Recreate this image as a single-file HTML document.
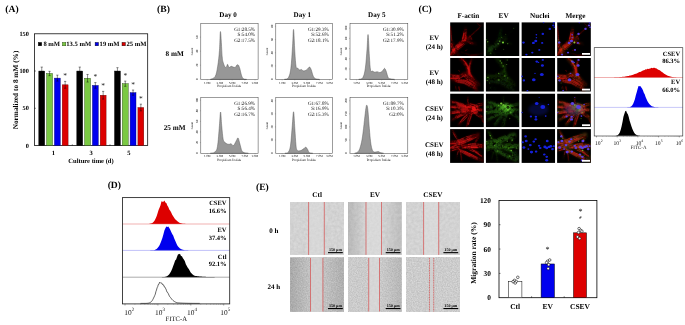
<!DOCTYPE html>
<html><head><meta charset="utf-8"><title>Figure</title>
<style>
html,body{margin:0;padding:0;background:#fff;}
svg{display:block;font-family:"Liberation Serif", serif;text-rendering:geometricPrecision;}
</style></head><body>
<svg width="685" height="325" viewBox="0 0 685 325">
<rect x="0" y="0" width="685" height="325" fill="#fff"/>
<text x="5.30" y="11.70" font-size="9.6" font-weight="bold" text-anchor="start" fill="#000" >(A)</text>
<text x="157.10" y="11.70" font-size="9.6" font-weight="bold" text-anchor="start" fill="#000" >(B)</text>
<text x="418.50" y="11.70" font-size="9.6" font-weight="bold" text-anchor="start" fill="#000" >(C)</text>
<text x="107.65" y="187.50" font-size="9.6" font-weight="bold" text-anchor="start" fill="#000" >(D)</text>
<text x="256.00" y="190.10" font-size="9.6" font-weight="bold" text-anchor="start" fill="#000" >(E)</text>
<rect x="34.50" y="33.80" width="113.20" height="111.70" fill="none" stroke="#000" stroke-width="0.75" />
<text x="28.90" y="147.60" font-size="6.3" font-weight="bold" text-anchor="end" fill="#000" >0</text>
<text x="28.90" y="110.37" font-size="6.3" font-weight="bold" text-anchor="end" fill="#000" >50</text>
<text x="28.90" y="73.13" font-size="6.3" font-weight="bold" text-anchor="end" fill="#000" >100</text>
<text x="28.90" y="35.90" font-size="6.3" font-weight="bold" text-anchor="end" fill="#000" >150</text>
<line x1="34.50" y1="108.27" x2="35.90" y2="108.27" stroke="#000" stroke-width="0.5" />
<line x1="34.50" y1="71.03" x2="35.90" y2="71.03" stroke="#000" stroke-width="0.5" />
<rect x="38.80" y="71.03" width="5.90" height="74.47" fill="#000000" stroke="#000" stroke-width="0.4" />
<line x1="41.75" y1="67.09" x2="41.75" y2="74.98" stroke="#000" stroke-width="0.45" />
<line x1="40.65" y1="67.09" x2="42.85" y2="67.09" stroke="#000" stroke-width="0.45" />
<line x1="40.65" y1="74.98" x2="42.85" y2="74.98" stroke="#000" stroke-width="0.45" />
<rect x="46.60" y="73.49" width="5.90" height="72.01" fill="#7ac943" stroke="#1f3d0c" stroke-width="0.4" />
<line x1="49.55" y1="71.33" x2="49.55" y2="75.65" stroke="#000" stroke-width="0.45" />
<line x1="48.45" y1="71.33" x2="50.65" y2="71.33" stroke="#000" stroke-width="0.45" />
<line x1="48.45" y1="75.65" x2="50.65" y2="75.65" stroke="#000" stroke-width="0.45" />
<rect x="54.40" y="78.11" width="5.90" height="67.39" fill="#0000ee" stroke="#000066" stroke-width="0.4" />
<line x1="57.35" y1="75.13" x2="57.35" y2="81.09" stroke="#000" stroke-width="0.45" />
<line x1="56.25" y1="75.13" x2="58.45" y2="75.13" stroke="#000" stroke-width="0.45" />
<line x1="56.25" y1="81.09" x2="58.45" y2="81.09" stroke="#000" stroke-width="0.45" />
<rect x="62.20" y="84.81" width="5.90" height="60.69" fill="#dd0000" stroke="#660000" stroke-width="0.4" />
<line x1="65.15" y1="81.38" x2="65.15" y2="88.24" stroke="#000" stroke-width="0.45" />
<line x1="64.05" y1="81.38" x2="66.25" y2="81.38" stroke="#000" stroke-width="0.45" />
<line x1="64.05" y1="88.24" x2="66.25" y2="88.24" stroke="#000" stroke-width="0.45" />
<text x="65.15" y="77.88" font-size="7.5" font-weight="normal" text-anchor="middle" fill="#222" >*</text>
<rect x="76.80" y="71.03" width="5.90" height="74.47" fill="#000000" stroke="#000" stroke-width="0.4" />
<line x1="79.75" y1="67.09" x2="79.75" y2="74.98" stroke="#000" stroke-width="0.45" />
<line x1="78.65" y1="67.09" x2="80.85" y2="67.09" stroke="#000" stroke-width="0.45" />
<line x1="78.65" y1="74.98" x2="80.85" y2="74.98" stroke="#000" stroke-width="0.45" />
<rect x="84.60" y="78.26" width="5.90" height="67.24" fill="#7ac943" stroke="#1f3d0c" stroke-width="0.4" />
<line x1="87.55" y1="74.46" x2="87.55" y2="82.05" stroke="#000" stroke-width="0.45" />
<line x1="86.45" y1="74.46" x2="88.65" y2="74.46" stroke="#000" stroke-width="0.45" />
<line x1="86.45" y1="82.05" x2="88.65" y2="82.05" stroke="#000" stroke-width="0.45" />
<rect x="92.40" y="85.41" width="5.90" height="60.09" fill="#0000ee" stroke="#000066" stroke-width="0.4" />
<line x1="95.35" y1="82.58" x2="95.35" y2="88.24" stroke="#000" stroke-width="0.45" />
<line x1="94.25" y1="82.58" x2="96.45" y2="82.58" stroke="#000" stroke-width="0.45" />
<line x1="94.25" y1="88.24" x2="96.45" y2="88.24" stroke="#000" stroke-width="0.45" />
<text x="95.35" y="79.08" font-size="7.5" font-weight="normal" text-anchor="middle" fill="#222" >*</text>
<rect x="100.20" y="95.23" width="5.90" height="50.27" fill="#dd0000" stroke="#660000" stroke-width="0.4" />
<line x1="103.15" y1="91.36" x2="103.15" y2="99.11" stroke="#000" stroke-width="0.45" />
<line x1="102.05" y1="91.36" x2="104.25" y2="91.36" stroke="#000" stroke-width="0.45" />
<line x1="102.05" y1="99.11" x2="104.25" y2="99.11" stroke="#000" stroke-width="0.45" />
<text x="103.15" y="87.86" font-size="7.5" font-weight="normal" text-anchor="middle" fill="#222" >*</text>
<rect x="114.50" y="71.03" width="5.90" height="74.47" fill="#000000" stroke="#000" stroke-width="0.4" />
<line x1="117.45" y1="67.68" x2="117.45" y2="74.38" stroke="#000" stroke-width="0.45" />
<line x1="116.35" y1="67.68" x2="118.55" y2="67.68" stroke="#000" stroke-width="0.45" />
<line x1="116.35" y1="74.38" x2="118.55" y2="74.38" stroke="#000" stroke-width="0.45" />
<rect x="122.30" y="83.69" width="5.90" height="61.81" fill="#7ac943" stroke="#1f3d0c" stroke-width="0.4" />
<line x1="125.25" y1="81.09" x2="125.25" y2="86.30" stroke="#000" stroke-width="0.45" />
<line x1="124.15" y1="81.09" x2="126.35" y2="81.09" stroke="#000" stroke-width="0.45" />
<line x1="124.15" y1="86.30" x2="126.35" y2="86.30" stroke="#000" stroke-width="0.45" />
<text x="125.25" y="77.59" font-size="7.5" font-weight="normal" text-anchor="middle" fill="#222" >*</text>
<rect x="130.10" y="92.63" width="5.90" height="52.87" fill="#0000ee" stroke="#000066" stroke-width="0.4" />
<line x1="133.05" y1="90.02" x2="133.05" y2="95.23" stroke="#000" stroke-width="0.45" />
<line x1="131.95" y1="90.02" x2="134.15" y2="90.02" stroke="#000" stroke-width="0.45" />
<line x1="131.95" y1="95.23" x2="134.15" y2="95.23" stroke="#000" stroke-width="0.45" />
<text x="133.05" y="86.52" font-size="7.5" font-weight="normal" text-anchor="middle" fill="#222" >*</text>
<rect x="137.90" y="107.52" width="5.90" height="37.98" fill="#dd0000" stroke="#660000" stroke-width="0.4" />
<line x1="140.85" y1="104.17" x2="140.85" y2="110.87" stroke="#000" stroke-width="0.45" />
<line x1="139.75" y1="104.17" x2="141.95" y2="104.17" stroke="#000" stroke-width="0.45" />
<line x1="139.75" y1="110.87" x2="141.95" y2="110.87" stroke="#000" stroke-width="0.45" />
<text x="140.85" y="100.67" font-size="7.5" font-weight="normal" text-anchor="middle" fill="#222" >*</text>
<line x1="72.30" y1="145.50" x2="72.30" y2="144.30" stroke="#000" stroke-width="0.5" />
<line x1="110.00" y1="145.50" x2="110.00" y2="144.30" stroke="#000" stroke-width="0.5" />
<text x="53.40" y="155.30" font-size="6.5" font-weight="bold" text-anchor="middle" fill="#000" >1</text>
<text x="91.20" y="155.30" font-size="6.5" font-weight="bold" text-anchor="middle" fill="#000" >3</text>
<text x="128.90" y="155.30" font-size="6.5" font-weight="bold" text-anchor="middle" fill="#000" >5</text>
<text x="91.00" y="162.90" font-size="6.55" font-weight="bold" text-anchor="middle" fill="#000" >Culture time (d)</text>
<text transform="translate(17.8,90) rotate(-90)" font-size="7.3" font-weight="bold" text-anchor="middle">Normalized to 8 mM (%)</text>
<rect x="38.30" y="42.40" width="3.40" height="3.40" fill="#000" stroke="#000" stroke-width="0.4" />
<text x="43.40" y="46.40" font-size="6.6" font-weight="bold" text-anchor="start" fill="#000" >8 mM</text>
<rect x="62.40" y="42.40" width="3.40" height="3.40" fill="#7ac943" stroke="#1f3d0c" stroke-width="0.4" />
<text x="66.30" y="46.40" font-size="6.6" font-weight="bold" text-anchor="start" fill="#000" >13.5 mM</text>
<rect x="95.10" y="42.40" width="3.40" height="3.40" fill="#0000ee" stroke="#000" stroke-width="0.4" />
<text x="99.60" y="46.40" font-size="6.6" font-weight="bold" text-anchor="start" fill="#000" >19 mM</text>
<rect x="122.00" y="42.40" width="3.40" height="3.40" fill="#dd0000" stroke="#000" stroke-width="0.4" />
<text x="126.50" y="46.40" font-size="6.6" font-weight="bold" text-anchor="start" fill="#000" >25 mM</text>
<text x="228.10" y="17.30" font-size="7.1" font-weight="bold" text-anchor="middle" fill="#000" >Day 0</text>
<text x="302.30" y="17.30" font-size="7.1" font-weight="bold" text-anchor="middle" fill="#000" >Day 1</text>
<text x="376.80" y="17.30" font-size="7.1" font-weight="bold" text-anchor="middle" fill="#000" >Day 5</text>
<text x="174.60" y="56.30" font-size="7.2" font-weight="bold" text-anchor="middle" fill="#000" >8 mM</text>
<text x="174.60" y="129.70" font-size="7.2" font-weight="bold" text-anchor="middle" fill="#000" >25 mM</text>
<path d="M210.31,79.40 C211.19,78.87 213.85,78.86 215.18,76.47 C216.51,74.08 216.93,70.84 217.70,66.14 C218.48,61.43 218.97,56.55 219.48,50.33 C219.99,44.12 220.03,30.50 220.51,31.60 C221.00,32.71 221.69,50.92 222.17,56.47 C222.66,62.02 222.68,60.53 223.20,62.44 C223.73,64.35 224.49,66.31 225.10,67.08 C225.70,67.84 226.15,67.19 226.59,66.69 C227.02,66.19 227.05,64.21 227.50,64.31 C227.96,64.42 228.44,66.94 229.11,67.30 C229.78,67.66 230.50,66.34 231.23,66.30 C231.95,66.26 232.38,66.90 233.12,67.08 C233.85,67.26 234.63,67.65 235.29,67.30 C235.95,66.95 236.23,65.53 236.78,65.14 C237.34,64.76 237.84,64.53 238.39,65.14 C238.94,65.76 239.27,66.77 239.82,68.57 C240.37,70.37 240.77,73.30 241.43,75.15 C242.09,76.99 242.55,78.03 243.49,78.79 C244.43,79.56 246.07,79.29 246.64,79.40 Z" fill="#979797" stroke="#505050" stroke-width="0.45" stroke-linejoin="round"/>
<rect x="200.80" y="23.40" width="57.30" height="56.10" fill="none" stroke="#3a3a3a" stroke-width="0.5" />
<text x="255.00" y="30.50" font-size="5.1" font-weight="normal" text-anchor="end" fill="#111" >G1:28.5%</text>
<text x="255.00" y="36.10" font-size="5.1" font-weight="normal" text-anchor="end" fill="#111" >S:54.0%</text>
<text x="255.00" y="41.70" font-size="5.1" font-weight="normal" text-anchor="end" fill="#111" >G2:17.5%</text>
<line x1="207.22" y1="79.50" x2="207.22" y2="80.40" stroke="#555" stroke-width="0.3" />
<text x="207.22" y="83.50" font-size="3.1" font-weight="normal" text-anchor="middle" fill="#000" >1.0M</text>
<line x1="219.88" y1="79.50" x2="219.88" y2="80.40" stroke="#555" stroke-width="0.3" />
<text x="219.88" y="83.50" font-size="3.1" font-weight="normal" text-anchor="middle" fill="#000" >3.0M</text>
<line x1="232.20" y1="79.50" x2="232.20" y2="80.40" stroke="#555" stroke-width="0.3" />
<text x="232.20" y="83.50" font-size="3.1" font-weight="normal" text-anchor="middle" fill="#000" >5.0M</text>
<line x1="244.81" y1="79.50" x2="244.81" y2="80.40" stroke="#555" stroke-width="0.3" />
<text x="244.81" y="83.50" font-size="3.1" font-weight="normal" text-anchor="middle" fill="#000" >7.0M</text>
<line x1="255.01" y1="79.50" x2="255.01" y2="80.40" stroke="#555" stroke-width="0.3" />
<text x="255.01" y="83.50" font-size="3.1" font-weight="normal" text-anchor="middle" fill="#000" >9.0M</text>
<text x="229.11" y="87.10" font-size="3.4" font-weight="normal" text-anchor="middle" fill="#000" >Propidium Iodide</text>
<line x1="199.90" y1="79.20" x2="200.80" y2="79.20" stroke="#555" stroke-width="0.3" />
<text transform="translate(198.20,79.20) rotate(-90)" font-size="3.1" text-anchor="middle" fill="#000">0</text>
<line x1="199.90" y1="65.17" x2="200.80" y2="65.17" stroke="#555" stroke-width="0.3" />
<text transform="translate(198.20,65.17) rotate(-90)" font-size="3.1" text-anchor="middle" fill="#000">20</text>
<line x1="199.90" y1="51.15" x2="200.80" y2="51.15" stroke="#555" stroke-width="0.3" />
<text transform="translate(198.20,51.15) rotate(-90)" font-size="3.1" text-anchor="middle" fill="#000">40</text>
<line x1="199.90" y1="37.12" x2="200.80" y2="37.12" stroke="#555" stroke-width="0.3" />
<text transform="translate(198.20,37.12) rotate(-90)" font-size="3.1" text-anchor="middle" fill="#000">60</text>
<text transform="translate(193.00,51.45) rotate(-90)" font-size="3.1" text-anchor="middle" fill="#000">Count</text>
<path d="M284.32,79.40 C285.04,79.10 287.12,79.73 288.30,77.74 C289.47,75.75 290.09,74.02 290.85,68.35 C291.62,62.68 292.07,53.25 292.56,46.24 C293.05,39.24 293.17,28.45 293.58,29.45 C293.99,30.44 294.38,45.09 294.83,51.77 C295.28,58.45 295.52,63.60 296.08,66.58 C296.64,69.56 297.31,67.73 297.95,68.35 C298.60,68.96 299.04,69.81 299.66,70.01 C300.27,70.20 300.75,69.30 301.36,69.45 C301.97,69.60 302.35,70.64 303.06,70.83 C303.78,71.03 304.52,70.91 305.34,70.56 C306.15,70.21 306.84,69.53 307.61,68.90 C308.37,68.27 308.93,66.88 309.60,67.08 C310.26,67.28 310.64,68.35 311.30,70.01 C311.96,71.66 312.52,74.68 313.29,76.25 C314.05,77.82 314.44,78.17 315.56,78.74 C316.68,79.30 318.82,79.28 319.54,79.40 Z" fill="#979797" stroke="#505050" stroke-width="0.45" stroke-linejoin="round"/>
<rect x="275.80" y="23.40" width="56.80" height="56.10" fill="none" stroke="#3a3a3a" stroke-width="0.5" />
<text x="328.70" y="30.50" font-size="5.1" font-weight="normal" text-anchor="end" fill="#111" >G1:29.3%</text>
<text x="328.70" y="36.10" font-size="5.1" font-weight="normal" text-anchor="end" fill="#111" >S:52.6%</text>
<text x="328.70" y="41.70" font-size="5.1" font-weight="normal" text-anchor="end" fill="#111" >G2:18.1%</text>
<line x1="282.16" y1="79.50" x2="282.16" y2="80.40" stroke="#555" stroke-width="0.3" />
<text x="282.16" y="83.50" font-size="3.1" font-weight="normal" text-anchor="middle" fill="#000" >1.0M</text>
<line x1="294.71" y1="79.50" x2="294.71" y2="80.40" stroke="#555" stroke-width="0.3" />
<text x="294.71" y="83.50" font-size="3.1" font-weight="normal" text-anchor="middle" fill="#000" >3.0M</text>
<line x1="306.93" y1="79.50" x2="306.93" y2="80.40" stroke="#555" stroke-width="0.3" />
<text x="306.93" y="83.50" font-size="3.1" font-weight="normal" text-anchor="middle" fill="#000" >5.0M</text>
<line x1="319.42" y1="79.50" x2="319.42" y2="80.40" stroke="#555" stroke-width="0.3" />
<text x="319.42" y="83.50" font-size="3.1" font-weight="normal" text-anchor="middle" fill="#000" >7.0M</text>
<line x1="329.53" y1="79.50" x2="329.53" y2="80.40" stroke="#555" stroke-width="0.3" />
<text x="329.53" y="83.50" font-size="3.1" font-weight="normal" text-anchor="middle" fill="#000" >9.0M</text>
<text x="303.86" y="87.10" font-size="3.4" font-weight="normal" text-anchor="middle" fill="#000" >Propidium Iodide</text>
<line x1="274.90" y1="79.20" x2="275.80" y2="79.20" stroke="#555" stroke-width="0.3" />
<text transform="translate(273.20,79.20) rotate(-90)" font-size="3.1" text-anchor="middle" fill="#000">0</text>
<line x1="274.90" y1="65.96" x2="275.80" y2="65.96" stroke="#555" stroke-width="0.3" />
<text transform="translate(273.20,65.96) rotate(-90)" font-size="3.1" text-anchor="middle" fill="#000">20</text>
<line x1="274.90" y1="52.72" x2="275.80" y2="52.72" stroke="#555" stroke-width="0.3" />
<text transform="translate(273.20,52.72) rotate(-90)" font-size="3.1" text-anchor="middle" fill="#000">40</text>
<line x1="274.90" y1="39.48" x2="275.80" y2="39.48" stroke="#555" stroke-width="0.3" />
<text transform="translate(273.20,39.48) rotate(-90)" font-size="3.1" text-anchor="middle" fill="#000">60</text>
<line x1="274.90" y1="26.24" x2="275.80" y2="26.24" stroke="#555" stroke-width="0.3" />
<text transform="translate(273.20,26.24) rotate(-90)" font-size="3.1" text-anchor="middle" fill="#000">80</text>
<text transform="translate(268.00,51.45) rotate(-90)" font-size="3.1" text-anchor="middle" fill="#000">Count</text>
<path d="M358.67,79.40 C359.40,79.10 361.52,79.73 362.72,77.74 C363.91,75.75 364.54,73.52 365.32,68.35 C366.10,63.18 366.55,55.08 367.05,49.01 C367.55,42.94 367.68,33.35 368.09,34.64 C368.51,35.93 368.92,49.79 369.36,56.19 C369.81,62.60 370.00,67.54 370.58,70.23 C371.15,72.91 371.77,70.75 372.54,71.11 C373.31,71.47 374.02,72.12 374.85,72.22 C375.69,72.32 376.33,71.61 377.17,71.66 C378.00,71.71 378.65,72.49 379.48,72.49 C380.31,72.49 381.06,72.21 381.79,71.66 C382.52,71.12 383.00,70.03 383.52,69.45 C384.04,68.88 384.21,68.16 384.68,68.46 C385.15,68.76 385.50,69.49 386.12,71.11 C386.75,72.73 387.37,76.07 388.15,77.47 C388.93,78.86 389.32,78.50 390.46,78.85 C391.60,79.20 393.78,79.30 394.51,79.40 Z" fill="#979797" stroke="#505050" stroke-width="0.45" stroke-linejoin="round"/>
<rect x="350.00" y="23.40" width="57.80" height="56.10" fill="none" stroke="#3a3a3a" stroke-width="0.5" />
<text x="403.70" y="30.50" font-size="5.1" font-weight="normal" text-anchor="end" fill="#111" >G1:30.9%</text>
<text x="403.70" y="36.10" font-size="5.1" font-weight="normal" text-anchor="end" fill="#111" >S:51.2%</text>
<text x="403.70" y="41.70" font-size="5.1" font-weight="normal" text-anchor="end" fill="#111" >G2:17.9%</text>
<line x1="356.47" y1="79.50" x2="356.47" y2="80.40" stroke="#555" stroke-width="0.3" />
<text x="356.47" y="83.50" font-size="3.1" font-weight="normal" text-anchor="middle" fill="#000" >1.0M</text>
<line x1="369.25" y1="79.50" x2="369.25" y2="80.40" stroke="#555" stroke-width="0.3" />
<text x="369.25" y="83.50" font-size="3.1" font-weight="normal" text-anchor="middle" fill="#000" >3.0M</text>
<line x1="381.67" y1="79.50" x2="381.67" y2="80.40" stroke="#555" stroke-width="0.3" />
<text x="381.67" y="83.50" font-size="3.1" font-weight="normal" text-anchor="middle" fill="#000" >5.0M</text>
<line x1="394.39" y1="79.50" x2="394.39" y2="80.40" stroke="#555" stroke-width="0.3" />
<text x="394.39" y="83.50" font-size="3.1" font-weight="normal" text-anchor="middle" fill="#000" >7.0M</text>
<line x1="404.68" y1="79.50" x2="404.68" y2="80.40" stroke="#555" stroke-width="0.3" />
<text x="404.68" y="83.50" font-size="3.1" font-weight="normal" text-anchor="middle" fill="#000" >9.0M</text>
<text x="378.55" y="87.10" font-size="3.4" font-weight="normal" text-anchor="middle" fill="#000" >Propidium Iodide</text>
<line x1="349.10" y1="79.20" x2="350.00" y2="79.20" stroke="#555" stroke-width="0.3" />
<text transform="translate(347.40,79.20) rotate(-90)" font-size="3.1" text-anchor="middle" fill="#000">0</text>
<line x1="349.10" y1="68.99" x2="350.00" y2="68.99" stroke="#555" stroke-width="0.3" />
<text transform="translate(347.40,68.99) rotate(-90)" font-size="3.1" text-anchor="middle" fill="#000">20</text>
<line x1="349.10" y1="58.78" x2="350.00" y2="58.78" stroke="#555" stroke-width="0.3" />
<text transform="translate(347.40,58.78) rotate(-90)" font-size="3.1" text-anchor="middle" fill="#000">40</text>
<line x1="349.10" y1="48.57" x2="350.00" y2="48.57" stroke="#555" stroke-width="0.3" />
<text transform="translate(347.40,48.57) rotate(-90)" font-size="3.1" text-anchor="middle" fill="#000">60</text>
<line x1="349.10" y1="38.36" x2="350.00" y2="38.36" stroke="#555" stroke-width="0.3" />
<text transform="translate(347.40,38.36) rotate(-90)" font-size="3.1" text-anchor="middle" fill="#000">80</text>
<line x1="349.10" y1="28.15" x2="350.00" y2="28.15" stroke="#555" stroke-width="0.3" />
<text transform="translate(347.40,28.15) rotate(-90)" font-size="3.1" text-anchor="middle" fill="#000">100</text>
<text transform="translate(342.20,51.45) rotate(-90)" font-size="3.1" text-anchor="middle" fill="#000">Count</text>
<path d="M210.31,153.30 C211.08,153.10 213.27,153.39 214.55,152.20 C215.83,151.02 216.54,151.46 217.42,146.72 C218.29,141.98 218.86,132.11 219.42,125.87 C219.99,119.63 220.16,112.04 220.57,112.04 C220.98,112.04 221.25,120.98 221.71,125.87 C222.18,130.76 222.58,136.24 223.15,139.20 C223.71,142.16 224.14,141.47 224.87,142.33 C225.59,143.19 226.33,143.63 227.16,143.97 C227.98,144.32 228.73,144.30 229.45,144.25 C230.17,144.20 230.55,143.45 231.17,143.70 C231.79,143.95 232.32,145.47 232.89,145.62 C233.46,145.77 233.70,145.41 234.32,144.52 C234.94,143.63 235.66,141.87 236.33,140.68 C237.00,139.50 237.48,137.64 238.05,137.94 C238.61,138.23 238.96,140.55 239.48,142.33 C239.99,144.10 240.45,146.19 240.91,147.81 C241.37,149.43 241.44,150.46 242.06,151.32 C242.67,152.19 243.21,152.29 244.35,152.64 C245.48,153.00 247.64,153.18 248.36,153.30 Z" fill="#979797" stroke="#505050" stroke-width="0.45" stroke-linejoin="round"/>
<rect x="200.80" y="97.70" width="57.30" height="55.70" fill="none" stroke="#3a3a3a" stroke-width="0.5" />
<text x="255.00" y="104.80" font-size="5.1" font-weight="normal" text-anchor="end" fill="#111" >G1:26.9%</text>
<text x="255.00" y="110.40" font-size="5.1" font-weight="normal" text-anchor="end" fill="#111" >S:56.4%</text>
<text x="255.00" y="116.00" font-size="5.1" font-weight="normal" text-anchor="end" fill="#111" >G2:16.7%</text>
<line x1="207.22" y1="153.40" x2="207.22" y2="154.30" stroke="#555" stroke-width="0.3" />
<text x="207.22" y="157.40" font-size="3.1" font-weight="normal" text-anchor="middle" fill="#000" >1.0M</text>
<line x1="219.88" y1="153.40" x2="219.88" y2="154.30" stroke="#555" stroke-width="0.3" />
<text x="219.88" y="157.40" font-size="3.1" font-weight="normal" text-anchor="middle" fill="#000" >3.0M</text>
<line x1="232.20" y1="153.40" x2="232.20" y2="154.30" stroke="#555" stroke-width="0.3" />
<text x="232.20" y="157.40" font-size="3.1" font-weight="normal" text-anchor="middle" fill="#000" >5.0M</text>
<line x1="244.81" y1="153.40" x2="244.81" y2="154.30" stroke="#555" stroke-width="0.3" />
<text x="244.81" y="157.40" font-size="3.1" font-weight="normal" text-anchor="middle" fill="#000" >7.0M</text>
<line x1="255.01" y1="153.40" x2="255.01" y2="154.30" stroke="#555" stroke-width="0.3" />
<text x="255.01" y="157.40" font-size="3.1" font-weight="normal" text-anchor="middle" fill="#000" >9.0M</text>
<text x="229.11" y="161.00" font-size="3.4" font-weight="normal" text-anchor="middle" fill="#000" >Propidium Iodide</text>
<line x1="199.90" y1="153.10" x2="200.80" y2="153.10" stroke="#555" stroke-width="0.3" />
<text transform="translate(198.20,153.10) rotate(-90)" font-size="3.1" text-anchor="middle" fill="#000">0</text>
<line x1="199.90" y1="142.52" x2="200.80" y2="142.52" stroke="#555" stroke-width="0.3" />
<text transform="translate(198.20,142.52) rotate(-90)" font-size="3.1" text-anchor="middle" fill="#000">20</text>
<line x1="199.90" y1="131.93" x2="200.80" y2="131.93" stroke="#555" stroke-width="0.3" />
<text transform="translate(198.20,131.93) rotate(-90)" font-size="3.1" text-anchor="middle" fill="#000">40</text>
<line x1="199.90" y1="121.35" x2="200.80" y2="121.35" stroke="#555" stroke-width="0.3" />
<text transform="translate(198.20,121.35) rotate(-90)" font-size="3.1" text-anchor="middle" fill="#000">60</text>
<line x1="199.90" y1="110.77" x2="200.80" y2="110.77" stroke="#555" stroke-width="0.3" />
<text transform="translate(198.20,110.77) rotate(-90)" font-size="3.1" text-anchor="middle" fill="#000">80</text>
<line x1="199.90" y1="100.19" x2="200.80" y2="100.19" stroke="#555" stroke-width="0.3" />
<text transform="translate(198.20,100.19) rotate(-90)" font-size="3.1" text-anchor="middle" fill="#000">100</text>
<text transform="translate(193.00,125.55) rotate(-90)" font-size="3.1" text-anchor="middle" fill="#000">Count</text>
<path d="M284.89,153.30 C285.50,153.10 287.27,153.68 288.30,152.20 C289.32,150.72 289.85,149.81 290.57,145.07 C291.28,140.33 291.73,131.85 292.27,125.87 C292.81,119.88 293.12,111.33 293.58,111.82 C294.04,112.32 294.40,122.63 294.83,128.61 C295.26,134.60 295.56,141.19 295.96,145.07 C296.37,148.95 296.44,149.14 297.10,150.17 C297.76,151.21 298.79,150.86 299.66,150.83 C300.53,150.80 301.11,150.45 301.93,150.01 C302.75,149.56 303.48,148.86 304.20,148.36 C304.92,147.87 305.29,147.07 305.90,147.26 C306.52,147.46 306.99,148.49 307.61,149.46 C308.22,150.43 308.39,151.95 309.31,152.64 C310.23,153.33 312.11,153.18 312.72,153.30 Z" fill="#979797" stroke="#505050" stroke-width="0.45" stroke-linejoin="round"/>
<rect x="275.80" y="97.70" width="56.80" height="55.70" fill="none" stroke="#3a3a3a" stroke-width="0.5" />
<text x="328.70" y="104.80" font-size="5.1" font-weight="normal" text-anchor="end" fill="#111" >G1:67.8%</text>
<text x="328.70" y="110.40" font-size="5.1" font-weight="normal" text-anchor="end" fill="#111" >S:16.9%</text>
<text x="328.70" y="116.00" font-size="5.1" font-weight="normal" text-anchor="end" fill="#111" >G2:15.3%</text>
<line x1="282.16" y1="153.40" x2="282.16" y2="154.30" stroke="#555" stroke-width="0.3" />
<text x="282.16" y="157.40" font-size="3.1" font-weight="normal" text-anchor="middle" fill="#000" >1.0M</text>
<line x1="294.71" y1="153.40" x2="294.71" y2="154.30" stroke="#555" stroke-width="0.3" />
<text x="294.71" y="157.40" font-size="3.1" font-weight="normal" text-anchor="middle" fill="#000" >3.0M</text>
<line x1="306.93" y1="153.40" x2="306.93" y2="154.30" stroke="#555" stroke-width="0.3" />
<text x="306.93" y="157.40" font-size="3.1" font-weight="normal" text-anchor="middle" fill="#000" >5.0M</text>
<line x1="319.42" y1="153.40" x2="319.42" y2="154.30" stroke="#555" stroke-width="0.3" />
<text x="319.42" y="157.40" font-size="3.1" font-weight="normal" text-anchor="middle" fill="#000" >7.0M</text>
<line x1="329.53" y1="153.40" x2="329.53" y2="154.30" stroke="#555" stroke-width="0.3" />
<text x="329.53" y="157.40" font-size="3.1" font-weight="normal" text-anchor="middle" fill="#000" >9.0M</text>
<text x="303.86" y="161.00" font-size="3.4" font-weight="normal" text-anchor="middle" fill="#000" >Propidium Iodide</text>
<line x1="274.90" y1="153.10" x2="275.80" y2="153.10" stroke="#555" stroke-width="0.3" />
<text transform="translate(273.20,153.10) rotate(-90)" font-size="3.1" text-anchor="middle" fill="#000">0</text>
<line x1="274.90" y1="140.01" x2="275.80" y2="140.01" stroke="#555" stroke-width="0.3" />
<text transform="translate(273.20,140.01) rotate(-90)" font-size="3.1" text-anchor="middle" fill="#000">10</text>
<line x1="274.90" y1="126.92" x2="275.80" y2="126.92" stroke="#555" stroke-width="0.3" />
<text transform="translate(273.20,126.92) rotate(-90)" font-size="3.1" text-anchor="middle" fill="#000">20</text>
<line x1="274.90" y1="113.83" x2="275.80" y2="113.83" stroke="#555" stroke-width="0.3" />
<text transform="translate(273.20,113.83) rotate(-90)" font-size="3.1" text-anchor="middle" fill="#000">30</text>
<line x1="274.90" y1="100.74" x2="275.80" y2="100.74" stroke="#555" stroke-width="0.3" />
<text transform="translate(273.20,100.74) rotate(-90)" font-size="3.1" text-anchor="middle" fill="#000">40</text>
<text transform="translate(268.00,125.55) rotate(-90)" font-size="3.1" text-anchor="middle" fill="#000">Count</text>
<path d="M354.62,153.30 C355.25,153.00 357.05,152.84 358.09,151.65 C359.13,150.47 359.61,149.38 360.40,146.72 C361.19,144.05 361.76,141.58 362.48,136.84 C363.21,132.10 363.84,125.52 364.45,120.38 C365.06,115.25 365.46,111.04 365.89,108.31 C366.33,105.59 366.51,104.84 366.88,105.24 C367.24,105.63 367.47,106.30 367.92,110.51 C368.37,114.71 368.88,123.01 369.36,128.61 C369.84,134.21 370.11,137.96 370.58,141.61 C371.04,145.27 371.40,147.07 371.96,148.91 C372.53,150.75 372.97,151.28 373.70,151.82 C374.43,152.36 375.18,151.98 376.01,151.93 C376.84,151.88 377.59,151.45 378.32,151.54 C379.05,151.64 379.12,152.16 380.06,152.48 C380.99,152.79 382.90,153.15 383.52,153.30 Z" fill="#979797" stroke="#505050" stroke-width="0.45" stroke-linejoin="round"/>
<rect x="350.00" y="97.70" width="57.80" height="55.70" fill="none" stroke="#3a3a3a" stroke-width="0.5" />
<text x="403.70" y="104.80" font-size="5.1" font-weight="normal" text-anchor="end" fill="#111" >G1:89.7%</text>
<text x="403.70" y="110.40" font-size="5.1" font-weight="normal" text-anchor="end" fill="#111" >S:10.3%</text>
<text x="403.70" y="116.00" font-size="5.1" font-weight="normal" text-anchor="end" fill="#111" >G2:0%</text>
<line x1="356.47" y1="153.40" x2="356.47" y2="154.30" stroke="#555" stroke-width="0.3" />
<text x="356.47" y="157.40" font-size="3.1" font-weight="normal" text-anchor="middle" fill="#000" >1.0M</text>
<line x1="369.25" y1="153.40" x2="369.25" y2="154.30" stroke="#555" stroke-width="0.3" />
<text x="369.25" y="157.40" font-size="3.1" font-weight="normal" text-anchor="middle" fill="#000" >3.0M</text>
<line x1="381.67" y1="153.40" x2="381.67" y2="154.30" stroke="#555" stroke-width="0.3" />
<text x="381.67" y="157.40" font-size="3.1" font-weight="normal" text-anchor="middle" fill="#000" >5.0M</text>
<line x1="394.39" y1="153.40" x2="394.39" y2="154.30" stroke="#555" stroke-width="0.3" />
<text x="394.39" y="157.40" font-size="3.1" font-weight="normal" text-anchor="middle" fill="#000" >7.0M</text>
<line x1="404.68" y1="153.40" x2="404.68" y2="154.30" stroke="#555" stroke-width="0.3" />
<text x="404.68" y="157.40" font-size="3.1" font-weight="normal" text-anchor="middle" fill="#000" >9.0M</text>
<text x="378.55" y="161.00" font-size="3.4" font-weight="normal" text-anchor="middle" fill="#000" >Propidium Iodide</text>
<line x1="349.10" y1="153.10" x2="350.00" y2="153.10" stroke="#555" stroke-width="0.3" />
<text transform="translate(347.40,153.10) rotate(-90)" font-size="3.1" text-anchor="middle" fill="#000">0</text>
<line x1="349.10" y1="140.01" x2="350.00" y2="140.01" stroke="#555" stroke-width="0.3" />
<text transform="translate(347.40,140.01) rotate(-90)" font-size="3.1" text-anchor="middle" fill="#000">50</text>
<line x1="349.10" y1="126.92" x2="350.00" y2="126.92" stroke="#555" stroke-width="0.3" />
<text transform="translate(347.40,126.92) rotate(-90)" font-size="3.1" text-anchor="middle" fill="#000">100</text>
<line x1="349.10" y1="113.83" x2="350.00" y2="113.83" stroke="#555" stroke-width="0.3" />
<text transform="translate(347.40,113.83) rotate(-90)" font-size="3.1" text-anchor="middle" fill="#000">150</text>
<line x1="349.10" y1="100.74" x2="350.00" y2="100.74" stroke="#555" stroke-width="0.3" />
<text transform="translate(347.40,100.74) rotate(-90)" font-size="3.1" text-anchor="middle" fill="#000">200</text>
<text transform="translate(342.20,125.55) rotate(-90)" font-size="3.1" text-anchor="middle" fill="#000">Count</text>
<path d="M122.50,224.00 L123.47,224.00 L124.45,224.00 L125.42,224.00 L126.40,224.00 L127.37,224.00 L128.35,224.00 L129.32,224.00 L130.30,224.00 L131.27,224.00 L132.25,224.00 L133.22,224.00 L134.19,224.00 L135.17,224.00 L136.14,224.00 L137.12,224.00 L138.09,224.00 L139.07,224.00 L140.04,224.00 L141.02,224.00 L141.99,224.00 L142.97,224.00 L143.94,224.00 L144.91,224.00 L145.89,223.99 L146.86,223.98 L147.84,223.96 L148.81,223.91 L149.79,223.81 L150.76,223.62 L151.74,223.28 L152.71,222.72 L153.69,221.82 L154.66,220.58 L155.63,218.61 L156.61,216.34 L157.58,213.25 L158.56,210.02 L159.53,207.74 L160.51,205.15 L161.48,201.37 L162.46,201.63 L163.43,201.70 L164.41,200.49 L165.38,202.57 L166.35,203.10 L167.33,205.39 L168.30,206.88 L169.28,209.54 L170.25,210.77 L171.23,212.45 L172.20,214.65 L173.18,216.15 L174.15,217.72 L175.13,219.33 L176.10,220.12 L177.07,221.12 L178.05,221.86 L179.02,222.43 L180.00,222.88 L180.97,223.21 L181.95,223.45 L182.92,223.63 L183.90,223.75 L184.87,223.84 L185.85,223.90 L186.82,223.94 L187.79,223.96 L188.77,223.98 L189.74,223.99 L190.72,223.99 L191.69,224.00 L192.67,224.00 L193.64,224.00 L194.62,224.00 L195.59,224.00 L196.57,224.00 L197.54,224.00 L198.51,224.00 L199.49,224.00 L200.46,224.00 L201.44,224.00 L202.41,224.00 L203.39,224.00 L204.36,224.00 L205.34,224.00 L206.31,224.00 L207.29,224.00 L208.26,224.00 L209.23,224.00 L210.21,224.00 L211.18,224.00 L212.16,224.00 L213.13,224.00 L214.11,224.00 L215.08,224.00 L216.06,224.00 L217.03,224.00 L218.01,224.00 L218.98,224.00 L219.95,224.00 L220.93,224.00 L221.90,224.00 L222.88,224.00 L223.85,224.00 L224.83,224.00 L225.80,224.00 L226.78,224.00 L227.75,224.00 L228.73,224.00 L229.70,224.00 L229.70,224.00 L122.50,224.00 Z" fill="#dd0000" stroke="none" stroke-width="0.4" stroke-linejoin="round"/>
<line x1="122.50" y1="224.00" x2="229.70" y2="224.00" stroke="#e06060" stroke-width="0.5" />
<path d="M122.50,250.40 L123.47,250.40 L124.45,250.40 L125.42,250.40 L126.40,250.40 L127.37,250.40 L128.35,250.40 L129.32,250.40 L130.30,250.40 L131.27,250.40 L132.25,250.40 L133.22,250.40 L134.19,250.40 L135.17,250.40 L136.14,250.40 L137.12,250.40 L138.09,250.40 L139.07,250.40 L140.04,250.40 L141.02,250.40 L141.99,250.40 L142.97,250.40 L143.94,250.40 L144.91,250.40 L145.89,250.40 L146.86,250.40 L147.84,250.40 L148.81,250.39 L149.79,250.39 L150.76,250.37 L151.74,250.33 L152.71,250.26 L153.69,250.14 L154.66,249.91 L155.63,249.54 L156.61,248.94 L157.58,248.05 L158.56,246.87 L159.53,245.26 L160.51,242.92 L161.48,240.55 L162.46,237.81 L163.43,234.33 L164.41,230.46 L165.38,228.17 L166.35,226.52 L167.33,227.08 L168.30,226.56 L169.28,228.09 L170.25,229.83 L171.23,231.93 L172.20,234.01 L173.18,235.43 L174.15,238.15 L175.13,240.61 L176.10,242.80 L177.07,245.01 L178.05,246.41 L179.02,247.51 L180.00,248.41 L180.97,249.07 L181.95,249.54 L182.92,249.86 L183.90,250.07 L184.87,250.20 L185.85,250.29 L186.82,250.34 L187.79,250.37 L188.77,250.38 L189.74,250.39 L190.72,250.40 L191.69,250.40 L192.67,250.40 L193.64,250.40 L194.62,250.40 L195.59,250.40 L196.57,250.40 L197.54,250.40 L198.51,250.40 L199.49,250.40 L200.46,250.40 L201.44,250.40 L202.41,250.40 L203.39,250.40 L204.36,250.40 L205.34,250.40 L206.31,250.40 L207.29,250.40 L208.26,250.40 L209.23,250.40 L210.21,250.40 L211.18,250.40 L212.16,250.40 L213.13,250.40 L214.11,250.40 L215.08,250.40 L216.06,250.40 L217.03,250.40 L218.01,250.40 L218.98,250.40 L219.95,250.40 L220.93,250.40 L221.90,250.40 L222.88,250.40 L223.85,250.40 L224.83,250.40 L225.80,250.40 L226.78,250.40 L227.75,250.40 L228.73,250.40 L229.70,250.40 L229.70,250.40 L122.50,250.40 Z" fill="#0000ee" stroke="none" stroke-width="0.4" stroke-linejoin="round"/>
<line x1="122.50" y1="250.40" x2="229.70" y2="250.40" stroke="#8080f0" stroke-width="0.5" />
<path d="M122.50,277.20 L123.47,277.20 L124.45,277.20 L125.42,277.20 L126.40,277.20 L127.37,277.20 L128.35,277.20 L129.32,277.20 L130.30,277.20 L131.27,277.20 L132.25,277.20 L133.22,277.20 L134.19,277.20 L135.17,277.20 L136.14,277.20 L137.12,277.20 L138.09,277.20 L139.07,277.20 L140.04,277.20 L141.02,277.20 L141.99,277.20 L142.97,277.20 L143.94,277.20 L144.91,277.20 L145.89,277.20 L146.86,277.20 L147.84,277.20 L148.81,277.20 L149.79,277.20 L150.76,277.20 L151.74,277.20 L152.71,277.20 L153.69,277.20 L154.66,277.20 L155.63,277.20 L156.61,277.20 L157.58,277.20 L158.56,277.20 L159.53,277.19 L160.51,277.18 L161.48,277.16 L162.46,277.12 L163.43,277.05 L164.41,276.93 L165.38,276.73 L166.35,276.40 L167.33,275.91 L168.30,275.18 L169.28,274.15 L170.25,272.73 L171.23,270.89 L172.20,268.67 L173.18,266.00 L174.15,263.52 L175.13,260.50 L176.10,259.57 L177.07,256.71 L178.05,254.22 L179.02,254.20 L180.00,253.73 L180.97,256.09 L181.95,256.37 L182.92,258.26 L183.90,259.44 L184.87,261.36 L185.85,264.19 L186.82,265.90 L187.79,267.75 L188.77,269.02 L189.74,270.79 L190.72,272.51 L191.69,273.40 L192.67,274.46 L193.64,275.21 L194.62,275.79 L195.59,275.96 L196.57,276.07 L197.54,276.18 L198.51,276.29 L199.49,276.38 L200.46,276.48 L201.44,276.56 L202.41,276.64 L203.39,276.71 L204.36,276.78 L205.34,276.83 L206.31,276.89 L207.29,276.93 L208.26,276.97 L209.23,277.01 L210.21,277.04 L211.18,277.07 L212.16,277.09 L213.13,277.11 L214.11,277.12 L215.08,277.14 L216.06,277.15 L217.03,277.16 L218.01,277.17 L218.98,277.17 L219.95,277.18 L220.93,277.18 L221.90,277.19 L222.88,277.19 L223.85,277.19 L224.83,277.19 L225.80,277.20 L226.78,277.20 L227.75,277.20 L228.73,277.20 L229.70,277.20 L229.70,277.20 L122.50,277.20 Z" fill="#000" stroke="none" stroke-width="0.4" stroke-linejoin="round"/>
<line x1="122.50" y1="277.20" x2="229.70" y2="277.20" stroke="#555" stroke-width="0.5" />
<path d="M140.50,303.40 L141.09,303.40 L141.68,303.40 L142.28,303.40 L142.87,303.40 L143.46,303.40 L144.05,303.39 L144.64,303.39 L145.24,303.38 L145.83,303.37 L146.42,303.35 L147.01,303.31 L147.60,303.26 L148.20,303.17 L148.79,303.05 L149.38,302.87 L149.97,302.62 L150.56,302.27 L151.16,301.80 L151.75,301.19 L152.34,300.41 L152.93,299.33 L153.52,298.12 L154.12,296.93 L154.71,295.57 L155.30,294.16 L155.89,291.68 L156.48,290.06 L157.08,287.82 L157.67,286.75 L158.26,284.59 L158.85,284.38 L159.44,282.55 L160.04,282.34 L160.63,283.02 L161.22,282.97 L161.81,283.06 L162.40,284.55 L163.00,284.52 L163.59,284.87 L164.18,286.72 L164.77,286.83 L165.36,288.10 L165.96,289.00 L166.55,290.82 L167.14,292.22 L167.73,292.56 L168.32,293.68 L168.92,295.06 L169.51,296.31 L170.10,297.14 L170.69,297.73 L171.28,298.69 L171.88,299.11 L172.47,299.90 L173.06,300.49 L173.65,300.98 L174.24,301.40 L174.84,301.77 L175.43,302.08 L176.02,302.33 L176.61,302.55 L177.20,302.73 L177.80,302.84 L178.39,302.88 L178.98,302.92 L179.57,302.95 L180.16,302.99 L180.76,303.02 L181.35,303.05 L181.94,303.08 L182.53,303.11 L183.12,303.13 L183.72,303.16 L184.31,303.18 L184.90,303.20 L185.49,303.22 L186.08,303.24 L186.68,303.26 L187.27,303.27 L187.86,303.28 L188.45,303.30 L189.04,303.31 L189.64,303.32 L190.23,303.33 L190.82,303.34 L191.41,303.34 L192.00,303.35 L192.60,303.36 L193.19,303.36 L193.78,303.37 L194.37,303.37 L194.96,303.38 L195.56,303.38 L196.15,303.38 L196.74,303.38 L197.33,303.39 L197.92,303.39 L198.52,303.39 L199.11,303.39 L199.70,303.39" fill="none" stroke="#000" stroke-width="0.6" stroke-linejoin="round"/>
<rect x="122.50" y="197.60" width="107.20" height="106.30" fill="none" stroke="#222" stroke-width="0.85" />
<text x="226.50" y="205.40" font-size="6.5" font-weight="bold" text-anchor="end" fill="#000" >CSEV</text>
<text x="226.50" y="213.00" font-size="6.5" font-weight="bold" text-anchor="end" fill="#000" >16.6%</text>
<text x="226.50" y="231.90" font-size="6.5" font-weight="bold" text-anchor="end" fill="#000" >EV</text>
<text x="226.50" y="239.70" font-size="6.5" font-weight="bold" text-anchor="end" fill="#000" >37.4%</text>
<text x="226.50" y="258.50" font-size="6.5" font-weight="bold" text-anchor="end" fill="#000" >Ctl</text>
<text x="226.50" y="266.10" font-size="6.5" font-weight="bold" text-anchor="end" fill="#000" >92.1%</text>
<line x1="125.00" y1="303.90" x2="125.00" y2="305.50" stroke="#222" stroke-width="0.4" />
<line x1="134.90" y1="303.90" x2="134.90" y2="304.70" stroke="#444" stroke-width="0.3" />
<line x1="140.70" y1="303.90" x2="140.70" y2="304.70" stroke="#444" stroke-width="0.3" />
<line x1="144.81" y1="303.90" x2="144.81" y2="304.70" stroke="#444" stroke-width="0.3" />
<line x1="148.00" y1="303.90" x2="148.00" y2="304.70" stroke="#444" stroke-width="0.3" />
<line x1="150.60" y1="303.90" x2="150.60" y2="304.70" stroke="#444" stroke-width="0.3" />
<line x1="152.80" y1="303.90" x2="152.80" y2="304.70" stroke="#444" stroke-width="0.3" />
<line x1="154.71" y1="303.90" x2="154.71" y2="304.70" stroke="#444" stroke-width="0.3" />
<line x1="156.39" y1="303.90" x2="156.39" y2="304.70" stroke="#444" stroke-width="0.3" />
<line x1="157.90" y1="303.90" x2="157.90" y2="305.50" stroke="#222" stroke-width="0.4" />
<line x1="167.80" y1="303.90" x2="167.80" y2="304.70" stroke="#444" stroke-width="0.3" />
<line x1="173.60" y1="303.90" x2="173.60" y2="304.70" stroke="#444" stroke-width="0.3" />
<line x1="177.71" y1="303.90" x2="177.71" y2="304.70" stroke="#444" stroke-width="0.3" />
<line x1="180.90" y1="303.90" x2="180.90" y2="304.70" stroke="#444" stroke-width="0.3" />
<line x1="183.50" y1="303.90" x2="183.50" y2="304.70" stroke="#444" stroke-width="0.3" />
<line x1="185.70" y1="303.90" x2="185.70" y2="304.70" stroke="#444" stroke-width="0.3" />
<line x1="187.61" y1="303.90" x2="187.61" y2="304.70" stroke="#444" stroke-width="0.3" />
<line x1="189.29" y1="303.90" x2="189.29" y2="304.70" stroke="#444" stroke-width="0.3" />
<line x1="190.80" y1="303.90" x2="190.80" y2="305.50" stroke="#222" stroke-width="0.4" />
<line x1="200.70" y1="303.90" x2="200.70" y2="304.70" stroke="#444" stroke-width="0.3" />
<line x1="206.50" y1="303.90" x2="206.50" y2="304.70" stroke="#444" stroke-width="0.3" />
<line x1="210.61" y1="303.90" x2="210.61" y2="304.70" stroke="#444" stroke-width="0.3" />
<line x1="213.80" y1="303.90" x2="213.80" y2="304.70" stroke="#444" stroke-width="0.3" />
<line x1="216.40" y1="303.90" x2="216.40" y2="304.70" stroke="#444" stroke-width="0.3" />
<line x1="218.60" y1="303.90" x2="218.60" y2="304.70" stroke="#444" stroke-width="0.3" />
<line x1="220.51" y1="303.90" x2="220.51" y2="304.70" stroke="#444" stroke-width="0.3" />
<line x1="222.19" y1="303.90" x2="222.19" y2="304.70" stroke="#444" stroke-width="0.3" />
<line x1="223.70" y1="303.90" x2="223.70" y2="305.50" stroke="#222" stroke-width="0.4" />
<text x="129.20" y="314.60" font-size="7.4" text-anchor="middle" fill="#111">10<tspan dy="-3.40" font-size="5.03">2</tspan></text>
<text x="160.00" y="314.60" font-size="7.4" text-anchor="middle" fill="#111">10<tspan dy="-3.40" font-size="5.03">3</tspan></text>
<text x="192.00" y="314.60" font-size="7.4" text-anchor="middle" fill="#111">10<tspan dy="-3.40" font-size="5.03">4</tspan></text>
<text x="225.20" y="314.60" font-size="7.4" text-anchor="middle" fill="#111">10<tspan dy="-3.40" font-size="5.03">5</tspan></text>
<text x="176.30" y="320.90" font-size="6.7" font-weight="normal" text-anchor="middle" fill="#111" >FITC-A</text>
<path d="M594.20,77.50 L595.09,77.50 L595.97,77.50 L596.86,77.50 L597.74,77.50 L598.63,77.50 L599.52,77.50 L600.40,77.50 L601.29,77.50 L602.17,77.49 L603.06,77.49 L603.95,77.49 L604.83,77.49 L605.72,77.48 L606.60,77.48 L607.49,77.47 L608.38,77.47 L609.26,77.46 L610.15,77.45 L611.03,77.44 L611.92,77.43 L612.81,77.41 L613.69,77.39 L614.58,77.36 L615.46,77.34 L616.35,77.30 L617.24,77.26 L618.12,77.22 L619.01,77.17 L619.89,77.11 L620.78,77.04 L621.67,76.95 L622.55,76.86 L623.44,76.76 L624.32,76.64 L625.21,76.51 L626.10,76.37 L626.98,76.20 L627.87,76.05 L628.75,75.88 L629.64,75.59 L630.53,75.46 L631.41,75.13 L632.30,74.89 L633.18,74.68 L634.07,74.27 L634.96,74.08 L635.84,73.64 L636.73,73.41 L637.61,73.05 L638.50,72.56 L639.39,72.02 L640.27,71.95 L641.16,71.53 L642.04,70.95 L642.93,70.40 L643.82,70.23 L644.70,69.99 L645.59,69.29 L646.47,69.58 L647.36,68.75 L648.25,68.88 L649.13,68.76 L650.02,68.59 L650.90,68.29 L651.79,67.79 L652.68,68.19 L653.56,67.84 L654.45,67.81 L655.33,68.15 L656.22,68.28 L657.11,69.00 L657.99,69.46 L658.88,69.91 L659.76,70.25 L660.65,71.06 L661.54,71.79 L662.42,72.35 L663.31,73.07 L664.19,73.75 L665.08,74.20 L665.97,74.77 L666.85,75.33 L667.74,75.70 L668.62,76.07 L669.51,76.37 L670.40,76.62 L671.28,76.83 L672.17,76.99 L673.05,77.12 L673.94,77.22 L674.83,77.30 L675.71,77.35 L676.60,77.40 L677.48,77.43 L678.37,77.45 L679.26,77.47 L680.14,77.48 L681.03,77.49 L681.91,77.49 L682.80,77.49 L682.80,77.50 L594.20,77.50 Z" fill="#dd0000" stroke="none" stroke-width="0.4" stroke-linejoin="round"/>
<line x1="594.20" y1="77.50" x2="682.80" y2="77.50" stroke="#e06060" stroke-width="0.5" />
<path d="M594.20,107.40 L595.09,107.40 L595.97,107.40 L596.86,107.40 L597.74,107.40 L598.63,107.40 L599.52,107.40 L600.40,107.40 L601.29,107.40 L602.17,107.40 L603.06,107.40 L603.95,107.40 L604.83,107.40 L605.72,107.40 L606.60,107.40 L607.49,107.40 L608.38,107.40 L609.26,107.40 L610.15,107.40 L611.03,107.40 L611.92,107.40 L612.81,107.40 L613.69,107.40 L614.58,107.40 L615.46,107.40 L616.35,107.40 L617.24,107.40 L618.12,107.40 L619.01,107.40 L619.89,107.40 L620.78,107.40 L621.67,107.40 L622.55,107.40 L623.44,107.40 L624.32,107.40 L625.21,107.40 L626.10,107.39 L626.98,107.38 L627.87,107.35 L628.75,107.28 L629.64,107.13 L630.53,106.82 L631.41,106.25 L632.30,105.28 L633.18,103.81 L634.07,101.40 L634.96,98.91 L635.84,95.23 L636.73,92.29 L637.61,89.11 L638.50,86.06 L639.39,86.28 L640.27,86.02 L641.16,87.14 L642.04,88.56 L642.93,90.33 L643.82,92.69 L644.70,94.36 L645.59,97.07 L646.47,99.01 L647.36,100.93 L648.25,102.41 L649.13,103.69 L650.02,104.73 L650.90,105.54 L651.79,106.14 L652.68,106.57 L653.56,106.87 L654.45,107.07 L655.33,107.20 L656.22,107.29 L657.11,107.33 L657.99,107.36 L658.88,107.38 L659.76,107.39 L660.65,107.39 L661.54,107.40 L662.42,107.40 L663.31,107.40 L664.19,107.40 L665.08,107.40 L665.97,107.40 L666.85,107.40 L667.74,107.40 L668.62,107.40 L669.51,107.40 L670.40,107.40 L671.28,107.40 L672.17,107.40 L673.05,107.40 L673.94,107.40 L674.83,107.40 L675.71,107.40 L676.60,107.40 L677.48,107.40 L678.37,107.40 L679.26,107.40 L680.14,107.40 L681.03,107.40 L681.91,107.40 L682.80,107.40 L682.80,107.40 L594.20,107.40 Z" fill="#0000ee" stroke="none" stroke-width="0.4" stroke-linejoin="round"/>
<line x1="594.20" y1="107.40" x2="682.80" y2="107.40" stroke="#9090f0" stroke-width="0.5" />
<path d="M594.20,135.70 L595.09,135.70 L595.97,135.70 L596.86,135.70 L597.74,135.70 L598.63,135.70 L599.52,135.70 L600.40,135.70 L601.29,135.70 L602.17,135.70 L603.06,135.70 L603.95,135.70 L604.83,135.70 L605.72,135.70 L606.60,135.70 L607.49,135.70 L608.38,135.70 L609.26,135.70 L610.15,135.70 L611.03,135.70 L611.92,135.70 L612.81,135.70 L613.69,135.69 L614.58,135.68 L615.46,135.65 L616.35,135.55 L617.24,135.32 L618.12,134.81 L619.01,133.84 L619.89,132.15 L620.78,129.53 L621.67,125.97 L622.55,121.85 L623.44,116.66 L624.32,114.03 L625.21,111.32 L626.10,110.69 L626.98,112.98 L627.87,114.37 L628.75,117.01 L629.64,120.64 L630.53,123.42 L631.41,126.14 L632.30,128.82 L633.18,130.82 L634.07,132.48 L634.96,133.64 L635.84,134.44 L636.73,134.96 L637.61,135.29 L638.50,135.48 L639.39,135.59 L640.27,135.64 L641.16,135.67 L642.04,135.69 L642.93,135.70 L643.82,135.70 L644.70,135.70 L645.59,135.70 L646.47,135.70 L647.36,135.70 L648.25,135.70 L649.13,135.70 L650.02,135.70 L650.90,135.70 L651.79,135.70 L652.68,135.70 L653.56,135.70 L654.45,135.70 L655.33,135.70 L656.22,135.70 L657.11,135.70 L657.99,135.70 L658.88,135.70 L659.76,135.70 L660.65,135.70 L661.54,135.70 L662.42,135.70 L663.31,135.70 L664.19,135.70 L665.08,135.70 L665.97,135.70 L666.85,135.70 L667.74,135.70 L668.62,135.70 L669.51,135.70 L670.40,135.70 L671.28,135.70 L672.17,135.70 L673.05,135.70 L673.94,135.70 L674.83,135.70 L675.71,135.70 L676.60,135.70 L677.48,135.70 L678.37,135.70 L679.26,135.70 L680.14,135.70 L681.03,135.70 L681.91,135.70 L682.80,135.70 L682.80,135.70 L594.20,135.70 Z" fill="#000" stroke="none" stroke-width="0.4" stroke-linejoin="round"/>
<rect x="594.20" y="47.70" width="88.60" height="88.30" fill="none" stroke="#222" stroke-width="0.6" />
<text x="680.10" y="55.50" font-size="6.5" font-weight="bold" text-anchor="end" fill="#000" >CSEV</text>
<text x="680.10" y="63.40" font-size="6.5" font-weight="bold" text-anchor="end" fill="#000" >86.3%</text>
<text x="680.10" y="84.40" font-size="6.5" font-weight="bold" text-anchor="end" fill="#000" >EV</text>
<text x="680.10" y="92.40" font-size="6.5" font-weight="bold" text-anchor="end" fill="#000" >66.0%</text>
<line x1="596.50" y1="136.00" x2="596.50" y2="137.40" stroke="#222" stroke-width="0.4" />
<line x1="602.73" y1="136.00" x2="602.73" y2="136.70" stroke="#444" stroke-width="0.25" />
<line x1="606.38" y1="136.00" x2="606.38" y2="136.70" stroke="#444" stroke-width="0.25" />
<line x1="608.96" y1="136.00" x2="608.96" y2="136.70" stroke="#444" stroke-width="0.25" />
<line x1="610.97" y1="136.00" x2="610.97" y2="136.70" stroke="#444" stroke-width="0.25" />
<line x1="612.61" y1="136.00" x2="612.61" y2="136.70" stroke="#444" stroke-width="0.25" />
<line x1="613.99" y1="136.00" x2="613.99" y2="136.70" stroke="#444" stroke-width="0.25" />
<line x1="615.19" y1="136.00" x2="615.19" y2="136.70" stroke="#444" stroke-width="0.25" />
<line x1="616.25" y1="136.00" x2="616.25" y2="136.70" stroke="#444" stroke-width="0.25" />
<line x1="617.20" y1="136.00" x2="617.20" y2="137.40" stroke="#222" stroke-width="0.4" />
<line x1="623.43" y1="136.00" x2="623.43" y2="136.70" stroke="#444" stroke-width="0.25" />
<line x1="627.08" y1="136.00" x2="627.08" y2="136.70" stroke="#444" stroke-width="0.25" />
<line x1="629.66" y1="136.00" x2="629.66" y2="136.70" stroke="#444" stroke-width="0.25" />
<line x1="631.67" y1="136.00" x2="631.67" y2="136.70" stroke="#444" stroke-width="0.25" />
<line x1="633.31" y1="136.00" x2="633.31" y2="136.70" stroke="#444" stroke-width="0.25" />
<line x1="634.69" y1="136.00" x2="634.69" y2="136.70" stroke="#444" stroke-width="0.25" />
<line x1="635.89" y1="136.00" x2="635.89" y2="136.70" stroke="#444" stroke-width="0.25" />
<line x1="636.95" y1="136.00" x2="636.95" y2="136.70" stroke="#444" stroke-width="0.25" />
<line x1="637.90" y1="136.00" x2="637.90" y2="137.40" stroke="#222" stroke-width="0.4" />
<line x1="644.13" y1="136.00" x2="644.13" y2="136.70" stroke="#444" stroke-width="0.25" />
<line x1="647.78" y1="136.00" x2="647.78" y2="136.70" stroke="#444" stroke-width="0.25" />
<line x1="650.36" y1="136.00" x2="650.36" y2="136.70" stroke="#444" stroke-width="0.25" />
<line x1="652.37" y1="136.00" x2="652.37" y2="136.70" stroke="#444" stroke-width="0.25" />
<line x1="654.01" y1="136.00" x2="654.01" y2="136.70" stroke="#444" stroke-width="0.25" />
<line x1="655.39" y1="136.00" x2="655.39" y2="136.70" stroke="#444" stroke-width="0.25" />
<line x1="656.59" y1="136.00" x2="656.59" y2="136.70" stroke="#444" stroke-width="0.25" />
<line x1="657.65" y1="136.00" x2="657.65" y2="136.70" stroke="#444" stroke-width="0.25" />
<line x1="658.60" y1="136.00" x2="658.60" y2="137.40" stroke="#222" stroke-width="0.4" />
<line x1="664.83" y1="136.00" x2="664.83" y2="136.70" stroke="#444" stroke-width="0.25" />
<line x1="668.48" y1="136.00" x2="668.48" y2="136.70" stroke="#444" stroke-width="0.25" />
<line x1="671.06" y1="136.00" x2="671.06" y2="136.70" stroke="#444" stroke-width="0.25" />
<line x1="673.07" y1="136.00" x2="673.07" y2="136.70" stroke="#444" stroke-width="0.25" />
<line x1="674.71" y1="136.00" x2="674.71" y2="136.70" stroke="#444" stroke-width="0.25" />
<line x1="676.09" y1="136.00" x2="676.09" y2="136.70" stroke="#444" stroke-width="0.25" />
<line x1="677.29" y1="136.00" x2="677.29" y2="136.70" stroke="#444" stroke-width="0.25" />
<line x1="678.35" y1="136.00" x2="678.35" y2="136.70" stroke="#444" stroke-width="0.25" />
<line x1="679.30" y1="136.00" x2="679.30" y2="137.40" stroke="#222" stroke-width="0.4" />
<text x="598.80" y="144.50" font-size="5.6" text-anchor="middle" fill="#111">10<tspan dy="-2.58" font-size="3.81">2</tspan></text>
<text x="617.30" y="144.50" font-size="5.6" text-anchor="middle" fill="#111">10<tspan dy="-2.58" font-size="3.81">3</tspan></text>
<text x="639.40" y="144.50" font-size="5.6" text-anchor="middle" fill="#111">10<tspan dy="-2.58" font-size="3.81">4</tspan></text>
<text x="658.80" y="144.50" font-size="5.6" text-anchor="middle" fill="#111">10<tspan dy="-2.58" font-size="3.81">5</tspan></text>
<text x="679.50" y="144.50" font-size="5.6" text-anchor="middle" fill="#111">10<tspan dy="-2.58" font-size="3.81">6</tspan></text>
<text x="638.50" y="148.80" font-size="5.0" font-weight="normal" text-anchor="middle" fill="#111" >FITC-A</text>
<text x="317.15" y="196.90" font-size="7.2" font-weight="bold" text-anchor="middle" fill="#000" >Ctl</text>
<text x="374.95" y="196.90" font-size="7.2" font-weight="bold" text-anchor="middle" fill="#000" >EV</text>
<text x="432.90" y="196.90" font-size="7.2" font-weight="bold" text-anchor="middle" fill="#000" >CSEV</text>
<text x="273.80" y="233.00" font-size="7.0" font-weight="bold" text-anchor="middle" fill="#000" >0 h</text>
<text x="273.80" y="288.60" font-size="7.0" font-weight="bold" text-anchor="middle" fill="#000" >24 h</text>
<defs><filter id="eo00" x="0" y="0" width="100%" height="100%" color-interpolation-filters="sRGB"><feTurbulence type="fractalNoise" baseFrequency="0.35" numOctaves="3" seed="3"/><feColorMatrix type="matrix" values="0.09 0 0 0 0.780  0.09 0 0 0 0.780  0.09 0 0 0 0.780  0 0 0 0 1"/></filter><filter id="ei00" x="0" y="0" width="100%" height="100%" color-interpolation-filters="sRGB"><feTurbulence type="fractalNoise" baseFrequency="0.4" numOctaves="3" seed="13"/><feColorMatrix type="matrix" values="0.05 0 0 0 0.820  0.05 0 0 0 0.820  0.05 0 0 0 0.820  0 0 0 0 1"/></filter><filter id="eo01" x="0" y="0" width="100%" height="100%" color-interpolation-filters="sRGB"><feTurbulence type="fractalNoise" baseFrequency="0.35" numOctaves="3" seed="4"/><feColorMatrix type="matrix" values="0.09 0 0 0 0.780  0.09 0 0 0 0.780  0.09 0 0 0 0.780  0 0 0 0 1"/></filter><filter id="ei01" x="0" y="0" width="100%" height="100%" color-interpolation-filters="sRGB"><feTurbulence type="fractalNoise" baseFrequency="0.4" numOctaves="3" seed="14"/><feColorMatrix type="matrix" values="0.05 0 0 0 0.825  0.05 0 0 0 0.825  0.05 0 0 0 0.825  0 0 0 0 1"/></filter><filter id="eo02" x="0" y="0" width="100%" height="100%" color-interpolation-filters="sRGB"><feTurbulence type="fractalNoise" baseFrequency="0.35" numOctaves="3" seed="5"/><feColorMatrix type="matrix" values="0.09 0 0 0 0.780  0.09 0 0 0 0.780  0.09 0 0 0 0.780  0 0 0 0 1"/></filter><filter id="ei02" x="0" y="0" width="100%" height="100%" color-interpolation-filters="sRGB"><feTurbulence type="fractalNoise" baseFrequency="0.4" numOctaves="3" seed="15"/><feColorMatrix type="matrix" values="0.05 0 0 0 0.825  0.05 0 0 0 0.825  0.05 0 0 0 0.825  0 0 0 0 1"/></filter><filter id="eo10" x="0" y="0" width="100%" height="100%" color-interpolation-filters="sRGB"><feTurbulence type="fractalNoise" baseFrequency="0.8" numOctaves="3" seed="6"/><feColorMatrix type="matrix" values="0.17 0 0 0 0.675  0.17 0 0 0 0.675  0.17 0 0 0 0.675  0 0 0 0 1"/></filter><filter id="ei10" x="0" y="0" width="100%" height="100%" color-interpolation-filters="sRGB"><feTurbulence type="fractalNoise" baseFrequency="0.4" numOctaves="3" seed="16"/><feColorMatrix type="matrix" values="0.05 0 0 0 0.790  0.05 0 0 0 0.790  0.05 0 0 0 0.790  0 0 0 0 1"/></filter><filter id="eo11" x="0" y="0" width="100%" height="100%" color-interpolation-filters="sRGB"><feTurbulence type="fractalNoise" baseFrequency="0.8" numOctaves="3" seed="7"/><feColorMatrix type="matrix" values="0.17 0 0 0 0.710  0.17 0 0 0 0.710  0.17 0 0 0 0.710  0 0 0 0 1"/></filter><filter id="ei11" x="0" y="0" width="100%" height="100%" color-interpolation-filters="sRGB"><feTurbulence type="fractalNoise" baseFrequency="0.4" numOctaves="3" seed="17"/><feColorMatrix type="matrix" values="0.05 0 0 0 0.815  0.05 0 0 0 0.815  0.05 0 0 0 0.815  0 0 0 0 1"/></filter><filter id="eo12" x="0" y="0" width="100%" height="100%" color-interpolation-filters="sRGB"><feTurbulence type="fractalNoise" baseFrequency="0.8" numOctaves="3" seed="8"/><feColorMatrix type="matrix" values="0.17 0 0 0 0.715  0.17 0 0 0 0.715  0.17 0 0 0 0.715  0 0 0 0 1"/></filter><filter id="ei12" x="0" y="0" width="100%" height="100%" color-interpolation-filters="sRGB"><feTurbulence type="fractalNoise" baseFrequency="0.4" numOctaves="3" seed="18"/><feColorMatrix type="matrix" values="0.05 0 0 0 0.790  0.05 0 0 0 0.790  0.05 0 0 0 0.790  0 0 0 0 1"/></filter><linearGradient id="gl" x1="0" x2="1" y1="0" y2="0"><stop offset="0" stop-color="#000" stop-opacity="0.13"/><stop offset="1" stop-color="#000" stop-opacity="0"/></linearGradient><linearGradient id="gr" x1="0" x2="1" y1="0" y2="0"><stop offset="0" stop-color="#000" stop-opacity="0"/><stop offset="1" stop-color="#000" stop-opacity="0.10"/></linearGradient></defs>
<rect x="290.10" y="202.00" width="53.70" height="52.90" fill="#ccc" stroke="none" stroke-width="0.5" filter="url(#eo00)"/>
<rect x="308.60" y="202.00" width="15.70" height="52.90" fill="#ddd" stroke="none" stroke-width="0.5" filter="url(#ei00)"/>
<line x1="308.60" y1="202.00" x2="308.60" y2="254.90" stroke="#d24a4a" stroke-width="0.7" />
<line x1="324.30" y1="202.00" x2="324.30" y2="254.90" stroke="#d24a4a" stroke-width="0.7" />
<line x1="328.00" y1="252.65" x2="342.80" y2="252.65" stroke="#000" stroke-width="1.1" />
<text x="335.40" y="250.90" font-size="4.1" font-weight="bold" text-anchor="middle" fill="#000" >150 μm</text>
<rect x="348.00" y="202.00" width="53.50" height="52.90" fill="#ccc" stroke="none" stroke-width="0.5" filter="url(#eo01)"/>
<rect x="366.00" y="202.00" width="15.50" height="52.90" fill="#ddd" stroke="none" stroke-width="0.5" filter="url(#ei01)"/>
<rect x="348.00" y="202.00" width="18.00" height="52.90" fill="url(#gl)" stroke="none" stroke-width="0.5" />
<rect x="381.50" y="202.00" width="20.00" height="52.90" fill="url(#gr)" stroke="none" stroke-width="0.5" />
<line x1="366.00" y1="202.00" x2="366.00" y2="254.90" stroke="#d24a4a" stroke-width="0.7" />
<line x1="381.50" y1="202.00" x2="381.50" y2="254.90" stroke="#d24a4a" stroke-width="0.7" />
<line x1="385.70" y1="252.65" x2="400.50" y2="252.65" stroke="#000" stroke-width="1.1" />
<text x="393.10" y="250.90" font-size="4.1" font-weight="bold" text-anchor="middle" fill="#000" >150 μm</text>
<rect x="406.20" y="202.00" width="53.00" height="52.90" fill="#ccc" stroke="none" stroke-width="0.5" filter="url(#eo02)"/>
<rect x="423.60" y="202.00" width="15.10" height="52.90" fill="#ddd" stroke="none" stroke-width="0.5" filter="url(#ei02)"/>
<line x1="423.60" y1="202.00" x2="423.60" y2="254.90" stroke="#d24a4a" stroke-width="0.7" />
<line x1="438.70" y1="202.00" x2="438.70" y2="254.90" stroke="#d24a4a" stroke-width="0.7" />
<line x1="443.40" y1="252.65" x2="458.20" y2="252.65" stroke="#000" stroke-width="1.1" />
<text x="450.80" y="250.90" font-size="4.1" font-weight="bold" text-anchor="middle" fill="#000" >150 μm</text>
<rect x="290.10" y="257.90" width="53.70" height="53.60" fill="#ccc" stroke="none" stroke-width="0.5" filter="url(#eo10)"/>
<rect x="310.50" y="257.90" width="12.40" height="53.60" fill="#ddd" stroke="none" stroke-width="0.5" filter="url(#ei10)"/>
<rect x="290.10" y="257.90" width="20.40" height="53.60" fill="url(#gl)" stroke="none" stroke-width="0.5" />
<rect x="322.90" y="257.90" width="20.90" height="53.60" fill="url(#gr)" stroke="none" stroke-width="0.5" />
<line x1="310.50" y1="257.90" x2="310.50" y2="311.50" stroke="#d24a4a" stroke-width="0.7" />
<line x1="322.90" y1="257.90" x2="322.90" y2="311.50" stroke="#d24a4a" stroke-width="0.7" />
<line x1="328.00" y1="308.55" x2="342.80" y2="308.55" stroke="#000" stroke-width="1.1" />
<text x="335.40" y="306.80" font-size="4.1" font-weight="bold" text-anchor="middle" fill="#000" >150 μm</text>
<rect x="348.00" y="257.90" width="53.50" height="53.60" fill="#ccc" stroke="none" stroke-width="0.5" filter="url(#eo11)"/>
<rect x="368.70" y="257.90" width="10.80" height="53.60" fill="#ddd" stroke="none" stroke-width="0.5" filter="url(#ei11)"/>
<rect x="379.50" y="257.90" width="22.00" height="53.60" fill="url(#gr)" stroke="none" stroke-width="0.5" />
<line x1="368.70" y1="257.90" x2="368.70" y2="311.50" stroke="#d24a4a" stroke-width="0.7" />
<line x1="379.50" y1="257.90" x2="379.50" y2="311.50" stroke="#d24a4a" stroke-width="0.7" />
<line x1="385.70" y1="308.55" x2="400.50" y2="308.55" stroke="#000" stroke-width="1.1" />
<text x="393.10" y="306.80" font-size="4.1" font-weight="bold" text-anchor="middle" fill="#000" >150 μm</text>
<rect x="406.20" y="257.90" width="53.00" height="53.60" fill="#ccc" stroke="none" stroke-width="0.5" filter="url(#eo12)"/>
<rect x="429.50" y="257.90" width="4.20" height="53.60" fill="#ddd" stroke="none" stroke-width="0.5" filter="url(#ei12)"/>
<line x1="429.50" y1="257.90" x2="429.50" y2="311.50" stroke="#d24a4a" stroke-width="0.7"  stroke-dasharray="1.2 0.5"/>
<line x1="433.70" y1="257.90" x2="433.70" y2="311.50" stroke="#d24a4a" stroke-width="0.7"  stroke-dasharray="1.2 0.5"/>
<line x1="443.40" y1="308.55" x2="458.20" y2="308.55" stroke="#000" stroke-width="1.1" />
<text x="450.80" y="306.80" font-size="4.1" font-weight="bold" text-anchor="middle" fill="#000" >150 μm</text>
<rect x="499.00" y="200.40" width="97.90" height="97.30" fill="none" stroke="#000" stroke-width="0.8" />
<text x="491.00" y="300.20" font-size="7.4" font-weight="bold" text-anchor="end" fill="#000" >0</text>
<text x="491.00" y="275.88" font-size="7.4" font-weight="bold" text-anchor="end" fill="#000" >30</text>
<line x1="499.00" y1="273.38" x2="500.50" y2="273.38" stroke="#000" stroke-width="0.5" />
<text x="491.00" y="251.55" font-size="7.4" font-weight="bold" text-anchor="end" fill="#000" >60</text>
<line x1="499.00" y1="249.05" x2="500.50" y2="249.05" stroke="#000" stroke-width="0.5" />
<text x="491.00" y="227.23" font-size="7.4" font-weight="bold" text-anchor="end" fill="#000" >90</text>
<line x1="499.00" y1="224.73" x2="500.50" y2="224.73" stroke="#000" stroke-width="0.5" />
<text x="491.00" y="202.90" font-size="7.4" font-weight="bold" text-anchor="end" fill="#000" >120</text>
<line x1="531.60" y1="297.70" x2="531.60" y2="296.20" stroke="#000" stroke-width="0.5" />
<line x1="564.20" y1="297.70" x2="564.20" y2="296.20" stroke="#000" stroke-width="0.5" />
<rect x="508.40" y="281.32" width="13.50" height="16.38" fill="#fff" stroke="#000" stroke-width="0.5" />
<rect x="541.10" y="263.97" width="13.30" height="33.73" fill="#0000ee" stroke="#000" stroke-width="0.5" />
<rect x="573.50" y="232.83" width="13.00" height="64.87" fill="#dd0000" stroke="#000" stroke-width="0.5" />
<circle cx="514.4" cy="280.4" r="1.3" fill="#fff" stroke="#000" stroke-width="0.55"/>
<circle cx="516.2" cy="281.4" r="1.3" fill="#fff" stroke="#000" stroke-width="0.55"/>
<circle cx="517.8" cy="277.3" r="1.3" fill="#fff" stroke="#000" stroke-width="0.55"/>
<circle cx="513.1" cy="281.7" r="1.3" fill="#fff" stroke="#000" stroke-width="0.55"/>
<circle cx="515.2" cy="283.0" r="1.3" fill="#fff" stroke="#000" stroke-width="0.55"/>
<circle cx="547.6" cy="261.3" r="1.3" fill="#fff" stroke="#000" stroke-width="0.55"/>
<circle cx="549.7" cy="260.0" r="1.3" fill="#fff" stroke="#000" stroke-width="0.55"/>
<circle cx="546.6" cy="262.6" r="1.3" fill="#fff" stroke="#000" stroke-width="0.55"/>
<circle cx="548.7" cy="264.7" r="1.3" fill="#fff" stroke="#000" stroke-width="0.55"/>
<circle cx="548.2" cy="268.6" r="1.3" fill="#fff" stroke="#000" stroke-width="0.55"/>
<circle cx="579.1" cy="228.6" r="1.3" fill="#fff" stroke="#000" stroke-width="0.55"/>
<circle cx="580.6" cy="230.4" r="1.3" fill="#fff" stroke="#000" stroke-width="0.55"/>
<circle cx="581.9" cy="231.2" r="1.3" fill="#fff" stroke="#000" stroke-width="0.55"/>
<circle cx="578.5" cy="232.5" r="1.3" fill="#fff" stroke="#000" stroke-width="0.55"/>
<circle cx="577.5" cy="236.9" r="1.3" fill="#fff" stroke="#000" stroke-width="0.55"/>
<circle cx="579.6" cy="238.5" r="1.3" fill="#fff" stroke="#000" stroke-width="0.55"/>
<text x="547.40" y="252.20" font-size="8" font-weight="normal" text-anchor="middle" fill="#111" >*</text>
<text x="580.40" y="213.70" font-size="8" font-weight="normal" text-anchor="middle" fill="#111" >*</text>
<text x="580.40" y="218.50" font-size="4.6" font-weight="bold" text-anchor="middle" fill="#111" >#</text>
<text transform="translate(475.8,253) rotate(-90)" font-size="7.5" font-weight="bold" text-anchor="middle">Migration rate (%)</text>
<text x="515.20" y="309.30" font-size="7.5" font-weight="bold" text-anchor="middle" fill="#000" >Ctl</text>
<text x="547.80" y="309.30" font-size="7.5" font-weight="bold" text-anchor="middle" fill="#000" >EV</text>
<text x="580.00" y="309.30" font-size="7.5" font-weight="bold" text-anchor="middle" fill="#000" >CSEV</text>
<text x="468.40" y="18.40" font-size="7.2" font-weight="bold" text-anchor="middle" fill="#000" >F-actin</text>
<text x="503.60" y="18.40" font-size="7.2" font-weight="bold" text-anchor="middle" fill="#000" >EV</text>
<text x="539.80" y="18.40" font-size="7.2" font-weight="bold" text-anchor="middle" fill="#000" >Nuclei</text>
<text x="575.40" y="18.40" font-size="7.2" font-weight="bold" text-anchor="middle" fill="#000" >Merge</text>
<text x="434.30" y="39.70" font-size="7.0" font-weight="bold" text-anchor="middle" fill="#000" >EV</text>
<text x="434.30" y="48.60" font-size="7.0" font-weight="bold" text-anchor="middle" fill="#000" >(24 h)</text>
<text x="434.30" y="75.40" font-size="7.0" font-weight="bold" text-anchor="middle" fill="#000" >EV</text>
<text x="434.30" y="84.30" font-size="7.0" font-weight="bold" text-anchor="middle" fill="#000" >(48 h)</text>
<text x="434.30" y="111.00" font-size="7.0" font-weight="bold" text-anchor="middle" fill="#000" >CSEV</text>
<text x="434.30" y="119.90" font-size="7.0" font-weight="bold" text-anchor="middle" fill="#000" >(24 h)</text>
<text x="434.30" y="146.60" font-size="7.0" font-weight="bold" text-anchor="middle" fill="#000" >CSEV</text>
<text x="434.30" y="155.50" font-size="7.0" font-weight="bold" text-anchor="middle" fill="#000" >(48 h)</text>
<defs><clipPath id="cc"><rect x="0" y="0" width="33.8" height="33.8"/></clipPath><filter id="b1" x="-20%" y="-20%" width="140%" height="140%"><feGaussianBlur stdDeviation="0.9"/></filter><filter id="b2" x="-30%" y="-30%" width="160%" height="160%"><feGaussianBlur stdDeviation="0.45"/></filter><filter id="b3" x="-20%" y="-20%" width="140%" height="140%"><feGaussianBlur stdDeviation="1.6"/></filter><filter id="tex" x="0" y="0" width="100%" height="100%" filterUnits="userSpaceOnUse" primitiveUnits="userSpaceOnUse"><feTurbulence type="fractalNoise" baseFrequency="0.22" numOctaves="3" seed="7" result="n"/><feColorMatrix in="n" type="matrix" values="0 0 0 0 0  0 0 0 0 0  0 0 0 0 0  2.4 0 0 0 -0.25" result="m"/><feComposite in="SourceGraphic" in2="m" operator="in"/></filter><filter id="tex2" x="0" y="0" width="100%" height="100%" filterUnits="userSpaceOnUse" primitiveUnits="userSpaceOnUse"><feTurbulence type="fractalNoise" baseFrequency="0.3" numOctaves="3" seed="11" result="n"/><feColorMatrix in="n" type="matrix" values="0 0 0 0 0  0 0 0 0 0  0 0 0 0 0  2.6 0 0 0 -0.4" result="m"/><feComposite in="SourceGraphic" in2="m" operator="in"/></filter></defs>
<g transform="translate(450.1,22.2)" clip-path="url(#cc)"><rect width="33.8" height="33.8" fill="#000"/><g opacity="1.0" filter="url(#tex)"><g filter="url(#b1)"><path d="M3.5,27.5 L9.0,23.5 L13.5,19.8 L18.5,16.8" fill="none" stroke="#a00606" stroke-width="4.4" stroke-linecap="round" stroke-linejoin="round" opacity="0.36"/><path d="M16.7,19.8 L15.6,4.5 L11.3,19.2 Z" fill="none" stroke="#a00606" stroke-width="0.5" stroke-linecap="round" stroke-linejoin="round" opacity="0.29"/><path d="M18.5,15.5 L24.0,10.5 L29.0,6.0 L32.5,1.0" fill="none" stroke="#a00606" stroke-width="1.0" stroke-linecap="round" stroke-linejoin="round" opacity="0.16"/><path d="M17.5,19.3 L21.0,20.6 L25.5,21.6" fill="none" stroke="#a00606" stroke-width="1.8" stroke-linecap="round" stroke-linejoin="round" opacity="0.27"/><path d="M0.4,4.0 L0.8,12.0 L1.6,19.0 L4.5,23.0" fill="none" stroke="#a00606" stroke-width="0.8" stroke-linecap="round" stroke-linejoin="round" opacity="0.27"/><path d="M1.0,21.0 L4.0,27.0 L8.0,33.5" fill="none" stroke="#a00606" stroke-width="4.0" stroke-linecap="round" stroke-linejoin="round" opacity="0.27"/><path d="M0.5,33.0 L6.0,27.0 L11.0,22.5" fill="none" stroke="#a00606" stroke-width="3.6" stroke-linecap="round" stroke-linejoin="round" opacity="0.29"/><path d="M11.0,30.0 L20.0,33.0 L27.0,32.5 L33.5,30.5" fill="none" stroke="#a00606" stroke-width="0.8" stroke-linecap="round" stroke-linejoin="round" opacity="0.16"/><path d="M15.0,28.6 L17.2,27.4" fill="none" stroke="#a00606" stroke-width="0.6" stroke-linecap="round" stroke-linejoin="round" opacity="0.16"/><path d="M19.5,13.5 L21.5,17.5" fill="none" stroke="#a00606" stroke-width="1.6" stroke-linecap="round" stroke-linejoin="round" opacity="0.14"/><path d="M27.0,0.5 L30.0,3.5" fill="none" stroke="#a00606" stroke-width="1.0" stroke-linecap="round" stroke-linejoin="round" opacity="0.11"/><path d="M16.7,19.8 L15.6,4.5 L11.3,19.2 Z" fill="#a00606" opacity="0.29"/></g><path d="M4.6,25.1 L6.2,23.5 L7.8,22.0 L10.1,20.2 L12.5,18.4 L15.3,17.1 M3.5,27.5 L5.2,26.0 L7.0,24.6 L8.9,23.3 L11.1,21.4 L13.4,19.6 L15.9,18.1 M5.0,25.7 L6.8,24.3 L8.5,22.9 L10.8,21.0 L13.1,19.2 L15.7,17.8 M3.7,27.8 L5.7,26.6 L7.6,25.4 L9.5,24.1 L11.8,22.3 M4.1,28.3 L6.3,27.5 L8.3,26.4 L10.4,25.3 L12.7,23.4 L14.7,21.4 M5.8,26.8 L7.8,25.7 L9.7,24.4 L12.0,22.5 L14.1,20.7 M5.1,25.8 L6.8,24.3 L8.6,22.9 L10.8,21.1 L13.1,19.3 L15.8,17.9 M5.8,26.8 L7.8,25.7 L9.7,24.4 L12.0,22.6 L14.1,20.7 M4.6,25.1 L6.2,23.5 L7.9,22.1 L10.1,20.2 L12.6,18.5 L15.4,17.2 M5.7,26.6 L7.6,25.4 L9.5,24.1 L11.7,22.3 L13.9,20.4 M3.9,28.0 L5.8,26.8 L7.8,25.7 L9.7,24.5 L12.0,22.6 L14.1,20.7 M5.5,26.3 L7.3,25.0 L9.1,23.7 L11.4,21.8 M3.1,27.0 L4.7,25.4 L6.4,23.8 L8.2,22.5 L10.4,20.6 M5.4,26.3 L7.3,25.0 L9.1,23.7 L11.4,21.8 L13.6,19.9 M4.7,25.3 L6.4,23.7 L8.0,22.2 L10.2,20.4 L12.7,18.7 L15.4,17.3 M4.2,28.5 L6.4,27.7 L8.6,26.8 L10.7,25.7 L13.0,23.7 L14.9,21.7 M2.8,26.5 L4.3,24.7 L5.8,22.9 L7.4,21.4 L9.5,19.6 L12.1,17.9 M5.2,26.0 L7.0,24.6 L8.8,23.3 L11.0,21.4 L13.4,19.6" fill="none" stroke="#f01a1a" stroke-width="0.36" opacity="0.59"/><path d="M12.6,16.8 L13.2,14.4 L13.7,11.9 M12.2,19.3 L12.7,16.8 L13.3,14.4 L13.8,11.9 L14.3,9.4 M14.9,17.1 L15.0,14.6 L15.1,12.0 L15.3,9.5 M16.0,17.2 L16.0,14.7 L16.0,12.1 L16.0,9.6 M11.7,19.3 L12.3,16.8 L12.9,14.3 L13.5,11.9 L14.1,9.4 M12.3,16.8 L13.0,14.3 L13.5,11.9 L14.1,9.4 L14.7,6.9 M15.2,19.6 L15.4,17.1 L15.5,14.6 L15.5,12.1 L15.7,9.6 L15.7,7.0 M16.3,19.7 L16.2,17.2 L16.1,14.7 L16.0,12.1 L16.1,9.6 L16.0,7.1 M12.5,16.8 L13.1,14.3 L13.6,11.9 L14.1,9.4 M16.1,17.2 L16.1,14.7 L16.1,12.1 L16.1,9.6 L16.0,7.1 M12.2,16.8 L12.7,14.3 L13.3,11.8 L14.0,9.4 M12.0,19.3 L12.5,16.8 L13.1,14.3 L13.6,11.9 L14.1,9.4 M13.6,16.9 L13.9,14.4 L14.3,11.9 L14.7,9.5 L15.0,7.0 M13.2,16.9 L13.6,14.4 L14.1,11.9 L14.5,9.4 M15.4,17.1 L15.5,14.6 L15.5,12.1 M13.9,19.5 L14.2,17.0 L14.5,14.5 L14.8,12.0 L15.0,9.5 M16.1,17.2 L16.1,14.7 L16.1,12.1 L16.0,9.6 M14.8,19.6 L15.0,17.1 L15.2,14.6 L15.3,12.1 L15.5,9.5" fill="none" stroke="#f01a1a" stroke-width="0.36" opacity="0.48"/><path d="M18.4,15.4 L20.3,13.8 L22.1,12.1 L24.0,10.4 L25.6,8.9 L27.3,7.5 L28.9,5.9 L30.1,4.3 L31.3,2.6 M18.6,15.6 L20.5,14.0 L22.3,12.3 L24.2,10.7 L25.9,9.2 L27.5,7.7 L29.2,6.1 L30.3,4.5 M18.3,15.3 L20.1,13.6 L21.9,11.9 L23.7,10.2 L25.3,8.6 L27.0,7.2 L28.7,5.7 M20.4,14.0 L22.3,12.3 L24.2,10.7 L25.8,9.2 L27.5,7.7 L29.2,6.2 L30.3,4.4" fill="none" stroke="#f01a1a" stroke-width="0.36" opacity="0.27"/><path d="M17.3,19.8 L18.9,20.8 L20.7,21.6 M17.4,19.6 L19.1,20.4 L20.8,21.2 M17.5,19.3 L19.2,20.0 L21.0,20.5 L23.3,21.1 M17.4,19.7 L19.0,20.7 L20.7,21.5 M17.5,19.4 L19.2,20.0 L21.0,20.7 L23.2,21.2 M17.6,19.0 L19.4,19.4 L21.2,19.9 L23.4,20.5 M17.3,19.7 L18.9,20.8 L20.7,21.6 L23.1,21.9" fill="none" stroke="#f01a1a" stroke-width="0.36" opacity="0.45"/><path d="M0.6,8.0 L0.8,10.0 L0.9,12.0 L1.1,14.3 L1.4,16.7 L1.7,19.0 M0.4,4.0 L0.5,6.0 L0.6,8.0 L0.8,10.0 L0.9,12.0 L1.1,14.3 L1.5,16.7 L1.7,19.0 M0.6,4.0 L0.7,6.0 L0.8,8.0 L1.0,10.0 L1.2,12.0 L1.4,14.3 L1.6,16.6 L1.9,18.9" fill="none" stroke="#f01a1a" stroke-width="0.36" opacity="0.45"/><path d="M0.5,21.2 L1.3,23.4 L2.0,25.5 L2.9,27.6 L4.4,29.8 M0.9,21.0 L1.9,23.0 L2.9,25.0 L3.9,27.1 L5.3,29.2 L6.6,31.4 M3.3,24.8 L4.3,26.8 L5.6,29.0 M1.2,23.4 L1.9,25.5 L2.8,27.7 L4.3,29.8 L5.8,31.8 M1.3,20.9 L2.5,22.8 L3.6,24.7 L4.6,26.6 L5.9,28.8 M1.3,23.4 L2.1,25.4 L3.1,27.5 L4.5,29.7 L6.0,31.8 M0.9,23.5 L1.6,25.7 L2.6,27.8 L4.0,30.0 M1.2,23.4 L2.0,25.5 L2.9,27.6 L4.3,29.8 M1.5,20.8 L2.8,22.6 L4.0,24.5 L5.1,26.4 L6.3,28.6 M1.1,21.0 L2.1,23.0 L3.1,24.9 L4.2,26.9 L5.4,29.1 M2.7,22.7 L3.9,24.6 L4.9,26.5 L6.2,28.6 M1.1,23.5 L1.8,25.6 L2.7,27.7 L4.2,29.9 L5.7,31.9 M0.4,23.8 L1.0,26.0 L1.8,28.2 L3.4,30.4 L5.1,32.3 M0.3,21.4 L0.8,23.6 L1.5,25.7 L2.4,27.9 L3.9,30.1 M2.2,22.9 L3.2,24.9 L4.2,26.9 L5.5,29.1 M1.8,23.1 L2.6,25.2 L3.6,27.2 L5.1,29.3 L6.4,31.5 M1.8,23.1 L2.7,25.1 L3.7,27.2" fill="none" stroke="#f01a1a" stroke-width="0.36" opacity="0.45"/><path d="M1.0,30.7 L2.1,29.0 L3.4,27.3 L4.8,25.8 M1.4,31.1 L2.6,29.4 L3.9,27.8 L5.4,26.4 M0.9,30.6 L2.0,28.8 L3.2,27.2 L4.7,25.6 L6.5,24.2 L8.4,22.9 M3.0,32.5 L4.6,31.3 L6.2,29.9 L7.5,28.5 L8.9,26.9 M0.6,33.1 L2.0,31.6 L3.5,30.2 L4.8,28.7 L6.2,27.2 L7.8,25.7 M0.2,32.7 L1.4,31.1 L2.7,29.5 L4.0,28.0 L5.4,26.4 L7.2,25.0 L9.0,23.6 M4.0,30.7 L5.5,29.3 L6.8,27.8 M0.2,32.7 L1.5,31.2 L2.8,29.6 L4.1,28.0 L5.5,26.5 L7.2,25.0 M2.4,32.0 L4.0,30.7 L5.4,29.3 L6.8,27.8 L8.4,26.3 M-0.1,32.5 L1.0,30.7 L2.1,29.0 L3.4,27.4 L4.8,25.8 L6.7,24.4 L8.6,23.1 M0.5,33.0 L1.9,31.5 L3.3,30.0 L4.6,28.5 L6.1,27.1 L7.7,25.5 L9.4,24.0 M2.4,29.2 L3.6,27.6 L5.0,26.0 L6.8,24.5 M1.2,33.6 L2.9,32.5 L4.6,31.2 L6.1,29.9 L7.5,28.5 L8.9,26.9 L10.3,25.1 M-0.1,32.4 L0.9,30.6 L2.0,28.9 L3.2,27.2 L4.7,25.6 L6.5,24.2 M0.3,32.8 L1.5,31.1 L2.8,29.5 L4.1,28.0 L5.4,26.4 L7.2,25.0 L9.0,23.6" fill="none" stroke="#f01a1a" stroke-width="0.36" opacity="0.48"/><path d="M11.1,29.8 L13.3,30.5 L15.6,31.2 L17.9,31.9 L20.0,32.6 L22.3,32.4 L24.6,32.3 L26.9,32.1 L29.1,31.5 M15.4,31.8 L17.6,32.6 L19.9,33.4 L22.4,33.2 L24.7,33.1 L27.1,32.9 M17.7,32.5 L20.0,33.3 L22.4,33.1 L24.7,33.0 L27.1,32.8 L29.2,32.1 L31.4,31.4" fill="none" stroke="#f01a1a" stroke-width="0.36" opacity="0.27"/><path d="M15.1,28.7 L16.1,28.1 L17.2,27.4 M15.1,28.7 L16.2,28.2 L17.2,27.5 M15.0,28.6 L16.0,27.9 L17.2,27.3" fill="none" stroke="#f01a1a" stroke-width="0.36" opacity="0.27"/><path d="M19.1,13.7 L19.8,15.8 L21.2,17.6 M19.8,13.3 L21.1,15.2 L21.7,17.4 M19.3,13.6 L20.2,15.7 L21.3,17.6 M19.8,13.4 L21.2,15.2 L21.8,17.3 M19.8,13.4 L21.1,15.2 L21.8,17.4 M19.8,13.4 L21.1,15.2 L21.8,17.4" fill="none" stroke="#f01a1a" stroke-width="0.36" opacity="0.24"/><path d="M27.0,0.5 L28.6,1.9 L30.0,3.5 M26.8,0.7 L28.2,2.3 L29.9,3.6 M26.8,0.7 L28.1,2.4 L29.8,3.7 M26.9,0.6 L28.3,2.2 L29.9,3.6" fill="none" stroke="#f01a1a" stroke-width="0.36" opacity="0.18"/></g></g>
<g transform="translate(485.7,22.2)" clip-path="url(#cc)"><rect width="33.8" height="33.8" fill="#000"/><g><g filter="url(#tex2)"><g filter="url(#b1)"><path d="M3.5,27.5 L9.0,23.5 L13.5,19.8 L18.5,16.8" fill="none" stroke="#48b020" stroke-width="5.2" stroke-linecap="round" stroke-linejoin="round" opacity="0.11"/><path d="M16.7,19.8 L15.6,4.5 L11.3,19.2 Z" fill="none" stroke="#48b020" stroke-width="0.6" stroke-linecap="round" stroke-linejoin="round" opacity="0.09"/><path d="M18.5,15.5 L24.0,10.5 L29.0,6.0 L32.5,1.0" fill="none" stroke="#48b020" stroke-width="1.1" stroke-linecap="round" stroke-linejoin="round" opacity="0.05"/><path d="M17.5,19.3 L21.0,20.6 L25.5,21.6" fill="none" stroke="#48b020" stroke-width="2.1" stroke-linecap="round" stroke-linejoin="round" opacity="0.08"/><path d="M0.4,4.0 L0.8,12.0 L1.6,19.0 L4.5,23.0" fill="none" stroke="#48b020" stroke-width="0.9" stroke-linecap="round" stroke-linejoin="round" opacity="0.08"/><path d="M1.0,21.0 L4.0,27.0 L8.0,33.5" fill="none" stroke="#48b020" stroke-width="4.8" stroke-linecap="round" stroke-linejoin="round" opacity="0.08"/><path d="M0.5,33.0 L6.0,27.0 L11.0,22.5" fill="none" stroke="#48b020" stroke-width="4.3" stroke-linecap="round" stroke-linejoin="round" opacity="0.09"/><path d="M11.0,30.0 L20.0,33.0 L27.0,32.5 L33.5,30.5" fill="none" stroke="#48b020" stroke-width="0.9" stroke-linecap="round" stroke-linejoin="round" opacity="0.05"/><path d="M15.0,28.6 L17.2,27.4" fill="none" stroke="#48b020" stroke-width="0.8" stroke-linecap="round" stroke-linejoin="round" opacity="0.05"/><path d="M19.5,13.5 L21.5,17.5" fill="none" stroke="#48b020" stroke-width="1.9" stroke-linecap="round" stroke-linejoin="round" opacity="0.04"/><path d="M27.0,0.5 L30.0,3.5" fill="none" stroke="#48b020" stroke-width="1.1" stroke-linecap="round" stroke-linejoin="round" opacity="0.03"/><path d="M16.7,19.8 L15.6,4.5 L11.3,19.2 Z" fill="#48b020" opacity="0.09"/></g><path d="M4.6,25.1 L6.2,23.5 L7.8,22.0 L10.1,20.2 L12.5,18.4 L15.3,17.1 M3.5,27.5 L5.2,26.0 L7.0,24.6 L8.9,23.3 L11.1,21.4 L13.4,19.6 L15.9,18.1 M5.0,25.7 L6.8,24.3 L8.5,22.9 L10.8,21.0 L13.1,19.2 L15.7,17.8 M3.7,27.8 L5.7,26.6 L7.6,25.4 L9.5,24.1 L11.8,22.3 M4.1,28.3 L6.3,27.5 L8.3,26.4 L10.4,25.3 L12.7,23.4 L14.7,21.4 M5.8,26.8 L7.8,25.7 L9.7,24.4 L12.0,22.5 L14.1,20.7 M5.1,25.8 L6.8,24.3 L8.6,22.9 L10.8,21.1 L13.1,19.3 L15.8,17.9 M5.8,26.8 L7.8,25.7 L9.7,24.4 L12.0,22.6 L14.1,20.7 M4.6,25.1 L6.2,23.5 L7.9,22.1 L10.1,20.2 L12.6,18.5 L15.4,17.2 M5.7,26.6 L7.6,25.4 L9.5,24.1 L11.7,22.3 L13.9,20.4 M3.9,28.0 L5.8,26.8 L7.8,25.7 L9.7,24.5 L12.0,22.6 L14.1,20.7 M5.5,26.3 L7.3,25.0 L9.1,23.7 L11.4,21.8 M3.1,27.0 L4.7,25.4 L6.4,23.8 L8.2,22.5 L10.4,20.6 M5.4,26.3 L7.3,25.0 L9.1,23.7 L11.4,21.8 L13.6,19.9 M4.7,25.3 L6.4,23.7 L8.0,22.2 L10.2,20.4 L12.7,18.7 L15.4,17.3 M4.2,28.5 L6.4,27.7 L8.6,26.8 L10.7,25.7 L13.0,23.7 L14.9,21.7 M2.8,26.5 L4.3,24.7 L5.8,22.9 L7.4,21.4 L9.5,19.6 L12.1,17.9 M5.2,26.0 L7.0,24.6 L8.8,23.3 L11.0,21.4 L13.4,19.6" fill="none" stroke="#58d028" stroke-width="0.35" opacity="0.06"/><path d="M12.6,16.8 L13.2,14.4 L13.7,11.9 M12.2,19.3 L12.7,16.8 L13.3,14.4 L13.8,11.9 L14.3,9.4 M14.9,17.1 L15.0,14.6 L15.1,12.0 L15.3,9.5 M16.0,17.2 L16.0,14.7 L16.0,12.1 L16.0,9.6 M11.7,19.3 L12.3,16.8 L12.9,14.3 L13.5,11.9 L14.1,9.4 M12.3,16.8 L13.0,14.3 L13.5,11.9 L14.1,9.4 L14.7,6.9 M15.2,19.6 L15.4,17.1 L15.5,14.6 L15.5,12.1 L15.7,9.6 L15.7,7.0 M16.3,19.7 L16.2,17.2 L16.1,14.7 L16.0,12.1 L16.1,9.6 L16.0,7.1 M12.5,16.8 L13.1,14.3 L13.6,11.9 L14.1,9.4 M16.1,17.2 L16.1,14.7 L16.1,12.1 L16.1,9.6 L16.0,7.1 M12.2,16.8 L12.7,14.3 L13.3,11.8 L14.0,9.4 M12.0,19.3 L12.5,16.8 L13.1,14.3 L13.6,11.9 L14.1,9.4 M13.6,16.9 L13.9,14.4 L14.3,11.9 L14.7,9.5 L15.0,7.0 M13.2,16.9 L13.6,14.4 L14.1,11.9 L14.5,9.4 M15.4,17.1 L15.5,14.6 L15.5,12.1 M13.9,19.5 L14.2,17.0 L14.5,14.5 L14.8,12.0 L15.0,9.5 M16.1,17.2 L16.1,14.7 L16.1,12.1 L16.0,9.6 M14.8,19.6 L15.0,17.1 L15.2,14.6 L15.3,12.1 L15.5,9.5" fill="none" stroke="#58d028" stroke-width="0.35" opacity="0.05"/><path d="M18.4,15.4 L20.3,13.8 L22.1,12.1 L24.0,10.4 L25.6,8.9 L27.3,7.5 L28.9,5.9 L30.1,4.3 L31.3,2.6 M18.6,15.6 L20.5,14.0 L22.3,12.3 L24.2,10.7 L25.9,9.2 L27.5,7.7 L29.2,6.1 L30.3,4.5 M18.3,15.3 L20.1,13.6 L21.9,11.9 L23.7,10.2 L25.3,8.6 L27.0,7.2 L28.7,5.7 M20.4,14.0 L22.3,12.3 L24.2,10.7 L25.8,9.2 L27.5,7.7 L29.2,6.2 L30.3,4.4" fill="none" stroke="#58d028" stroke-width="0.35" opacity="0.03"/><path d="M17.3,19.8 L18.9,20.8 L20.7,21.6 M17.4,19.6 L19.1,20.4 L20.8,21.2 M17.5,19.3 L19.2,20.0 L21.0,20.5 L23.3,21.1 M17.4,19.7 L19.0,20.7 L20.7,21.5 M17.5,19.4 L19.2,20.0 L21.0,20.7 L23.2,21.2 M17.6,19.0 L19.4,19.4 L21.2,19.9 L23.4,20.5 M17.3,19.7 L18.9,20.8 L20.7,21.6 L23.1,21.9" fill="none" stroke="#58d028" stroke-width="0.35" opacity="0.05"/><path d="M0.6,8.0 L0.8,10.0 L0.9,12.0 L1.1,14.3 L1.4,16.7 L1.7,19.0 M0.4,4.0 L0.5,6.0 L0.6,8.0 L0.8,10.0 L0.9,12.0 L1.1,14.3 L1.5,16.7 L1.7,19.0 M0.6,4.0 L0.7,6.0 L0.8,8.0 L1.0,10.0 L1.2,12.0 L1.4,14.3 L1.6,16.6 L1.9,18.9" fill="none" stroke="#58d028" stroke-width="0.35" opacity="0.05"/><path d="M0.5,21.2 L1.3,23.4 L2.0,25.5 L2.9,27.6 L4.4,29.8 M0.9,21.0 L1.9,23.0 L2.9,25.0 L3.9,27.1 L5.3,29.2 L6.6,31.4 M3.3,24.8 L4.3,26.8 L5.6,29.0 M1.2,23.4 L1.9,25.5 L2.8,27.7 L4.3,29.8 L5.8,31.8 M1.3,20.9 L2.5,22.8 L3.6,24.7 L4.6,26.6 L5.9,28.8 M1.3,23.4 L2.1,25.4 L3.1,27.5 L4.5,29.7 L6.0,31.8 M0.9,23.5 L1.6,25.7 L2.6,27.8 L4.0,30.0 M1.2,23.4 L2.0,25.5 L2.9,27.6 L4.3,29.8 M1.5,20.8 L2.8,22.6 L4.0,24.5 L5.1,26.4 L6.3,28.6 M1.1,21.0 L2.1,23.0 L3.1,24.9 L4.2,26.9 L5.4,29.1 M2.7,22.7 L3.9,24.6 L4.9,26.5 L6.2,28.6 M1.1,23.5 L1.8,25.6 L2.7,27.7 L4.2,29.9 L5.7,31.9 M0.4,23.8 L1.0,26.0 L1.8,28.2 L3.4,30.4 L5.1,32.3 M0.3,21.4 L0.8,23.6 L1.5,25.7 L2.4,27.9 L3.9,30.1 M2.2,22.9 L3.2,24.9 L4.2,26.9 L5.5,29.1 M1.8,23.1 L2.6,25.2 L3.6,27.2 L5.1,29.3 L6.4,31.5 M1.8,23.1 L2.7,25.1 L3.7,27.2" fill="none" stroke="#58d028" stroke-width="0.35" opacity="0.05"/><path d="M1.0,30.7 L2.1,29.0 L3.4,27.3 L4.8,25.8 M1.4,31.1 L2.6,29.4 L3.9,27.8 L5.4,26.4 M0.9,30.6 L2.0,28.8 L3.2,27.2 L4.7,25.6 L6.5,24.2 L8.4,22.9 M3.0,32.5 L4.6,31.3 L6.2,29.9 L7.5,28.5 L8.9,26.9 M0.6,33.1 L2.0,31.6 L3.5,30.2 L4.8,28.7 L6.2,27.2 L7.8,25.7 M0.2,32.7 L1.4,31.1 L2.7,29.5 L4.0,28.0 L5.4,26.4 L7.2,25.0 L9.0,23.6 M4.0,30.7 L5.5,29.3 L6.8,27.8 M0.2,32.7 L1.5,31.2 L2.8,29.6 L4.1,28.0 L5.5,26.5 L7.2,25.0 M2.4,32.0 L4.0,30.7 L5.4,29.3 L6.8,27.8 L8.4,26.3 M-0.1,32.5 L1.0,30.7 L2.1,29.0 L3.4,27.4 L4.8,25.8 L6.7,24.4 L8.6,23.1 M0.5,33.0 L1.9,31.5 L3.3,30.0 L4.6,28.5 L6.1,27.1 L7.7,25.5 L9.4,24.0 M2.4,29.2 L3.6,27.6 L5.0,26.0 L6.8,24.5 M1.2,33.6 L2.9,32.5 L4.6,31.2 L6.1,29.9 L7.5,28.5 L8.9,26.9 L10.3,25.1 M-0.1,32.4 L0.9,30.6 L2.0,28.9 L3.2,27.2 L4.7,25.6 L6.5,24.2 M0.3,32.8 L1.5,31.1 L2.8,29.5 L4.1,28.0 L5.4,26.4 L7.2,25.0 L9.0,23.6" fill="none" stroke="#58d028" stroke-width="0.35" opacity="0.05"/><path d="M11.1,29.8 L13.3,30.5 L15.6,31.2 L17.9,31.9 L20.0,32.6 L22.3,32.4 L24.6,32.3 L26.9,32.1 L29.1,31.5 M15.4,31.8 L17.6,32.6 L19.9,33.4 L22.4,33.2 L24.7,33.1 L27.1,32.9 M17.7,32.5 L20.0,33.3 L22.4,33.1 L24.7,33.0 L27.1,32.8 L29.2,32.1 L31.4,31.4" fill="none" stroke="#58d028" stroke-width="0.35" opacity="0.03"/><path d="M15.1,28.7 L16.1,28.1 L17.2,27.4 M15.1,28.7 L16.2,28.2 L17.2,27.5 M15.0,28.6 L16.0,27.9 L17.2,27.3" fill="none" stroke="#58d028" stroke-width="0.35" opacity="0.03"/><path d="M19.1,13.7 L19.8,15.8 L21.2,17.6 M19.8,13.3 L21.1,15.2 L21.7,17.4 M19.3,13.6 L20.2,15.7 L21.3,17.6 M19.8,13.4 L21.2,15.2 L21.8,17.3 M19.8,13.4 L21.1,15.2 L21.8,17.4 M19.8,13.4 L21.1,15.2 L21.8,17.4" fill="none" stroke="#58d028" stroke-width="0.35" opacity="0.02"/><path d="M27.0,0.5 L28.6,1.9 L30.0,3.5 M26.8,0.7 L28.2,2.3 L29.9,3.6 M26.8,0.7 L28.1,2.4 L29.8,3.7 M26.9,0.6 L28.3,2.2 L29.9,3.6" fill="none" stroke="#58d028" stroke-width="0.35" opacity="0.02"/></g><g filter="url(#b2)"><circle cx="17.3" cy="20.2" r="0.98" fill="#8cf040" opacity="0.90"/><circle cx="14" cy="19" r="0.68" fill="#8cf040" opacity="0.54"/><circle cx="12.5" cy="21.5" r="0.68" fill="#8cf040" opacity="0.45"/><circle cx="2" cy="19.5" r="0.68" fill="#8cf040" opacity="0.54"/><circle cx="1" cy="17.5" r="0.52" fill="#8cf040" opacity="0.45"/><circle cx="22" cy="21.5" r="0.60" fill="#8cf040" opacity="0.45"/><circle cx="16" cy="15" r="0.52" fill="#8cf040" opacity="0.36"/><circle cx="18" cy="27" r="0.52" fill="#8cf040" opacity="0.32"/><circle cx="5" cy="31" r="0.60" fill="#8cf040" opacity="0.32"/><circle cx="28" cy="6" r="0.52" fill="#8cf040" opacity="0.27"/><circle cx="20" cy="12" r="0.52" fill="#8cf040" opacity="0.27"/><circle cx="10" cy="27" r="0.52" fill="#8cf040" opacity="0.27"/></g></g></g>
<g transform="translate(521.4,22.2)" clip-path="url(#cc)"><rect width="33.8" height="33.8" fill="#000"/><g><g filter="url(#b2)"><ellipse cx="28.4" cy="6.7" rx="1.25" ry="1.03" fill="#1a24f0" opacity="0.92"/><ellipse cx="31.9" cy="3.2" rx="1.15" ry="0.95" fill="#1a24f0" opacity="0.92"/><ellipse cx="33.1" cy="5.1" rx="0.96" ry="0.79" fill="#1a24f0" opacity="0.92"/><ellipse cx="21.4" cy="11.7" rx="1.25" ry="1.03" fill="#1a24f0" opacity="0.92"/><ellipse cx="15" cy="12.5" rx="0.86" ry="0.71" fill="#1a24f0" opacity="0.92"/><ellipse cx="14.4" cy="18.7" rx="1.54" ry="1.27" fill="#1a24f0" opacity="0.92"/><ellipse cx="12" cy="20.7" rx="1.44" ry="1.19" fill="#1a24f0" opacity="0.92"/><ellipse cx="2.1" cy="20.4" rx="1.34" ry="1.11" fill="#1a24f0" opacity="0.92"/><ellipse cx="20.8" cy="20.7" rx="1.15" ry="0.95" fill="#1a24f0" opacity="0.92"/><ellipse cx="17.9" cy="27.7" rx="1.06" ry="0.87" fill="#1a24f0" opacity="0.92"/><ellipse cx="10.9" cy="30.4" rx="1.15" ry="0.95" fill="#1a24f0" opacity="0.92"/><ellipse cx="5" cy="32.4" rx="1.15" ry="0.95" fill="#1a24f0" opacity="0.92"/><ellipse cx="22.2" cy="0.4" rx="0.86" ry="0.71" fill="#1a24f0" opacity="0.92"/><ellipse cx="32.5" cy="0.4" rx="1.06" ry="0.87" fill="#1a24f0" opacity="0.92"/><ellipse cx="15" cy="15.5" rx="0.77" ry="0.63" fill="#1a24f0" opacity="0.92"/></g></g></g>
<g transform="translate(557.1,22.2)" clip-path="url(#cc)"><rect width="33.8" height="33.8" fill="#000"/><g opacity="1.0" filter="url(#tex)"><g filter="url(#b1)"><path d="M3.5,27.5 L9.0,23.5 L13.5,19.8 L18.5,16.8" fill="none" stroke="#a00606" stroke-width="4.4" stroke-linecap="round" stroke-linejoin="round" opacity="0.36"/><path d="M16.7,19.8 L15.6,4.5 L11.3,19.2 Z" fill="none" stroke="#a00606" stroke-width="0.5" stroke-linecap="round" stroke-linejoin="round" opacity="0.29"/><path d="M18.5,15.5 L24.0,10.5 L29.0,6.0 L32.5,1.0" fill="none" stroke="#a00606" stroke-width="1.0" stroke-linecap="round" stroke-linejoin="round" opacity="0.16"/><path d="M17.5,19.3 L21.0,20.6 L25.5,21.6" fill="none" stroke="#a00606" stroke-width="1.8" stroke-linecap="round" stroke-linejoin="round" opacity="0.27"/><path d="M0.4,4.0 L0.8,12.0 L1.6,19.0 L4.5,23.0" fill="none" stroke="#a00606" stroke-width="0.8" stroke-linecap="round" stroke-linejoin="round" opacity="0.27"/><path d="M1.0,21.0 L4.0,27.0 L8.0,33.5" fill="none" stroke="#a00606" stroke-width="4.0" stroke-linecap="round" stroke-linejoin="round" opacity="0.27"/><path d="M0.5,33.0 L6.0,27.0 L11.0,22.5" fill="none" stroke="#a00606" stroke-width="3.6" stroke-linecap="round" stroke-linejoin="round" opacity="0.29"/><path d="M11.0,30.0 L20.0,33.0 L27.0,32.5 L33.5,30.5" fill="none" stroke="#a00606" stroke-width="0.8" stroke-linecap="round" stroke-linejoin="round" opacity="0.16"/><path d="M15.0,28.6 L17.2,27.4" fill="none" stroke="#a00606" stroke-width="0.6" stroke-linecap="round" stroke-linejoin="round" opacity="0.16"/><path d="M19.5,13.5 L21.5,17.5" fill="none" stroke="#a00606" stroke-width="1.6" stroke-linecap="round" stroke-linejoin="round" opacity="0.14"/><path d="M27.0,0.5 L30.0,3.5" fill="none" stroke="#a00606" stroke-width="1.0" stroke-linecap="round" stroke-linejoin="round" opacity="0.11"/><path d="M16.7,19.8 L15.6,4.5 L11.3,19.2 Z" fill="#a00606" opacity="0.29"/></g><path d="M4.6,25.1 L6.2,23.5 L7.8,22.0 L10.1,20.2 L12.5,18.4 L15.3,17.1 M3.5,27.5 L5.2,26.0 L7.0,24.6 L8.9,23.3 L11.1,21.4 L13.4,19.6 L15.9,18.1 M5.0,25.7 L6.8,24.3 L8.5,22.9 L10.8,21.0 L13.1,19.2 L15.7,17.8 M3.7,27.8 L5.7,26.6 L7.6,25.4 L9.5,24.1 L11.8,22.3 M4.1,28.3 L6.3,27.5 L8.3,26.4 L10.4,25.3 L12.7,23.4 L14.7,21.4 M5.8,26.8 L7.8,25.7 L9.7,24.4 L12.0,22.5 L14.1,20.7 M5.1,25.8 L6.8,24.3 L8.6,22.9 L10.8,21.1 L13.1,19.3 L15.8,17.9 M5.8,26.8 L7.8,25.7 L9.7,24.4 L12.0,22.6 L14.1,20.7 M4.6,25.1 L6.2,23.5 L7.9,22.1 L10.1,20.2 L12.6,18.5 L15.4,17.2 M5.7,26.6 L7.6,25.4 L9.5,24.1 L11.7,22.3 L13.9,20.4 M3.9,28.0 L5.8,26.8 L7.8,25.7 L9.7,24.5 L12.0,22.6 L14.1,20.7 M5.5,26.3 L7.3,25.0 L9.1,23.7 L11.4,21.8 M3.1,27.0 L4.7,25.4 L6.4,23.8 L8.2,22.5 L10.4,20.6 M5.4,26.3 L7.3,25.0 L9.1,23.7 L11.4,21.8 L13.6,19.9 M4.7,25.3 L6.4,23.7 L8.0,22.2 L10.2,20.4 L12.7,18.7 L15.4,17.3 M4.2,28.5 L6.4,27.7 L8.6,26.8 L10.7,25.7 L13.0,23.7 L14.9,21.7 M2.8,26.5 L4.3,24.7 L5.8,22.9 L7.4,21.4 L9.5,19.6 L12.1,17.9 M5.2,26.0 L7.0,24.6 L8.8,23.3 L11.0,21.4 L13.4,19.6" fill="none" stroke="#f01a1a" stroke-width="0.36" opacity="0.59"/><path d="M12.6,16.8 L13.2,14.4 L13.7,11.9 M12.2,19.3 L12.7,16.8 L13.3,14.4 L13.8,11.9 L14.3,9.4 M14.9,17.1 L15.0,14.6 L15.1,12.0 L15.3,9.5 M16.0,17.2 L16.0,14.7 L16.0,12.1 L16.0,9.6 M11.7,19.3 L12.3,16.8 L12.9,14.3 L13.5,11.9 L14.1,9.4 M12.3,16.8 L13.0,14.3 L13.5,11.9 L14.1,9.4 L14.7,6.9 M15.2,19.6 L15.4,17.1 L15.5,14.6 L15.5,12.1 L15.7,9.6 L15.7,7.0 M16.3,19.7 L16.2,17.2 L16.1,14.7 L16.0,12.1 L16.1,9.6 L16.0,7.1 M12.5,16.8 L13.1,14.3 L13.6,11.9 L14.1,9.4 M16.1,17.2 L16.1,14.7 L16.1,12.1 L16.1,9.6 L16.0,7.1 M12.2,16.8 L12.7,14.3 L13.3,11.8 L14.0,9.4 M12.0,19.3 L12.5,16.8 L13.1,14.3 L13.6,11.9 L14.1,9.4 M13.6,16.9 L13.9,14.4 L14.3,11.9 L14.7,9.5 L15.0,7.0 M13.2,16.9 L13.6,14.4 L14.1,11.9 L14.5,9.4 M15.4,17.1 L15.5,14.6 L15.5,12.1 M13.9,19.5 L14.2,17.0 L14.5,14.5 L14.8,12.0 L15.0,9.5 M16.1,17.2 L16.1,14.7 L16.1,12.1 L16.0,9.6 M14.8,19.6 L15.0,17.1 L15.2,14.6 L15.3,12.1 L15.5,9.5" fill="none" stroke="#f01a1a" stroke-width="0.36" opacity="0.48"/><path d="M18.4,15.4 L20.3,13.8 L22.1,12.1 L24.0,10.4 L25.6,8.9 L27.3,7.5 L28.9,5.9 L30.1,4.3 L31.3,2.6 M18.6,15.6 L20.5,14.0 L22.3,12.3 L24.2,10.7 L25.9,9.2 L27.5,7.7 L29.2,6.1 L30.3,4.5 M18.3,15.3 L20.1,13.6 L21.9,11.9 L23.7,10.2 L25.3,8.6 L27.0,7.2 L28.7,5.7 M20.4,14.0 L22.3,12.3 L24.2,10.7 L25.8,9.2 L27.5,7.7 L29.2,6.2 L30.3,4.4" fill="none" stroke="#f01a1a" stroke-width="0.36" opacity="0.27"/><path d="M17.3,19.8 L18.9,20.8 L20.7,21.6 M17.4,19.6 L19.1,20.4 L20.8,21.2 M17.5,19.3 L19.2,20.0 L21.0,20.5 L23.3,21.1 M17.4,19.7 L19.0,20.7 L20.7,21.5 M17.5,19.4 L19.2,20.0 L21.0,20.7 L23.2,21.2 M17.6,19.0 L19.4,19.4 L21.2,19.9 L23.4,20.5 M17.3,19.7 L18.9,20.8 L20.7,21.6 L23.1,21.9" fill="none" stroke="#f01a1a" stroke-width="0.36" opacity="0.45"/><path d="M0.6,8.0 L0.8,10.0 L0.9,12.0 L1.1,14.3 L1.4,16.7 L1.7,19.0 M0.4,4.0 L0.5,6.0 L0.6,8.0 L0.8,10.0 L0.9,12.0 L1.1,14.3 L1.5,16.7 L1.7,19.0 M0.6,4.0 L0.7,6.0 L0.8,8.0 L1.0,10.0 L1.2,12.0 L1.4,14.3 L1.6,16.6 L1.9,18.9" fill="none" stroke="#f01a1a" stroke-width="0.36" opacity="0.45"/><path d="M0.5,21.2 L1.3,23.4 L2.0,25.5 L2.9,27.6 L4.4,29.8 M0.9,21.0 L1.9,23.0 L2.9,25.0 L3.9,27.1 L5.3,29.2 L6.6,31.4 M3.3,24.8 L4.3,26.8 L5.6,29.0 M1.2,23.4 L1.9,25.5 L2.8,27.7 L4.3,29.8 L5.8,31.8 M1.3,20.9 L2.5,22.8 L3.6,24.7 L4.6,26.6 L5.9,28.8 M1.3,23.4 L2.1,25.4 L3.1,27.5 L4.5,29.7 L6.0,31.8 M0.9,23.5 L1.6,25.7 L2.6,27.8 L4.0,30.0 M1.2,23.4 L2.0,25.5 L2.9,27.6 L4.3,29.8 M1.5,20.8 L2.8,22.6 L4.0,24.5 L5.1,26.4 L6.3,28.6 M1.1,21.0 L2.1,23.0 L3.1,24.9 L4.2,26.9 L5.4,29.1 M2.7,22.7 L3.9,24.6 L4.9,26.5 L6.2,28.6 M1.1,23.5 L1.8,25.6 L2.7,27.7 L4.2,29.9 L5.7,31.9 M0.4,23.8 L1.0,26.0 L1.8,28.2 L3.4,30.4 L5.1,32.3 M0.3,21.4 L0.8,23.6 L1.5,25.7 L2.4,27.9 L3.9,30.1 M2.2,22.9 L3.2,24.9 L4.2,26.9 L5.5,29.1 M1.8,23.1 L2.6,25.2 L3.6,27.2 L5.1,29.3 L6.4,31.5 M1.8,23.1 L2.7,25.1 L3.7,27.2" fill="none" stroke="#f01a1a" stroke-width="0.36" opacity="0.45"/><path d="M1.0,30.7 L2.1,29.0 L3.4,27.3 L4.8,25.8 M1.4,31.1 L2.6,29.4 L3.9,27.8 L5.4,26.4 M0.9,30.6 L2.0,28.8 L3.2,27.2 L4.7,25.6 L6.5,24.2 L8.4,22.9 M3.0,32.5 L4.6,31.3 L6.2,29.9 L7.5,28.5 L8.9,26.9 M0.6,33.1 L2.0,31.6 L3.5,30.2 L4.8,28.7 L6.2,27.2 L7.8,25.7 M0.2,32.7 L1.4,31.1 L2.7,29.5 L4.0,28.0 L5.4,26.4 L7.2,25.0 L9.0,23.6 M4.0,30.7 L5.5,29.3 L6.8,27.8 M0.2,32.7 L1.5,31.2 L2.8,29.6 L4.1,28.0 L5.5,26.5 L7.2,25.0 M2.4,32.0 L4.0,30.7 L5.4,29.3 L6.8,27.8 L8.4,26.3 M-0.1,32.5 L1.0,30.7 L2.1,29.0 L3.4,27.4 L4.8,25.8 L6.7,24.4 L8.6,23.1 M0.5,33.0 L1.9,31.5 L3.3,30.0 L4.6,28.5 L6.1,27.1 L7.7,25.5 L9.4,24.0 M2.4,29.2 L3.6,27.6 L5.0,26.0 L6.8,24.5 M1.2,33.6 L2.9,32.5 L4.6,31.2 L6.1,29.9 L7.5,28.5 L8.9,26.9 L10.3,25.1 M-0.1,32.4 L0.9,30.6 L2.0,28.9 L3.2,27.2 L4.7,25.6 L6.5,24.2 M0.3,32.8 L1.5,31.1 L2.8,29.5 L4.1,28.0 L5.4,26.4 L7.2,25.0 L9.0,23.6" fill="none" stroke="#f01a1a" stroke-width="0.36" opacity="0.48"/><path d="M11.1,29.8 L13.3,30.5 L15.6,31.2 L17.9,31.9 L20.0,32.6 L22.3,32.4 L24.6,32.3 L26.9,32.1 L29.1,31.5 M15.4,31.8 L17.6,32.6 L19.9,33.4 L22.4,33.2 L24.7,33.1 L27.1,32.9 M17.7,32.5 L20.0,33.3 L22.4,33.1 L24.7,33.0 L27.1,32.8 L29.2,32.1 L31.4,31.4" fill="none" stroke="#f01a1a" stroke-width="0.36" opacity="0.27"/><path d="M15.1,28.7 L16.1,28.1 L17.2,27.4 M15.1,28.7 L16.2,28.2 L17.2,27.5 M15.0,28.6 L16.0,27.9 L17.2,27.3" fill="none" stroke="#f01a1a" stroke-width="0.36" opacity="0.27"/><path d="M19.1,13.7 L19.8,15.8 L21.2,17.6 M19.8,13.3 L21.1,15.2 L21.7,17.4 M19.3,13.6 L20.2,15.7 L21.3,17.6 M19.8,13.4 L21.2,15.2 L21.8,17.3 M19.8,13.4 L21.1,15.2 L21.8,17.4 M19.8,13.4 L21.1,15.2 L21.8,17.4" fill="none" stroke="#f01a1a" stroke-width="0.36" opacity="0.24"/><path d="M27.0,0.5 L28.6,1.9 L30.0,3.5 M26.8,0.7 L28.2,2.3 L29.9,3.6 M26.8,0.7 L28.1,2.4 L29.8,3.7 M26.9,0.6 L28.3,2.2 L29.9,3.6" fill="none" stroke="#f01a1a" stroke-width="0.36" opacity="0.18"/></g><g><g filter="url(#tex2)"><g filter="url(#b1)"><path d="M3.5,27.5 L9.0,23.5 L13.5,19.8 L18.5,16.8" fill="none" stroke="#48b020" stroke-width="5.2" stroke-linecap="round" stroke-linejoin="round" opacity="0.07"/><path d="M16.7,19.8 L15.6,4.5 L11.3,19.2 Z" fill="none" stroke="#48b020" stroke-width="0.6" stroke-linecap="round" stroke-linejoin="round" opacity="0.05"/><path d="M18.5,15.5 L24.0,10.5 L29.0,6.0 L32.5,1.0" fill="none" stroke="#48b020" stroke-width="1.1" stroke-linecap="round" stroke-linejoin="round" opacity="0.03"/><path d="M17.5,19.3 L21.0,20.6 L25.5,21.6" fill="none" stroke="#48b020" stroke-width="2.1" stroke-linecap="round" stroke-linejoin="round" opacity="0.05"/><path d="M0.4,4.0 L0.8,12.0 L1.6,19.0 L4.5,23.0" fill="none" stroke="#48b020" stroke-width="0.9" stroke-linecap="round" stroke-linejoin="round" opacity="0.05"/><path d="M1.0,21.0 L4.0,27.0 L8.0,33.5" fill="none" stroke="#48b020" stroke-width="4.8" stroke-linecap="round" stroke-linejoin="round" opacity="0.05"/><path d="M0.5,33.0 L6.0,27.0 L11.0,22.5" fill="none" stroke="#48b020" stroke-width="4.3" stroke-linecap="round" stroke-linejoin="round" opacity="0.05"/><path d="M11.0,30.0 L20.0,33.0 L27.0,32.5 L33.5,30.5" fill="none" stroke="#48b020" stroke-width="0.9" stroke-linecap="round" stroke-linejoin="round" opacity="0.03"/><path d="M15.0,28.6 L17.2,27.4" fill="none" stroke="#48b020" stroke-width="0.8" stroke-linecap="round" stroke-linejoin="round" opacity="0.03"/><path d="M19.5,13.5 L21.5,17.5" fill="none" stroke="#48b020" stroke-width="1.9" stroke-linecap="round" stroke-linejoin="round" opacity="0.03"/><path d="M27.0,0.5 L30.0,3.5" fill="none" stroke="#48b020" stroke-width="1.1" stroke-linecap="round" stroke-linejoin="round" opacity="0.02"/><path d="M16.7,19.8 L15.6,4.5 L11.3,19.2 Z" fill="#48b020" opacity="0.05"/></g></g><g filter="url(#b2)"><circle cx="17.3" cy="20.2" r="0.98" fill="#b0f040" opacity="0.80"/><circle cx="14" cy="19" r="0.68" fill="#b0f040" opacity="0.48"/><circle cx="12.5" cy="21.5" r="0.68" fill="#b0f040" opacity="0.40"/><circle cx="2" cy="19.5" r="0.68" fill="#b0f040" opacity="0.48"/><circle cx="1" cy="17.5" r="0.52" fill="#b0f040" opacity="0.40"/><circle cx="22" cy="21.5" r="0.60" fill="#b0f040" opacity="0.40"/><circle cx="16" cy="15" r="0.52" fill="#b0f040" opacity="0.32"/><circle cx="18" cy="27" r="0.52" fill="#b0f040" opacity="0.28"/><circle cx="5" cy="31" r="0.60" fill="#b0f040" opacity="0.28"/><circle cx="28" cy="6" r="0.52" fill="#b0f040" opacity="0.24"/><circle cx="20" cy="12" r="0.52" fill="#b0f040" opacity="0.24"/><circle cx="10" cy="27" r="0.52" fill="#b0f040" opacity="0.24"/></g></g><g><g filter="url(#b2)"><ellipse cx="28.4" cy="6.7" rx="1.25" ry="1.03" fill="#5a3cf0" opacity="0.92"/><ellipse cx="31.9" cy="3.2" rx="1.15" ry="0.95" fill="#5a3cf0" opacity="0.92"/><ellipse cx="33.1" cy="5.1" rx="0.96" ry="0.79" fill="#5a3cf0" opacity="0.92"/><ellipse cx="21.4" cy="11.7" rx="1.25" ry="1.03" fill="#5a3cf0" opacity="0.92"/><ellipse cx="15" cy="12.5" rx="0.86" ry="0.71" fill="#5a3cf0" opacity="0.92"/><ellipse cx="14.4" cy="18.7" rx="1.54" ry="1.27" fill="#5a3cf0" opacity="0.92"/><ellipse cx="12" cy="20.7" rx="1.44" ry="1.19" fill="#5a3cf0" opacity="0.92"/><ellipse cx="2.1" cy="20.4" rx="1.34" ry="1.11" fill="#5a3cf0" opacity="0.92"/><ellipse cx="20.8" cy="20.7" rx="1.15" ry="0.95" fill="#5a3cf0" opacity="0.92"/><ellipse cx="17.9" cy="27.7" rx="1.06" ry="0.87" fill="#5a3cf0" opacity="0.92"/><ellipse cx="10.9" cy="30.4" rx="1.15" ry="0.95" fill="#5a3cf0" opacity="0.92"/><ellipse cx="5" cy="32.4" rx="1.15" ry="0.95" fill="#5a3cf0" opacity="0.92"/><ellipse cx="22.2" cy="0.4" rx="0.86" ry="0.71" fill="#5a3cf0" opacity="0.92"/><ellipse cx="32.5" cy="0.4" rx="1.06" ry="0.87" fill="#5a3cf0" opacity="0.92"/><ellipse cx="15" cy="15.5" rx="0.77" ry="0.63" fill="#5a3cf0" opacity="0.92"/></g></g><rect x="24.9" y="30.8" width="8.0" height="1.8" fill="#fff"/></g>
<g transform="translate(450.1,57.9)" clip-path="url(#cc)"><rect width="33.8" height="33.8" fill="#000"/><g opacity="1.0" filter="url(#tex)"><g filter="url(#b1)"><path d="M11.0,0.5 L15.0,5.0 L17.8,10.0 L19.6,16.8 L22.7,21.2 L28.2,26.5" fill="none" stroke="#a00606" stroke-width="3.5" stroke-linecap="round" stroke-linejoin="round" opacity="0.36"/><path d="M21.6,0.6 L20.3,5.0 L19.2,10.0 L18.6,15.0" fill="none" stroke="#a00606" stroke-width="1.6" stroke-linecap="round" stroke-linejoin="round" opacity="0.29"/><path d="M0.0,19.6 L8.9,19.0 L15.5,15.7" fill="none" stroke="#a00606" stroke-width="4.2" stroke-linecap="round" stroke-linejoin="round" opacity="0.32"/><path d="M0.0,16.5 L6.0,18.0 L12.0,17.5" fill="none" stroke="#a00606" stroke-width="1.2" stroke-linecap="round" stroke-linejoin="round" opacity="0.18"/><path d="M3.3,22.9 L14.4,24.0 L24.4,29.5 L26.8,32.5" fill="none" stroke="#a00606" stroke-width="3.8" stroke-linecap="round" stroke-linejoin="round" opacity="0.30"/><path d="M8.4,12.4 L9.8,13.6" fill="none" stroke="#a00606" stroke-width="0.6" stroke-linecap="round" stroke-linejoin="round" opacity="0.21"/><path d="M5.6,28.0 L6.2,32.0" fill="none" stroke="#a00606" stroke-width="0.8" stroke-linecap="round" stroke-linejoin="round" opacity="0.21"/><path d="M8.8,28.5 L9.6,32.5" fill="none" stroke="#a00606" stroke-width="1.0" stroke-linecap="round" stroke-linejoin="round" opacity="0.21"/><path d="M14.5,17.0 L18.0,20.0 L21.0,22.5" fill="none" stroke="#a00606" stroke-width="3.6" stroke-linecap="round" stroke-linejoin="round" opacity="0.32"/><path d="M16.0,21.0 L22.0,25.0 L27.0,29.0" fill="none" stroke="#a00606" stroke-width="2.6" stroke-linecap="round" stroke-linejoin="round" opacity="0.25"/></g><path d="M10.8,0.6 L12.2,2.1 L13.5,3.7 L14.8,5.1 L16.1,7.6 L17.5,10.1 L18.0,12.4 L18.7,14.6 L19.2,17.0 L20.9,19.2 L22.5,21.4 L24.4,23.1 L26.2,24.9 M14.0,3.2 L15.4,4.7 L16.9,7.2 L18.3,9.8 L19.0,12.1 L19.6,14.4 L20.1,16.6 L21.6,18.7 M15.8,7.8 L17.2,10.3 L17.7,12.4 L18.3,14.7 L19.0,17.1 L20.6,19.4 L22.2,21.6 M11.3,0.3 L12.6,1.7 L14.1,3.2 L15.5,4.7 L17.0,7.2 L18.5,9.7 L19.1,12.1 L19.6,14.4 L20.2,16.5 L21.7,18.6 L23.1,20.9 L24.9,22.6 M15.0,5.0 L16.4,7.5 L17.8,10.0 L18.5,12.2 L19.1,14.5 L19.7,16.8 L21.2,19.0 M13.7,5.9 L14.8,8.4 L16.0,10.7 L16.5,12.8 L17.1,15.0 L17.9,17.6 L19.7,20.0 L21.5,22.3 L23.6,24.0 L25.5,25.6 M16.5,7.4 L18.0,9.9 L18.6,12.2 L19.3,14.5 L19.8,16.7 L21.3,18.9 M11.2,0.3 L12.7,1.7 L14.0,3.2 L15.5,4.7 L16.9,7.2 L18.4,9.7 L19.0,12.1 L19.6,14.4 L20.2,16.5 L21.7,18.6 M15.9,7.8 L17.2,10.3 L17.8,12.4 L18.3,14.7 L19.0,17.1 M12.8,1.6 L14.3,3.0 L15.8,4.5 L17.3,7.0 L18.8,9.6 L19.5,12.0 L20.1,14.3 L20.6,16.3 L22.0,18.4 L23.4,20.6 L25.1,22.3 M11.5,0.0 L13.0,1.4 L14.5,2.8 L16.0,4.3 L17.6,6.8 L19.2,9.4 L19.9,11.9 L20.5,14.1 L21.0,16.1 L22.3,18.2 L23.7,20.4 M14.5,5.4 L15.8,7.8 L17.1,10.3 L17.7,12.4 L18.3,14.7 L18.9,17.1 L20.6,19.4 M15.2,4.9 L16.6,7.4 L18.0,9.9 L18.7,12.2 L19.2,14.5 L19.8,16.7 L21.4,18.8 M13.9,3.3 L15.3,4.8 L16.7,7.3 L18.1,9.9 L18.8,12.2 L19.4,14.4 L20.0,16.6 L21.4,18.8" fill="none" stroke="#f01a1a" stroke-width="0.36" opacity="0.59"/><path d="M20.0,4.9 L19.3,7.4 L18.9,9.9 L18.6,12.5 M21.7,0.6 L21.0,2.8 L20.5,5.0 L19.9,7.5 L19.4,10.0 M21.4,2.9 L20.9,5.1 L20.4,7.6 L19.9,10.1 L19.4,12.6 M20.9,2.8 L20.3,5.0 L19.7,7.5 L19.1,10.0 L18.9,12.5 M20.4,2.6 L19.6,4.8 L19.0,7.3 L18.5,9.9 L18.3,12.4 M19.9,4.9 L19.3,7.4 L18.9,9.9 L18.6,12.5" fill="none" stroke="#f01a1a" stroke-width="0.36" opacity="0.48"/><path d="M2.2,18.7 L4.4,18.3 L6.6,18.1 L8.6,17.9 L10.7,17.0 L12.9,16.1 M4.6,21.0 L6.8,20.9 L9.4,20.7 L11.8,19.3 L13.9,18.0 M-0.0,19.5 L2.2,19.3 L4.4,19.2 L6.7,19.0 L8.9,18.9 M0.0,20.2 L2.3,20.4 L4.5,20.4 L6.8,20.5 L9.2,20.2 L11.6,19.0 L13.7,17.6 M2.3,20.0 L4.5,20.0 L6.7,19.9 L9.1,19.8 L11.4,18.5 M2.1,17.9 L4.3,17.3 L6.5,16.9 L8.3,16.8 M0.1,20.6 L2.3,21.0 L4.6,21.4 L6.8,21.5 L9.5,21.3 M2.2,18.4 L4.4,17.8 L6.6,17.6 L8.5,17.5 L10.5,16.6 L12.8,15.8 M2.2,19.1 L4.4,18.9 L6.6,18.6 L8.8,18.5 L10.9,17.4 M2.2,19.6 L4.5,19.4 L6.7,19.3 L8.9,19.2 M4.3,17.6 L6.5,17.3 L8.4,17.2 L10.3,16.4 M0.0,20.3 L2.3,20.4 L4.5,20.5 L6.8,20.5 L9.3,20.3 L11.6,18.9 M4.5,20.6 L6.8,20.6 L9.3,20.5 L11.7,19.1 L13.8,17.7 M0.1,20.6 L2.3,20.9 L4.6,21.1 L6.8,21.3 L9.5,21.0 L11.9,19.6 L13.9,18.1 M4.5,19.6 L6.7,19.5 L9.0,19.3 L11.2,18.1 L13.4,17.0 M0.1,20.4 L2.3,20.6 L4.5,20.7 L6.8,20.8 L9.4,20.6 M0.0,20.2 L2.3,20.5 L4.5,20.7 L6.8,20.6 L9.3,20.4 L11.7,19.1 L13.8,17.7" fill="none" stroke="#f01a1a" stroke-width="0.36" opacity="0.54"/><path d="M-0.1,16.8 L1.9,17.4 L3.9,18.1 L6.0,18.6 L8.0,18.4 L10.0,18.1 M2.0,16.8 L4.0,17.3 L6.0,17.8 L8.0,17.6 L10.0,17.6 M-0.1,16.8 L1.9,17.4 L3.9,18.1 L5.9,18.7 L8.1,18.5 L10.0,18.2 M0.0,16.3 L2.1,16.7 L4.1,17.2 L6.0,17.6 L8.0,17.5 L10.0,17.4 M0.1,16.2 L2.1,16.5 L4.2,16.9 L6.1,17.3 L7.9,17.2" fill="none" stroke="#f01a1a" stroke-width="0.36" opacity="0.30"/><path d="M3.3,23.3 L5.5,23.7 L7.7,24.0 L9.9,24.3 L12.1,24.6 L14.1,24.8 L16.0,25.9 L18.0,26.9 L20.0,28.1 L22.0,29.1 L24.0,30.0 L25.2,31.3 M10.1,22.2 L12.3,22.3 L14.9,22.4 L17.2,23.6 L19.2,24.8 L21.2,25.9 M5.5,22.8 L7.8,23.1 L10.0,23.2 L12.2,23.5 L14.5,23.6 L16.6,24.8 L18.6,25.9 L20.6,26.9 L22.5,28.1 L24.6,29.3 M5.6,22.6 L7.8,22.6 L10.0,22.8 L12.3,22.9 L14.7,23.1 L16.8,24.3 L18.8,25.4 L20.8,26.6 M7.9,22.1 L10.1,22.1 L12.3,22.2 L14.9,22.4 L17.2,23.6 L19.2,24.8 M7.8,23.0 L10.0,23.3 L12.2,23.4 L14.5,23.6 L16.6,24.8 L18.6,25.8 L20.6,27.0 L22.6,28.1 L24.5,29.3 L25.8,30.9 M7.9,21.8 L10.1,21.8 L12.4,22.0 L15.0,22.1 L17.4,23.3 L19.3,24.5 L21.3,25.6 M3.3,22.5 L5.6,22.7 L7.8,22.8 L10.0,22.9 L12.2,23.1 L14.6,23.3 L16.8,24.4 L18.7,25.6 L20.8,26.6 L22.7,27.8 L24.8,29.0 L26.0,30.7 M7.9,22.0 L10.1,22.0 L12.3,22.1 L14.9,22.3 L17.3,23.5 L19.3,24.6 L21.2,25.8 M5.4,24.2 L7.6,24.6 L9.8,25.0 L12.0,25.4 L13.9,25.6 L15.6,26.6 L17.6,27.7 L19.6,28.7 L21.7,29.7 L23.6,30.4 L24.8,31.7 M3.3,23.4 L5.5,23.8 L7.7,24.2 L9.9,24.5 L12.1,24.9 L14.1,25.0 L15.9,26.0 L17.9,27.1 M5.5,22.8 L7.8,23.0 L10.0,23.2 L12.2,23.3 L14.5,23.5 L16.7,24.6 L18.7,25.7 L20.6,26.9 L22.6,28.0 M9.9,24.2 L12.1,24.5 L14.2,24.8 L16.0,25.8 L18.0,26.9 L20.0,28.0 L22.0,29.0 L24.0,30.0 M10.1,21.8 L12.4,21.8 L15.0,22.0 L17.4,23.2 L19.4,24.4 L21.4,25.5 L23.3,26.8 L25.4,28.3 M7.7,23.8 L9.9,24.2 L12.1,24.4 L14.2,24.7 L16.1,25.7 L18.1,26.8 L20.1,27.8 L22.2,28.8 L24.1,29.9 M9.8,25.0 L12.0,25.4 L13.9,25.6 L15.6,26.6 L17.6,27.7 L19.6,28.8 L21.7,29.7 L23.6,30.5" fill="none" stroke="#f01a1a" stroke-width="0.36" opacity="0.51"/><path d="M8.5,12.3 L9.1,13.0 L9.9,13.5 M8.4,12.4 L9.0,13.1 L9.7,13.7 M8.4,12.5 L9.0,13.1 L9.7,13.7" fill="none" stroke="#f01a1a" stroke-width="0.36" opacity="0.36"/><path d="M5.4,28.0 L5.5,30.1 L6.0,32.0 M5.6,28.0 L5.7,30.0 L6.2,32.0 M5.7,28.0 L5.9,30.0 L6.2,32.0" fill="none" stroke="#f01a1a" stroke-width="0.36" opacity="0.36"/><path d="M9.0,28.5 L9.4,30.5 L9.7,32.5 M8.6,28.5 L8.7,30.6 L9.3,32.6 M8.7,28.5 L9.1,30.5 L9.6,32.5 M8.6,28.5 L8.8,30.6 L9.5,32.5" fill="none" stroke="#f01a1a" stroke-width="0.36" opacity="0.36"/><path d="M14.2,17.3 L15.8,19.1 L17.4,20.7 L19.0,21.9 M16.1,18.6 L17.9,20.2 L19.4,21.3 M15.0,16.4 L17.2,17.4 L19.2,18.6 M14.5,17.0 L16.3,18.5 L18.0,20.0 M13.9,17.7 L15.1,19.9 L16.7,21.6 L18.3,22.7 M14.8,16.7 L16.8,17.9 L18.6,19.2 L20.1,20.6 M13.9,17.7 L15.2,19.8 L16.6,21.6 L18.4,22.6 M16.2,18.5 L18.0,20.0 L19.4,21.3 M16.6,18.1 L18.4,19.6 L19.8,20.8 M14.0,17.6 L15.2,19.7 L16.8,21.4 M15.2,19.7 L16.7,21.5 L18.4,22.5 M14.8,16.7 L16.8,17.9 L18.6,19.3 M15.9,18.9 L17.7,20.4 L19.2,21.6 M14.7,16.8 L16.7,18.0 L18.6,19.3 L19.9,20.7 M14.4,17.1 L16.1,18.7 L17.8,20.2" fill="none" stroke="#f01a1a" stroke-width="0.36" opacity="0.54"/><path d="M16.1,20.9 L18.1,22.1 L20.2,23.4 L22.2,24.7 L23.8,26.1 M16.3,20.5 L18.5,21.6 L20.7,22.7 L22.8,24.0 L24.4,25.5 M18.6,21.5 L20.7,22.6 L22.8,23.9 L24.5,25.3 L25.9,26.9 M18.6,21.4 L20.7,22.6 L22.8,23.8 L24.5,25.3 L26.0,26.8 M17.8,22.7 L19.7,24.1 L21.6,25.5 L23.3,26.7 L25.1,28.0 M17.4,23.3 L19.2,24.9 L21.1,26.2 L22.8,27.4 L24.7,28.5 M18.4,21.8 L20.5,23.0 L22.5,24.3 L24.2,25.7 L25.8,27.1 M17.6,23.0 L19.5,24.5 L21.4,25.9 L23.1,27.1 L24.8,28.3 M17.4,23.2 L19.2,24.8 L21.2,26.2 L22.9,27.3 M18.2,22.1 L20.2,23.4 L22.2,24.7 L23.9,26.0 L25.5,27.4" fill="none" stroke="#f01a1a" stroke-width="0.36" opacity="0.42"/></g></g>
<g transform="translate(485.7,57.9)" clip-path="url(#cc)"><rect width="33.8" height="33.8" fill="#000"/><g><g filter="url(#tex2)"><g filter="url(#b1)"><path d="M11.0,0.5 L15.0,5.0 L17.8,10.0 L19.6,16.8 L22.7,21.2 L28.2,26.5" fill="none" stroke="#48b020" stroke-width="4.2" stroke-linecap="round" stroke-linejoin="round" opacity="0.13"/><path d="M21.6,0.6 L20.3,5.0 L19.2,10.0 L18.6,15.0" fill="none" stroke="#48b020" stroke-width="1.9" stroke-linecap="round" stroke-linejoin="round" opacity="0.10"/><path d="M0.0,19.6 L8.9,19.0 L15.5,15.7" fill="none" stroke="#48b020" stroke-width="4.9" stroke-linecap="round" stroke-linejoin="round" opacity="0.12"/><path d="M0.0,16.5 L6.0,18.0 L12.0,17.5" fill="none" stroke="#48b020" stroke-width="1.4" stroke-linecap="round" stroke-linejoin="round" opacity="0.07"/><path d="M3.3,22.9 L14.4,24.0 L24.4,29.5 L26.8,32.5" fill="none" stroke="#48b020" stroke-width="4.6" stroke-linecap="round" stroke-linejoin="round" opacity="0.11"/><path d="M8.4,12.4 L9.8,13.6" fill="none" stroke="#48b020" stroke-width="0.7" stroke-linecap="round" stroke-linejoin="round" opacity="0.08"/><path d="M5.6,28.0 L6.2,32.0" fill="none" stroke="#48b020" stroke-width="0.9" stroke-linecap="round" stroke-linejoin="round" opacity="0.08"/><path d="M8.8,28.5 L9.6,32.5" fill="none" stroke="#48b020" stroke-width="1.1" stroke-linecap="round" stroke-linejoin="round" opacity="0.08"/><path d="M14.5,17.0 L18.0,20.0 L21.0,22.5" fill="none" stroke="#48b020" stroke-width="4.3" stroke-linecap="round" stroke-linejoin="round" opacity="0.12"/><path d="M16.0,21.0 L22.0,25.0 L27.0,29.0" fill="none" stroke="#48b020" stroke-width="3.0" stroke-linecap="round" stroke-linejoin="round" opacity="0.09"/></g><path d="M10.8,0.6 L12.2,2.1 L13.5,3.7 L14.8,5.1 L16.1,7.6 L17.5,10.1 L18.0,12.4 L18.7,14.6 L19.2,17.0 L20.9,19.2 L22.5,21.4 L24.4,23.1 L26.2,24.9 M14.0,3.2 L15.4,4.7 L16.9,7.2 L18.3,9.8 L19.0,12.1 L19.6,14.4 L20.1,16.6 L21.6,18.7 M15.8,7.8 L17.2,10.3 L17.7,12.4 L18.3,14.7 L19.0,17.1 L20.6,19.4 L22.2,21.6 M11.3,0.3 L12.6,1.7 L14.1,3.2 L15.5,4.7 L17.0,7.2 L18.5,9.7 L19.1,12.1 L19.6,14.4 L20.2,16.5 L21.7,18.6 L23.1,20.9 L24.9,22.6 M15.0,5.0 L16.4,7.5 L17.8,10.0 L18.5,12.2 L19.1,14.5 L19.7,16.8 L21.2,19.0 M13.7,5.9 L14.8,8.4 L16.0,10.7 L16.5,12.8 L17.1,15.0 L17.9,17.6 L19.7,20.0 L21.5,22.3 L23.6,24.0 L25.5,25.6 M16.5,7.4 L18.0,9.9 L18.6,12.2 L19.3,14.5 L19.8,16.7 L21.3,18.9 M11.2,0.3 L12.7,1.7 L14.0,3.2 L15.5,4.7 L16.9,7.2 L18.4,9.7 L19.0,12.1 L19.6,14.4 L20.2,16.5 L21.7,18.6 M15.9,7.8 L17.2,10.3 L17.8,12.4 L18.3,14.7 L19.0,17.1 M12.8,1.6 L14.3,3.0 L15.8,4.5 L17.3,7.0 L18.8,9.6 L19.5,12.0 L20.1,14.3 L20.6,16.3 L22.0,18.4 L23.4,20.6 L25.1,22.3 M11.5,0.0 L13.0,1.4 L14.5,2.8 L16.0,4.3 L17.6,6.8 L19.2,9.4 L19.9,11.9 L20.5,14.1 L21.0,16.1 L22.3,18.2 L23.7,20.4 M14.5,5.4 L15.8,7.8 L17.1,10.3 L17.7,12.4 L18.3,14.7 L18.9,17.1 L20.6,19.4 M15.2,4.9 L16.6,7.4 L18.0,9.9 L18.7,12.2 L19.2,14.5 L19.8,16.7 L21.4,18.8 M13.9,3.3 L15.3,4.8 L16.7,7.3 L18.1,9.9 L18.8,12.2 L19.4,14.4 L20.0,16.6 L21.4,18.8" fill="none" stroke="#58d028" stroke-width="0.35" opacity="0.07"/><path d="M20.0,4.9 L19.3,7.4 L18.9,9.9 L18.6,12.5 M21.7,0.6 L21.0,2.8 L20.5,5.0 L19.9,7.5 L19.4,10.0 M21.4,2.9 L20.9,5.1 L20.4,7.6 L19.9,10.1 L19.4,12.6 M20.9,2.8 L20.3,5.0 L19.7,7.5 L19.1,10.0 L18.9,12.5 M20.4,2.6 L19.6,4.8 L19.0,7.3 L18.5,9.9 L18.3,12.4 M19.9,4.9 L19.3,7.4 L18.9,9.9 L18.6,12.5" fill="none" stroke="#58d028" stroke-width="0.35" opacity="0.06"/><path d="M2.2,18.7 L4.4,18.3 L6.6,18.1 L8.6,17.9 L10.7,17.0 L12.9,16.1 M4.6,21.0 L6.8,20.9 L9.4,20.7 L11.8,19.3 L13.9,18.0 M-0.0,19.5 L2.2,19.3 L4.4,19.2 L6.7,19.0 L8.9,18.9 M0.0,20.2 L2.3,20.4 L4.5,20.4 L6.8,20.5 L9.2,20.2 L11.6,19.0 L13.7,17.6 M2.3,20.0 L4.5,20.0 L6.7,19.9 L9.1,19.8 L11.4,18.5 M2.1,17.9 L4.3,17.3 L6.5,16.9 L8.3,16.8 M0.1,20.6 L2.3,21.0 L4.6,21.4 L6.8,21.5 L9.5,21.3 M2.2,18.4 L4.4,17.8 L6.6,17.6 L8.5,17.5 L10.5,16.6 L12.8,15.8 M2.2,19.1 L4.4,18.9 L6.6,18.6 L8.8,18.5 L10.9,17.4 M2.2,19.6 L4.5,19.4 L6.7,19.3 L8.9,19.2 M4.3,17.6 L6.5,17.3 L8.4,17.2 L10.3,16.4 M0.0,20.3 L2.3,20.4 L4.5,20.5 L6.8,20.5 L9.3,20.3 L11.6,18.9 M4.5,20.6 L6.8,20.6 L9.3,20.5 L11.7,19.1 L13.8,17.7 M0.1,20.6 L2.3,20.9 L4.6,21.1 L6.8,21.3 L9.5,21.0 L11.9,19.6 L13.9,18.1 M4.5,19.6 L6.7,19.5 L9.0,19.3 L11.2,18.1 L13.4,17.0 M0.1,20.4 L2.3,20.6 L4.5,20.7 L6.8,20.8 L9.4,20.6 M0.0,20.2 L2.3,20.5 L4.5,20.7 L6.8,20.6 L9.3,20.4 L11.7,19.1 L13.8,17.7" fill="none" stroke="#58d028" stroke-width="0.35" opacity="0.06"/><path d="M-0.1,16.8 L1.9,17.4 L3.9,18.1 L6.0,18.6 L8.0,18.4 L10.0,18.1 M2.0,16.8 L4.0,17.3 L6.0,17.8 L8.0,17.6 L10.0,17.6 M-0.1,16.8 L1.9,17.4 L3.9,18.1 L5.9,18.7 L8.1,18.5 L10.0,18.2 M0.0,16.3 L2.1,16.7 L4.1,17.2 L6.0,17.6 L8.0,17.5 L10.0,17.4 M0.1,16.2 L2.1,16.5 L4.2,16.9 L6.1,17.3 L7.9,17.2" fill="none" stroke="#58d028" stroke-width="0.35" opacity="0.04"/><path d="M3.3,23.3 L5.5,23.7 L7.7,24.0 L9.9,24.3 L12.1,24.6 L14.1,24.8 L16.0,25.9 L18.0,26.9 L20.0,28.1 L22.0,29.1 L24.0,30.0 L25.2,31.3 M10.1,22.2 L12.3,22.3 L14.9,22.4 L17.2,23.6 L19.2,24.8 L21.2,25.9 M5.5,22.8 L7.8,23.1 L10.0,23.2 L12.2,23.5 L14.5,23.6 L16.6,24.8 L18.6,25.9 L20.6,26.9 L22.5,28.1 L24.6,29.3 M5.6,22.6 L7.8,22.6 L10.0,22.8 L12.3,22.9 L14.7,23.1 L16.8,24.3 L18.8,25.4 L20.8,26.6 M7.9,22.1 L10.1,22.1 L12.3,22.2 L14.9,22.4 L17.2,23.6 L19.2,24.8 M7.8,23.0 L10.0,23.3 L12.2,23.4 L14.5,23.6 L16.6,24.8 L18.6,25.8 L20.6,27.0 L22.6,28.1 L24.5,29.3 L25.8,30.9 M7.9,21.8 L10.1,21.8 L12.4,22.0 L15.0,22.1 L17.4,23.3 L19.3,24.5 L21.3,25.6 M3.3,22.5 L5.6,22.7 L7.8,22.8 L10.0,22.9 L12.2,23.1 L14.6,23.3 L16.8,24.4 L18.7,25.6 L20.8,26.6 L22.7,27.8 L24.8,29.0 L26.0,30.7 M7.9,22.0 L10.1,22.0 L12.3,22.1 L14.9,22.3 L17.3,23.5 L19.3,24.6 L21.2,25.8 M5.4,24.2 L7.6,24.6 L9.8,25.0 L12.0,25.4 L13.9,25.6 L15.6,26.6 L17.6,27.7 L19.6,28.7 L21.7,29.7 L23.6,30.4 L24.8,31.7 M3.3,23.4 L5.5,23.8 L7.7,24.2 L9.9,24.5 L12.1,24.9 L14.1,25.0 L15.9,26.0 L17.9,27.1 M5.5,22.8 L7.8,23.0 L10.0,23.2 L12.2,23.3 L14.5,23.5 L16.7,24.6 L18.7,25.7 L20.6,26.9 L22.6,28.0 M9.9,24.2 L12.1,24.5 L14.2,24.8 L16.0,25.8 L18.0,26.9 L20.0,28.0 L22.0,29.0 L24.0,30.0 M10.1,21.8 L12.4,21.8 L15.0,22.0 L17.4,23.2 L19.4,24.4 L21.4,25.5 L23.3,26.8 L25.4,28.3 M7.7,23.8 L9.9,24.2 L12.1,24.4 L14.2,24.7 L16.1,25.7 L18.1,26.8 L20.1,27.8 L22.2,28.8 L24.1,29.9 M9.8,25.0 L12.0,25.4 L13.9,25.6 L15.6,26.6 L17.6,27.7 L19.6,28.8 L21.7,29.7 L23.6,30.5" fill="none" stroke="#58d028" stroke-width="0.35" opacity="0.06"/><path d="M8.5,12.3 L9.1,13.0 L9.9,13.5 M8.4,12.4 L9.0,13.1 L9.7,13.7 M8.4,12.5 L9.0,13.1 L9.7,13.7" fill="none" stroke="#58d028" stroke-width="0.35" opacity="0.04"/><path d="M5.4,28.0 L5.5,30.1 L6.0,32.0 M5.6,28.0 L5.7,30.0 L6.2,32.0 M5.7,28.0 L5.9,30.0 L6.2,32.0" fill="none" stroke="#58d028" stroke-width="0.35" opacity="0.04"/><path d="M9.0,28.5 L9.4,30.5 L9.7,32.5 M8.6,28.5 L8.7,30.6 L9.3,32.6 M8.7,28.5 L9.1,30.5 L9.6,32.5 M8.6,28.5 L8.8,30.6 L9.5,32.5" fill="none" stroke="#58d028" stroke-width="0.35" opacity="0.04"/><path d="M14.2,17.3 L15.8,19.1 L17.4,20.7 L19.0,21.9 M16.1,18.6 L17.9,20.2 L19.4,21.3 M15.0,16.4 L17.2,17.4 L19.2,18.6 M14.5,17.0 L16.3,18.5 L18.0,20.0 M13.9,17.7 L15.1,19.9 L16.7,21.6 L18.3,22.7 M14.8,16.7 L16.8,17.9 L18.6,19.2 L20.1,20.6 M13.9,17.7 L15.2,19.8 L16.6,21.6 L18.4,22.6 M16.2,18.5 L18.0,20.0 L19.4,21.3 M16.6,18.1 L18.4,19.6 L19.8,20.8 M14.0,17.6 L15.2,19.7 L16.8,21.4 M15.2,19.7 L16.7,21.5 L18.4,22.5 M14.8,16.7 L16.8,17.9 L18.6,19.3 M15.9,18.9 L17.7,20.4 L19.2,21.6 M14.7,16.8 L16.7,18.0 L18.6,19.3 L19.9,20.7 M14.4,17.1 L16.1,18.7 L17.8,20.2" fill="none" stroke="#58d028" stroke-width="0.35" opacity="0.06"/><path d="M16.1,20.9 L18.1,22.1 L20.2,23.4 L22.2,24.7 L23.8,26.1 M16.3,20.5 L18.5,21.6 L20.7,22.7 L22.8,24.0 L24.4,25.5 M18.6,21.5 L20.7,22.6 L22.8,23.9 L24.5,25.3 L25.9,26.9 M18.6,21.4 L20.7,22.6 L22.8,23.8 L24.5,25.3 L26.0,26.8 M17.8,22.7 L19.7,24.1 L21.6,25.5 L23.3,26.7 L25.1,28.0 M17.4,23.3 L19.2,24.9 L21.1,26.2 L22.8,27.4 L24.7,28.5 M18.4,21.8 L20.5,23.0 L22.5,24.3 L24.2,25.7 L25.8,27.1 M17.6,23.0 L19.5,24.5 L21.4,25.9 L23.1,27.1 L24.8,28.3 M17.4,23.2 L19.2,24.8 L21.2,26.2 L22.9,27.3 M18.2,22.1 L20.2,23.4 L22.2,24.7 L23.9,26.0 L25.5,27.4" fill="none" stroke="#58d028" stroke-width="0.35" opacity="0.05"/></g><g filter="url(#b2)"><circle cx="14.5" cy="3" r="0.68" fill="#8cf040" opacity="0.63"/><circle cx="16" cy="5" r="0.60" fill="#8cf040" opacity="0.54"/><circle cx="17.5" cy="8" r="0.60" fill="#8cf040" opacity="0.50"/><circle cx="21" cy="6.5" r="0.52" fill="#8cf040" opacity="0.45"/><circle cx="21.5" cy="2" r="0.52" fill="#8cf040" opacity="0.45"/><circle cx="13" cy="15.5" r="0.60" fill="#8cf040" opacity="0.50"/><circle cx="2.2" cy="19.5" r="0.68" fill="#8cf040" opacity="0.59"/><circle cx="1.5" cy="22.5" r="0.60" fill="#8cf040" opacity="0.50"/><circle cx="4" cy="25" r="0.52" fill="#8cf040" opacity="0.36"/><circle cx="19" cy="18" r="0.98" fill="#8cf040" opacity="0.32"/><circle cx="13" cy="22" r="1.05" fill="#8cf040" opacity="0.32"/><circle cx="4.5" cy="30" r="0.45" fill="#8cf040" opacity="0.32"/><circle cx="22" cy="20" r="0.60" fill="#8cf040" opacity="0.27"/></g></g></g>
<g transform="translate(521.4,57.9)" clip-path="url(#cc)"><rect width="33.8" height="33.8" fill="#000"/><g><g filter="url(#b2)"><ellipse cx="15.3" cy="3.7" rx="1.34" ry="1.11" fill="#1a24f0" opacity="0.92"/><ellipse cx="21.4" cy="2" rx="1.15" ry="0.95" fill="#1a24f0" opacity="0.92"/><ellipse cx="21" cy="7.5" rx="1.54" ry="1.27" fill="#1a24f0" opacity="0.92"/><ellipse cx="20.4" cy="16.6" rx="1.92" ry="1.58" fill="#1a24f0" opacity="0.92"/><ellipse cx="12.4" cy="21.9" rx="1.82" ry="1.50" fill="#1a24f0" opacity="0.92"/><ellipse cx="2.5" cy="22.5" rx="1.25" ry="1.03" fill="#1a24f0" opacity="0.92"/><ellipse cx="0.5" cy="18.4" rx="1.06" ry="0.87" fill="#1a24f0" opacity="0.92"/><ellipse cx="13.6" cy="15.4" rx="0.77" ry="0.63" fill="#1a24f0" opacity="0.92"/><ellipse cx="6" cy="32.8" rx="0.96" ry="0.79" fill="#1a24f0" opacity="0.92"/><ellipse cx="17" cy="4.5" rx="0.86" ry="0.71" fill="#1a24f0" opacity="0.92"/></g></g></g>
<g transform="translate(557.1,57.9)" clip-path="url(#cc)"><rect width="33.8" height="33.8" fill="#000"/><g opacity="1.0" filter="url(#tex)"><g filter="url(#b1)"><path d="M11.0,0.5 L15.0,5.0 L17.8,10.0 L19.6,16.8 L22.7,21.2 L28.2,26.5" fill="none" stroke="#a00606" stroke-width="3.5" stroke-linecap="round" stroke-linejoin="round" opacity="0.36"/><path d="M21.6,0.6 L20.3,5.0 L19.2,10.0 L18.6,15.0" fill="none" stroke="#a00606" stroke-width="1.6" stroke-linecap="round" stroke-linejoin="round" opacity="0.29"/><path d="M0.0,19.6 L8.9,19.0 L15.5,15.7" fill="none" stroke="#a00606" stroke-width="4.2" stroke-linecap="round" stroke-linejoin="round" opacity="0.32"/><path d="M0.0,16.5 L6.0,18.0 L12.0,17.5" fill="none" stroke="#a00606" stroke-width="1.2" stroke-linecap="round" stroke-linejoin="round" opacity="0.18"/><path d="M3.3,22.9 L14.4,24.0 L24.4,29.5 L26.8,32.5" fill="none" stroke="#a00606" stroke-width="3.8" stroke-linecap="round" stroke-linejoin="round" opacity="0.30"/><path d="M8.4,12.4 L9.8,13.6" fill="none" stroke="#a00606" stroke-width="0.6" stroke-linecap="round" stroke-linejoin="round" opacity="0.21"/><path d="M5.6,28.0 L6.2,32.0" fill="none" stroke="#a00606" stroke-width="0.8" stroke-linecap="round" stroke-linejoin="round" opacity="0.21"/><path d="M8.8,28.5 L9.6,32.5" fill="none" stroke="#a00606" stroke-width="1.0" stroke-linecap="round" stroke-linejoin="round" opacity="0.21"/><path d="M14.5,17.0 L18.0,20.0 L21.0,22.5" fill="none" stroke="#a00606" stroke-width="3.6" stroke-linecap="round" stroke-linejoin="round" opacity="0.32"/><path d="M16.0,21.0 L22.0,25.0 L27.0,29.0" fill="none" stroke="#a00606" stroke-width="2.6" stroke-linecap="round" stroke-linejoin="round" opacity="0.25"/></g><path d="M10.8,0.6 L12.2,2.1 L13.5,3.7 L14.8,5.1 L16.1,7.6 L17.5,10.1 L18.0,12.4 L18.7,14.6 L19.2,17.0 L20.9,19.2 L22.5,21.4 L24.4,23.1 L26.2,24.9 M14.0,3.2 L15.4,4.7 L16.9,7.2 L18.3,9.8 L19.0,12.1 L19.6,14.4 L20.1,16.6 L21.6,18.7 M15.8,7.8 L17.2,10.3 L17.7,12.4 L18.3,14.7 L19.0,17.1 L20.6,19.4 L22.2,21.6 M11.3,0.3 L12.6,1.7 L14.1,3.2 L15.5,4.7 L17.0,7.2 L18.5,9.7 L19.1,12.1 L19.6,14.4 L20.2,16.5 L21.7,18.6 L23.1,20.9 L24.9,22.6 M15.0,5.0 L16.4,7.5 L17.8,10.0 L18.5,12.2 L19.1,14.5 L19.7,16.8 L21.2,19.0 M13.7,5.9 L14.8,8.4 L16.0,10.7 L16.5,12.8 L17.1,15.0 L17.9,17.6 L19.7,20.0 L21.5,22.3 L23.6,24.0 L25.5,25.6 M16.5,7.4 L18.0,9.9 L18.6,12.2 L19.3,14.5 L19.8,16.7 L21.3,18.9 M11.2,0.3 L12.7,1.7 L14.0,3.2 L15.5,4.7 L16.9,7.2 L18.4,9.7 L19.0,12.1 L19.6,14.4 L20.2,16.5 L21.7,18.6 M15.9,7.8 L17.2,10.3 L17.8,12.4 L18.3,14.7 L19.0,17.1 M12.8,1.6 L14.3,3.0 L15.8,4.5 L17.3,7.0 L18.8,9.6 L19.5,12.0 L20.1,14.3 L20.6,16.3 L22.0,18.4 L23.4,20.6 L25.1,22.3 M11.5,0.0 L13.0,1.4 L14.5,2.8 L16.0,4.3 L17.6,6.8 L19.2,9.4 L19.9,11.9 L20.5,14.1 L21.0,16.1 L22.3,18.2 L23.7,20.4 M14.5,5.4 L15.8,7.8 L17.1,10.3 L17.7,12.4 L18.3,14.7 L18.9,17.1 L20.6,19.4 M15.2,4.9 L16.6,7.4 L18.0,9.9 L18.7,12.2 L19.2,14.5 L19.8,16.7 L21.4,18.8 M13.9,3.3 L15.3,4.8 L16.7,7.3 L18.1,9.9 L18.8,12.2 L19.4,14.4 L20.0,16.6 L21.4,18.8" fill="none" stroke="#f01a1a" stroke-width="0.36" opacity="0.59"/><path d="M20.0,4.9 L19.3,7.4 L18.9,9.9 L18.6,12.5 M21.7,0.6 L21.0,2.8 L20.5,5.0 L19.9,7.5 L19.4,10.0 M21.4,2.9 L20.9,5.1 L20.4,7.6 L19.9,10.1 L19.4,12.6 M20.9,2.8 L20.3,5.0 L19.7,7.5 L19.1,10.0 L18.9,12.5 M20.4,2.6 L19.6,4.8 L19.0,7.3 L18.5,9.9 L18.3,12.4 M19.9,4.9 L19.3,7.4 L18.9,9.9 L18.6,12.5" fill="none" stroke="#f01a1a" stroke-width="0.36" opacity="0.48"/><path d="M2.2,18.7 L4.4,18.3 L6.6,18.1 L8.6,17.9 L10.7,17.0 L12.9,16.1 M4.6,21.0 L6.8,20.9 L9.4,20.7 L11.8,19.3 L13.9,18.0 M-0.0,19.5 L2.2,19.3 L4.4,19.2 L6.7,19.0 L8.9,18.9 M0.0,20.2 L2.3,20.4 L4.5,20.4 L6.8,20.5 L9.2,20.2 L11.6,19.0 L13.7,17.6 M2.3,20.0 L4.5,20.0 L6.7,19.9 L9.1,19.8 L11.4,18.5 M2.1,17.9 L4.3,17.3 L6.5,16.9 L8.3,16.8 M0.1,20.6 L2.3,21.0 L4.6,21.4 L6.8,21.5 L9.5,21.3 M2.2,18.4 L4.4,17.8 L6.6,17.6 L8.5,17.5 L10.5,16.6 L12.8,15.8 M2.2,19.1 L4.4,18.9 L6.6,18.6 L8.8,18.5 L10.9,17.4 M2.2,19.6 L4.5,19.4 L6.7,19.3 L8.9,19.2 M4.3,17.6 L6.5,17.3 L8.4,17.2 L10.3,16.4 M0.0,20.3 L2.3,20.4 L4.5,20.5 L6.8,20.5 L9.3,20.3 L11.6,18.9 M4.5,20.6 L6.8,20.6 L9.3,20.5 L11.7,19.1 L13.8,17.7 M0.1,20.6 L2.3,20.9 L4.6,21.1 L6.8,21.3 L9.5,21.0 L11.9,19.6 L13.9,18.1 M4.5,19.6 L6.7,19.5 L9.0,19.3 L11.2,18.1 L13.4,17.0 M0.1,20.4 L2.3,20.6 L4.5,20.7 L6.8,20.8 L9.4,20.6 M0.0,20.2 L2.3,20.5 L4.5,20.7 L6.8,20.6 L9.3,20.4 L11.7,19.1 L13.8,17.7" fill="none" stroke="#f01a1a" stroke-width="0.36" opacity="0.54"/><path d="M-0.1,16.8 L1.9,17.4 L3.9,18.1 L6.0,18.6 L8.0,18.4 L10.0,18.1 M2.0,16.8 L4.0,17.3 L6.0,17.8 L8.0,17.6 L10.0,17.6 M-0.1,16.8 L1.9,17.4 L3.9,18.1 L5.9,18.7 L8.1,18.5 L10.0,18.2 M0.0,16.3 L2.1,16.7 L4.1,17.2 L6.0,17.6 L8.0,17.5 L10.0,17.4 M0.1,16.2 L2.1,16.5 L4.2,16.9 L6.1,17.3 L7.9,17.2" fill="none" stroke="#f01a1a" stroke-width="0.36" opacity="0.30"/><path d="M3.3,23.3 L5.5,23.7 L7.7,24.0 L9.9,24.3 L12.1,24.6 L14.1,24.8 L16.0,25.9 L18.0,26.9 L20.0,28.1 L22.0,29.1 L24.0,30.0 L25.2,31.3 M10.1,22.2 L12.3,22.3 L14.9,22.4 L17.2,23.6 L19.2,24.8 L21.2,25.9 M5.5,22.8 L7.8,23.1 L10.0,23.2 L12.2,23.5 L14.5,23.6 L16.6,24.8 L18.6,25.9 L20.6,26.9 L22.5,28.1 L24.6,29.3 M5.6,22.6 L7.8,22.6 L10.0,22.8 L12.3,22.9 L14.7,23.1 L16.8,24.3 L18.8,25.4 L20.8,26.6 M7.9,22.1 L10.1,22.1 L12.3,22.2 L14.9,22.4 L17.2,23.6 L19.2,24.8 M7.8,23.0 L10.0,23.3 L12.2,23.4 L14.5,23.6 L16.6,24.8 L18.6,25.8 L20.6,27.0 L22.6,28.1 L24.5,29.3 L25.8,30.9 M7.9,21.8 L10.1,21.8 L12.4,22.0 L15.0,22.1 L17.4,23.3 L19.3,24.5 L21.3,25.6 M3.3,22.5 L5.6,22.7 L7.8,22.8 L10.0,22.9 L12.2,23.1 L14.6,23.3 L16.8,24.4 L18.7,25.6 L20.8,26.6 L22.7,27.8 L24.8,29.0 L26.0,30.7 M7.9,22.0 L10.1,22.0 L12.3,22.1 L14.9,22.3 L17.3,23.5 L19.3,24.6 L21.2,25.8 M5.4,24.2 L7.6,24.6 L9.8,25.0 L12.0,25.4 L13.9,25.6 L15.6,26.6 L17.6,27.7 L19.6,28.7 L21.7,29.7 L23.6,30.4 L24.8,31.7 M3.3,23.4 L5.5,23.8 L7.7,24.2 L9.9,24.5 L12.1,24.9 L14.1,25.0 L15.9,26.0 L17.9,27.1 M5.5,22.8 L7.8,23.0 L10.0,23.2 L12.2,23.3 L14.5,23.5 L16.7,24.6 L18.7,25.7 L20.6,26.9 L22.6,28.0 M9.9,24.2 L12.1,24.5 L14.2,24.8 L16.0,25.8 L18.0,26.9 L20.0,28.0 L22.0,29.0 L24.0,30.0 M10.1,21.8 L12.4,21.8 L15.0,22.0 L17.4,23.2 L19.4,24.4 L21.4,25.5 L23.3,26.8 L25.4,28.3 M7.7,23.8 L9.9,24.2 L12.1,24.4 L14.2,24.7 L16.1,25.7 L18.1,26.8 L20.1,27.8 L22.2,28.8 L24.1,29.9 M9.8,25.0 L12.0,25.4 L13.9,25.6 L15.6,26.6 L17.6,27.7 L19.6,28.8 L21.7,29.7 L23.6,30.5" fill="none" stroke="#f01a1a" stroke-width="0.36" opacity="0.51"/><path d="M8.5,12.3 L9.1,13.0 L9.9,13.5 M8.4,12.4 L9.0,13.1 L9.7,13.7 M8.4,12.5 L9.0,13.1 L9.7,13.7" fill="none" stroke="#f01a1a" stroke-width="0.36" opacity="0.36"/><path d="M5.4,28.0 L5.5,30.1 L6.0,32.0 M5.6,28.0 L5.7,30.0 L6.2,32.0 M5.7,28.0 L5.9,30.0 L6.2,32.0" fill="none" stroke="#f01a1a" stroke-width="0.36" opacity="0.36"/><path d="M9.0,28.5 L9.4,30.5 L9.7,32.5 M8.6,28.5 L8.7,30.6 L9.3,32.6 M8.7,28.5 L9.1,30.5 L9.6,32.5 M8.6,28.5 L8.8,30.6 L9.5,32.5" fill="none" stroke="#f01a1a" stroke-width="0.36" opacity="0.36"/><path d="M14.2,17.3 L15.8,19.1 L17.4,20.7 L19.0,21.9 M16.1,18.6 L17.9,20.2 L19.4,21.3 M15.0,16.4 L17.2,17.4 L19.2,18.6 M14.5,17.0 L16.3,18.5 L18.0,20.0 M13.9,17.7 L15.1,19.9 L16.7,21.6 L18.3,22.7 M14.8,16.7 L16.8,17.9 L18.6,19.2 L20.1,20.6 M13.9,17.7 L15.2,19.8 L16.6,21.6 L18.4,22.6 M16.2,18.5 L18.0,20.0 L19.4,21.3 M16.6,18.1 L18.4,19.6 L19.8,20.8 M14.0,17.6 L15.2,19.7 L16.8,21.4 M15.2,19.7 L16.7,21.5 L18.4,22.5 M14.8,16.7 L16.8,17.9 L18.6,19.3 M15.9,18.9 L17.7,20.4 L19.2,21.6 M14.7,16.8 L16.7,18.0 L18.6,19.3 L19.9,20.7 M14.4,17.1 L16.1,18.7 L17.8,20.2" fill="none" stroke="#f01a1a" stroke-width="0.36" opacity="0.54"/><path d="M16.1,20.9 L18.1,22.1 L20.2,23.4 L22.2,24.7 L23.8,26.1 M16.3,20.5 L18.5,21.6 L20.7,22.7 L22.8,24.0 L24.4,25.5 M18.6,21.5 L20.7,22.6 L22.8,23.9 L24.5,25.3 L25.9,26.9 M18.6,21.4 L20.7,22.6 L22.8,23.8 L24.5,25.3 L26.0,26.8 M17.8,22.7 L19.7,24.1 L21.6,25.5 L23.3,26.7 L25.1,28.0 M17.4,23.3 L19.2,24.9 L21.1,26.2 L22.8,27.4 L24.7,28.5 M18.4,21.8 L20.5,23.0 L22.5,24.3 L24.2,25.7 L25.8,27.1 M17.6,23.0 L19.5,24.5 L21.4,25.9 L23.1,27.1 L24.8,28.3 M17.4,23.2 L19.2,24.8 L21.2,26.2 L22.9,27.3 M18.2,22.1 L20.2,23.4 L22.2,24.7 L23.9,26.0 L25.5,27.4" fill="none" stroke="#f01a1a" stroke-width="0.36" opacity="0.42"/></g><g><g filter="url(#tex2)"><g filter="url(#b1)"><path d="M11.0,0.5 L15.0,5.0 L17.8,10.0 L19.6,16.8 L22.7,21.2 L28.2,26.5" fill="none" stroke="#48b020" stroke-width="4.2" stroke-linecap="round" stroke-linejoin="round" opacity="0.08"/><path d="M21.6,0.6 L20.3,5.0 L19.2,10.0 L18.6,15.0" fill="none" stroke="#48b020" stroke-width="1.9" stroke-linecap="round" stroke-linejoin="round" opacity="0.06"/><path d="M0.0,19.6 L8.9,19.0 L15.5,15.7" fill="none" stroke="#48b020" stroke-width="4.9" stroke-linecap="round" stroke-linejoin="round" opacity="0.07"/><path d="M0.0,16.5 L6.0,18.0 L12.0,17.5" fill="none" stroke="#48b020" stroke-width="1.4" stroke-linecap="round" stroke-linejoin="round" opacity="0.04"/><path d="M3.3,22.9 L14.4,24.0 L24.4,29.5 L26.8,32.5" fill="none" stroke="#48b020" stroke-width="4.6" stroke-linecap="round" stroke-linejoin="round" opacity="0.07"/><path d="M8.4,12.4 L9.8,13.6" fill="none" stroke="#48b020" stroke-width="0.7" stroke-linecap="round" stroke-linejoin="round" opacity="0.05"/><path d="M5.6,28.0 L6.2,32.0" fill="none" stroke="#48b020" stroke-width="0.9" stroke-linecap="round" stroke-linejoin="round" opacity="0.05"/><path d="M8.8,28.5 L9.6,32.5" fill="none" stroke="#48b020" stroke-width="1.1" stroke-linecap="round" stroke-linejoin="round" opacity="0.05"/><path d="M14.5,17.0 L18.0,20.0 L21.0,22.5" fill="none" stroke="#48b020" stroke-width="4.3" stroke-linecap="round" stroke-linejoin="round" opacity="0.07"/><path d="M16.0,21.0 L22.0,25.0 L27.0,29.0" fill="none" stroke="#48b020" stroke-width="3.0" stroke-linecap="round" stroke-linejoin="round" opacity="0.05"/></g></g><g filter="url(#b2)"><circle cx="14.5" cy="3" r="0.68" fill="#b0f040" opacity="0.56"/><circle cx="16" cy="5" r="0.60" fill="#b0f040" opacity="0.48"/><circle cx="17.5" cy="8" r="0.60" fill="#b0f040" opacity="0.44"/><circle cx="21" cy="6.5" r="0.52" fill="#b0f040" opacity="0.40"/><circle cx="21.5" cy="2" r="0.52" fill="#b0f040" opacity="0.40"/><circle cx="13" cy="15.5" r="0.60" fill="#b0f040" opacity="0.44"/><circle cx="2.2" cy="19.5" r="0.68" fill="#b0f040" opacity="0.52"/><circle cx="1.5" cy="22.5" r="0.60" fill="#b0f040" opacity="0.44"/><circle cx="4" cy="25" r="0.52" fill="#b0f040" opacity="0.32"/><circle cx="19" cy="18" r="0.98" fill="#b0f040" opacity="0.28"/><circle cx="13" cy="22" r="1.05" fill="#b0f040" opacity="0.28"/><circle cx="4.5" cy="30" r="0.45" fill="#b0f040" opacity="0.28"/><circle cx="22" cy="20" r="0.60" fill="#b0f040" opacity="0.24"/></g></g><g><g filter="url(#b2)"><ellipse cx="15.3" cy="3.7" rx="1.34" ry="1.11" fill="#5a3cf0" opacity="0.92"/><ellipse cx="21.4" cy="2" rx="1.15" ry="0.95" fill="#5a3cf0" opacity="0.92"/><ellipse cx="21" cy="7.5" rx="1.54" ry="1.27" fill="#5a3cf0" opacity="0.92"/><ellipse cx="20.4" cy="16.6" rx="1.92" ry="1.58" fill="#5a3cf0" opacity="0.92"/><ellipse cx="12.4" cy="21.9" rx="1.82" ry="1.50" fill="#5a3cf0" opacity="0.92"/><ellipse cx="2.5" cy="22.5" rx="1.25" ry="1.03" fill="#5a3cf0" opacity="0.92"/><ellipse cx="0.5" cy="18.4" rx="1.06" ry="0.87" fill="#5a3cf0" opacity="0.92"/><ellipse cx="13.6" cy="15.4" rx="0.77" ry="0.63" fill="#5a3cf0" opacity="0.92"/><ellipse cx="6" cy="32.8" rx="0.96" ry="0.79" fill="#5a3cf0" opacity="0.92"/><ellipse cx="17" cy="4.5" rx="0.86" ry="0.71" fill="#5a3cf0" opacity="0.92"/></g></g><rect x="24.9" y="30.8" width="8.0" height="1.8" fill="#fff"/></g>
<g transform="translate(450.1,93.5)" clip-path="url(#cc)"><rect width="33.8" height="33.8" fill="#000"/><g opacity="1.0" filter="url(#tex)"><g filter="url(#b1)"><path d="M0.0,8.0 L8.0,10.0 L16.0,12.5 L22.0,14.0" fill="none" stroke="#a00606" stroke-width="2.8" stroke-linecap="round" stroke-linejoin="round" opacity="0.36"/><path d="M0.0,13.5 L10.0,14.0 L20.0,15.0" fill="none" stroke="#a00606" stroke-width="3.2" stroke-linecap="round" stroke-linejoin="round" opacity="0.36"/><path d="M0.0,19.5 L10.0,17.5 L21.0,16.0" fill="none" stroke="#a00606" stroke-width="3.2" stroke-linecap="round" stroke-linejoin="round" opacity="0.36"/><path d="M2.0,26.0 L10.0,21.5 L20.0,17.5" fill="none" stroke="#a00606" stroke-width="2.8" stroke-linecap="round" stroke-linejoin="round" opacity="0.34"/><path d="M9.0,31.0 L15.0,24.0 L21.0,18.0" fill="none" stroke="#a00606" stroke-width="2.4" stroke-linecap="round" stroke-linejoin="round" opacity="0.30"/><path d="M17.0,33.5 L19.0,26.0 L22.0,18.0" fill="none" stroke="#a00606" stroke-width="2.1" stroke-linecap="round" stroke-linejoin="round" opacity="0.28"/><path d="M22.0,14.5 L28.0,11.5 L34.0,10.5" fill="none" stroke="#a00606" stroke-width="2.4" stroke-linecap="round" stroke-linejoin="round" opacity="0.30"/><path d="M22.0,15.5 L28.0,16.0 L34.0,17.0" fill="none" stroke="#a00606" stroke-width="3.2" stroke-linecap="round" stroke-linejoin="round" opacity="0.32"/><path d="M22.0,17.0 L28.0,21.0 L34.0,25.0" fill="none" stroke="#a00606" stroke-width="2.8" stroke-linecap="round" stroke-linejoin="round" opacity="0.30"/><path d="M17.8,3.0 L17.5,8.0 L18.5,12.0" fill="none" stroke="#a00606" stroke-width="0.6" stroke-linecap="round" stroke-linejoin="round" opacity="0.26"/><path d="M15.0,13.0 L20.0,12.0 L25.0,13.5 L26.0,17.0 L21.0,19.0 L16.0,17.0" fill="none" stroke="#a00606" stroke-width="4.0" stroke-linecap="round" stroke-linejoin="round" opacity="0.38"/><path d="M32.0,25.0 L33.5,29.0" fill="none" stroke="#a00606" stroke-width="1.0" stroke-linecap="round" stroke-linejoin="round" opacity="0.23"/></g><path d="M4.2,8.1 L6.3,8.5 L8.3,8.9 L10.4,9.5 L12.4,10.1 L14.4,10.7 M4.0,9.1 L6.0,9.6 L8.0,10.1 L10.0,10.7 L12.0,11.3 L14.0,12.0 L16.0,12.6 L18.0,13.1 M2.0,8.4 L4.0,8.8 L6.0,9.3 L8.0,9.8 L10.1,10.5 L12.1,11.0 L14.1,11.6 L16.1,12.3 M1.9,8.9 L3.9,9.5 L5.9,10.1 L7.8,10.6 L9.8,11.2 L11.8,11.9 L13.8,12.5 L15.8,13.0 L17.9,13.5 L19.9,13.9 M5.9,10.0 L7.8,10.5 L9.8,11.2 L11.8,11.8 L13.8,12.4 L15.8,13.0 L17.9,13.4 L19.9,13.8 M3.8,9.6 L5.8,10.2 L7.8,10.8 L9.7,11.4 L11.8,12.0 L13.7,12.7 L15.8,13.3 L17.9,13.6 L19.9,13.9 M5.7,10.5 L7.7,11.2 L9.6,11.9 L11.6,12.4 L13.6,13.0 L15.7,13.6 M2.1,7.9 L4.2,8.3 L6.2,8.6 L8.3,9.1 L10.3,9.7 L12.3,10.3 L14.3,10.9 M2.0,8.3 L4.1,8.8 L6.1,9.2 L8.1,9.7 L10.1,10.4 L12.1,10.9 L14.1,11.6 L16.1,12.3 L18.0,12.8 M6.0,9.4 L8.0,9.8 L10.1,10.5 L12.0,11.2 L14.0,11.7 L16.0,12.4 L18.0,13.0 M1.8,9.3 L3.7,10.0 L5.7,10.7 L7.6,11.4 L9.5,12.1 L11.6,12.7 L13.6,13.3" fill="none" stroke="#f01a1a" stroke-width="0.36" opacity="0.60"/><path d="M2.0,13.9 L4.0,14.2 L6.0,14.3 L8.0,14.5 L10.0,14.5 L12.0,14.7 L13.9,14.9 L16.0,15.0 L18.0,15.1 M2.0,13.9 L4.0,14.0 L6.0,14.1 L8.0,14.3 L10.0,14.4 L12.0,14.6 L14.0,14.7 L16.0,14.9 L18.0,15.1 M2.0,13.1 L4.0,13.1 L6.0,13.0 L8.0,13.1 L10.1,13.2 L12.1,13.4 L14.1,13.6 L16.1,13.9 L18.1,14.3 M2.0,13.9 L4.0,14.0 L6.0,14.2 L8.0,14.3 L10.0,14.4 L12.0,14.5 L14.0,14.8 M4.1,12.4 L6.1,12.3 L8.1,12.3 L10.1,12.4 L12.1,12.7 L14.1,13.0 L16.1,13.4 M2.0,12.7 L4.1,12.6 L6.1,12.5 L8.1,12.5 L10.1,12.5 L12.1,12.7 L14.1,13.1 L16.1,13.5 M4.0,13.6 L6.0,13.8 L8.0,13.9 L10.0,13.9 L12.0,14.1 M3.9,15.2 L5.9,15.6 L7.9,15.8 L9.9,16.0 L11.8,16.2 L13.8,16.1 L15.8,16.1 L17.9,16.0 M4.0,13.3 L6.0,13.3 L8.0,13.5 L10.0,13.5 L12.0,13.8 L14.0,14.0 L16.0,14.3 L18.0,14.5 M-0.0,13.8 L2.0,14.0 L4.0,14.2 L6.0,14.2 L8.0,14.4 L10.0,14.6 L12.0,14.7 M0.0,12.7 L2.1,12.5 L4.1,12.3 L6.1,12.1 L8.1,12.1 L10.1,12.2 L12.2,12.3 L14.2,12.8 M-0.0,13.9 L2.0,14.1 L4.0,14.4 L6.0,14.5 L8.0,14.8 L9.9,14.9 L11.9,15.0 L13.9,15.1 L15.9,15.3 M0.0,13.2 L2.0,13.1 L4.0,13.2 L6.0,13.2 L8.0,13.2 L10.1,13.3 L12.1,13.6 L14.1,13.9" fill="none" stroke="#f01a1a" stroke-width="0.36" opacity="0.60"/><path d="M2.1,19.7 L4.1,19.4 L6.2,19.1 L8.2,18.8 L10.1,18.4 L12.3,18.1 L14.5,17.8 M3.9,18.1 L5.9,17.7 L7.9,17.2 L9.9,16.8 L12.1,16.6 L14.3,16.2 M2.0,19.1 L4.0,18.7 L6.0,18.3 L8.0,17.9 L10.0,17.5 L12.2,17.2 L14.4,16.9 L16.6,16.6 L18.8,16.3 M0.1,20.2 L2.2,20.0 L4.2,19.9 L6.3,19.6 L8.3,19.4 L10.3,19.0 L12.4,18.8 L14.6,18.3 M6.2,19.1 L8.2,18.8 L10.2,18.4 L12.3,18.1 L14.5,17.7 M2.2,19.9 L4.2,19.7 L6.2,19.5 L8.3,19.2 L10.2,18.8 L12.4,18.5 L14.6,18.1 L16.7,17.7 L18.9,17.1 M3.9,18.0 L5.8,17.4 L7.8,16.9 L9.8,16.4 L12.1,16.2 L14.3,16.0 M4.1,19.0 L6.1,18.6 L8.1,18.2 L10.1,17.9 L12.2,17.5 L14.4,17.2 L16.6,16.9 M-0.1,19.0 L1.8,18.3 L3.8,17.8 L5.8,17.2 L7.8,16.7 L9.8,16.3 L12.0,16.1 L14.3,15.9 L16.5,15.6 M2.1,19.7 L4.1,19.4 L6.2,19.1 L8.2,18.8 L10.2,18.4 L12.3,18.2 L14.5,17.8 L16.7,17.4 L18.9,16.9 M4.0,18.6 L6.0,18.3 L8.0,17.9 L10.0,17.4 L12.2,17.2 L14.4,16.9 M2.2,20.0 L4.2,19.9 L6.3,19.6 L8.3,19.3 L10.2,19.0 L12.4,18.6 L14.6,18.1 L16.8,17.8 L18.9,17.2 M1.9,18.7 L3.9,18.2 L5.9,17.8 L7.9,17.3 L9.9,16.9 L12.1,16.6 L14.3,16.3 L16.5,16.1 L18.7,15.9" fill="none" stroke="#f01a1a" stroke-width="0.36" opacity="0.60"/><path d="M8.5,23.6 L10.5,22.6 L12.5,21.9 L14.4,21.0 L16.4,20.0 M1.9,25.9 L3.9,24.7 L5.9,23.6 L7.9,22.5 L9.9,21.3 L11.9,20.6 L13.9,19.7 L15.9,19.0 L18.0,18.2 M2.2,26.4 L4.3,25.4 L6.4,24.4 L8.4,23.4 L10.4,22.4 L12.4,21.6 L14.3,20.7 L16.3,19.8 M2.0,26.0 L4.0,24.8 L6.0,23.8 L8.0,22.6 L10.0,21.4 L12.0,20.7 L14.0,19.8 L16.0,19.1 L18.0,18.2 M5.4,22.6 L7.3,21.3 L9.3,20.0 L11.4,19.1 L13.4,18.5 L15.5,17.9 M6.5,24.7 L8.6,23.7 L10.5,22.6 L12.5,21.8 L14.4,20.9 L16.4,20.1 M3.7,24.3 L5.6,23.1 L7.6,21.8 L9.5,20.6 L11.6,19.8 L13.6,19.0 L15.7,18.3 M6.4,24.4 L8.4,23.4 L10.3,22.2 L12.3,21.5 L14.3,20.6 L16.2,19.7 M4.5,25.8 L6.7,24.9 L8.8,24.0 L10.8,23.1 L12.6,22.2 L14.6,21.3 L16.5,20.4 M4.1,25.0 L6.1,23.9 L8.1,22.9 L10.1,21.8 L12.1,21.0 L14.1,20.1 L16.1,19.3 L18.1,18.4 M7.8,22.3 L9.8,21.1 L11.9,20.3 L13.9,19.6 L15.9,18.8 L17.9,18.1" fill="none" stroke="#f01a1a" stroke-width="0.36" opacity="0.57"/><path d="M11.8,27.3 L13.3,25.6 L14.9,23.9 L16.4,22.4 L17.9,20.9 L19.4,19.4 M10.0,28.9 L11.4,27.0 L12.8,25.2 L14.4,23.4 L15.9,21.9 L17.5,20.5 L19.0,19.0 M10.9,29.6 L12.5,27.9 L14.1,26.2 L15.6,24.6 L17.0,23.0 M9.9,28.7 L11.2,26.8 L12.6,25.0 L14.1,23.1 L15.7,21.7 L17.3,20.3 L19.0,19.0 M10.3,29.1 L11.8,27.3 L13.2,25.5 L14.7,23.8 L16.3,22.3 L17.8,20.8 L19.3,19.3 M8.7,30.7 L10.0,28.8 L11.4,26.9 L12.8,25.1 L14.3,23.3 L15.8,21.8 L17.4,20.4 M10.3,29.0 L11.7,27.3 L13.1,25.4 L14.6,23.7 L16.2,22.2 L17.7,20.7 M12.7,28.1 L14.2,26.4 L15.7,24.7 L17.2,23.2 M12.5,28.0 L14.2,26.3 L15.6,24.6 L17.1,23.1 L18.5,21.5 L19.9,19.9 M9.8,28.6 L11.1,26.7 L12.5,24.9 L13.9,23.0 L15.5,21.5 L17.1,20.1 L18.8,18.8" fill="none" stroke="#f01a1a" stroke-width="0.36" opacity="0.50"/><path d="M16.6,33.4 L17.0,30.8 L17.5,28.3 L18.0,25.7 L18.9,23.7 L19.6,21.7 M18.3,31.2 L19.1,28.7 L20.0,26.3 L20.6,24.3 L21.3,22.3 L21.8,20.2 M17.8,31.0 L18.5,28.5 L19.1,26.0 L19.9,24.1 L20.6,22.0 M16.8,30.8 L17.3,28.2 L17.8,25.6 L18.6,23.6 L19.4,21.6 M18.4,31.2 L19.3,28.8 L20.0,26.3 L20.8,24.4 L21.4,22.4 M18.3,31.2 L19.1,28.7 L19.8,26.3 L20.6,24.3 L21.2,22.3 L21.9,20.2 M18.1,31.1 L18.9,28.6 L19.6,26.2 L20.3,24.2 L21.1,22.2 L21.7,20.2 M16.6,33.4 L17.2,30.9 L17.7,28.3 L18.3,25.8 L19.1,23.7 L20.0,21.8 L20.8,19.8" fill="none" stroke="#f01a1a" stroke-width="0.36" opacity="0.47"/><path d="M22.0,14.5 L24.0,13.5 L26.0,12.5 L28.0,11.5 M21.7,14.0 L23.6,12.7 L25.5,11.4 L27.6,10.2 L29.8,10.0 M22.1,14.8 L24.2,13.9 L26.3,13.0 L28.2,12.2 M24.2,14.0 L26.3,13.1 L28.2,12.2 L30.1,11.9 L32.1,11.4 M24.4,14.3 L26.5,13.4 L28.4,12.6 L30.2,12.2 L32.1,11.7 M21.7,14.0 L23.6,12.7 L25.5,11.5 L27.6,10.3 L29.8,10.1 M24.0,13.6 L26.1,12.6 L28.0,11.6 M21.8,14.1 L23.6,12.8 L25.5,11.6 L27.6,10.3 L29.8,10.1 L31.9,10.0 M22.2,15.0 L24.4,14.3 L26.5,13.5 L28.4,12.7 L30.2,12.4 M24.4,14.3 L26.5,13.6 L28.4,12.8 L30.2,12.4" fill="none" stroke="#f01a1a" stroke-width="0.36" opacity="0.50"/><path d="M22.0,16.1 L23.9,16.7 L25.9,17.1 L27.8,17.3 L29.8,17.6 L31.8,17.6 M21.9,16.2 L23.9,16.7 L25.9,17.3 L27.8,17.6 L29.8,17.7 M24.0,15.3 L26.0,15.4 L28.0,15.6 L30.1,15.9 L32.0,16.4 M22.1,14.8 L24.1,14.5 L26.1,14.4 L28.2,14.4 L30.2,14.9 L32.2,15.6 M22.0,15.3 L24.0,15.3 L26.0,15.3 L28.1,15.5 L30.1,15.9 L32.1,16.4 M22.0,15.6 L24.0,15.8 L26.0,16.0 L28.0,16.2 L30.0,16.5 M22.0,15.7 L24.0,15.9 L26.0,16.3 L27.9,16.4 L29.9,16.7 M24.0,16.0 L26.0,16.2 L27.9,16.4 L29.9,16.7 L31.9,17.0 M21.9,16.4 L23.9,17.0 L25.9,17.5 L27.8,17.8 L29.7,18.1 M22.0,15.7 L24.0,15.9 L26.0,16.1 L27.9,16.4 L30.0,16.6 M22.0,15.7 L24.0,15.9 L26.0,16.1 L28.0,16.3 L29.9,16.7 M22.0,15.9 L23.9,16.4 L25.9,16.7 L27.9,16.9 L29.9,17.1 L31.9,17.3 M22.1,14.7 L24.1,14.4 L26.1,14.2 L28.2,14.2 L30.3,14.7" fill="none" stroke="#f01a1a" stroke-width="0.36" opacity="0.54"/><path d="M21.8,17.3 L23.7,18.8 L25.6,20.2 L27.6,21.6 M21.7,17.4 L23.6,19.0 L25.5,20.4 L27.4,21.9 L29.4,23.2 M21.7,17.5 L23.4,19.2 L25.3,20.8 L27.3,22.1 L29.3,23.4 M24.1,18.1 L26.1,19.4 L28.2,20.7 L30.1,22.1 L32.1,23.5 M23.9,18.4 L25.9,19.8 L27.9,21.1 L29.9,22.5 M23.3,19.3 L25.1,21.0 L27.0,22.4 L29.1,23.6 L31.3,24.7 M24.6,17.5 L26.7,18.5 L28.8,19.9 L30.7,21.3 L32.5,22.9 M21.9,17.1 L23.9,18.4 L25.9,19.9 L27.9,21.2 L29.9,22.5 M23.5,19.1 L25.3,20.7 L27.3,22.0 L29.4,23.3 M22.2,16.7 L24.3,17.8 L26.4,19.0 L28.4,20.3 L30.4,21.7 L32.3,23.2 M21.9,17.2 L23.8,18.6 L25.8,20.0 L27.7,21.4 L29.8,22.6 L31.8,23.9" fill="none" stroke="#f01a1a" stroke-width="0.36" opacity="0.50"/><path d="M17.9,3.0 L17.8,5.5 L17.7,8.0 L18.2,10.0 M17.8,5.5 L17.6,8.0 L18.1,10.0 M17.9,5.5 L17.8,8.0 L18.3,9.9" fill="none" stroke="#f01a1a" stroke-width="0.36" opacity="0.44"/><path d="M15.0,13.2 L17.5,12.7 L20.0,12.2 L22.4,13.0 L24.8,13.7 L25.2,15.3 L25.7,16.8 M15.2,14.0 L17.8,14.0 L19.9,13.9 L21.9,14.8 L23.5,15.3 L23.2,15.9 L24.1,15.6 L22.7,16.0 L21.0,17.1 L19.1,16.6 M20.0,12.2 L22.4,13.0 L24.9,13.6 L25.3,15.3 L25.9,16.9 L23.4,17.9 L21.0,18.8 L18.5,17.9 M15.2,14.0 L17.8,13.8 L19.9,13.7 L21.9,14.7 L23.6,15.2 L23.4,15.9 L24.3,15.7 L22.8,16.2 L21.0,17.3 M20.1,10.5 L23.0,11.1 L26.2,12.1 L27.3,14.7 L27.5,18.1 L24.1,19.6 L21.0,20.5 M19.9,13.4 L22.0,14.3 L23.8,14.9 L23.7,15.8 L24.5,15.9 L22.9,16.4 L21.0,17.6 M17.6,13.1 L20.0,12.8 L22.3,13.6 L24.4,14.2 L24.6,15.5 L25.3,16.5 L23.2,17.2 M19.9,13.8 L21.9,14.7 L23.6,15.2 L23.2,15.9 L24.2,15.7 M19.9,13.8 L21.9,14.8 L23.5,15.3 L23.2,15.9 L24.1,15.6 L22.7,16.0 M14.8,12.1 L17.3,11.3 L20.1,10.5 L23.0,11.0 L26.2,12.1 L27.4,14.7 L27.6,18.1 L24.1,19.6 L21.0,20.5 L18.1,19.1 M20.0,12.3 L22.4,13.0 L24.8,13.7 L25.1,15.4 L25.7,16.8 L23.4,17.7 M20.0,12.5 L22.3,13.4 L24.6,14.0 L24.8,15.4 L25.5,16.6 L23.3,17.5 L21.0,18.4 M20.1,10.2 L23.1,10.8 L26.5,11.7 L27.8,14.6 L27.9,18.4 L24.3,20.0 L21.0,20.9 L17.9,19.4 M15.1,13.6 L17.7,13.4 L19.9,13.1 L22.1,14.1 L24.0,14.7 L24.1,15.7 L24.8,16.1 L23.0,16.8 L21.0,17.8 M15.0,13.2 L17.6,12.8 L20.0,12.4 L22.4,13.2 L24.8,13.8 L25.1,15.4 L25.6,16.7 L23.4,17.7 L21.0,18.7 M19.9,13.1 L22.1,14.0 L24.2,14.5 L24.2,15.6 L24.9,16.2 L23.1,16.9 M22.2,13.7 L24.3,14.3 L24.4,15.6 L25.2,16.4 L23.2,17.1 L21.0,18.1 L18.7,17.4" fill="none" stroke="#f01a1a" stroke-width="0.36" opacity="0.63"/><path d="M32.1,25.0 L33.1,26.9 L33.6,28.9 M31.8,25.1 L32.3,27.2 L33.3,29.1 M31.9,25.0 L32.7,27.0 L33.4,29.0 M31.9,25.0 L32.4,27.1 L33.3,29.1" fill="none" stroke="#f01a1a" stroke-width="0.36" opacity="0.38"/></g></g>
<g transform="translate(485.7,93.5)" clip-path="url(#cc)"><rect width="33.8" height="33.8" fill="#000"/><g><g filter="url(#tex2)"><g filter="url(#b1)"><path d="M0.0,8.0 L8.0,10.0 L16.0,12.5 L22.0,14.0" fill="none" stroke="#48b020" stroke-width="3.3" stroke-linecap="round" stroke-linejoin="round" opacity="0.26"/><path d="M0.0,13.5 L10.0,14.0 L20.0,15.0" fill="none" stroke="#48b020" stroke-width="3.8" stroke-linecap="round" stroke-linejoin="round" opacity="0.26"/><path d="M0.0,19.5 L10.0,17.5 L21.0,16.0" fill="none" stroke="#48b020" stroke-width="3.8" stroke-linecap="round" stroke-linejoin="round" opacity="0.26"/><path d="M2.0,26.0 L10.0,21.5 L20.0,17.5" fill="none" stroke="#48b020" stroke-width="3.3" stroke-linecap="round" stroke-linejoin="round" opacity="0.24"/><path d="M9.0,31.0 L15.0,24.0 L21.0,18.0" fill="none" stroke="#48b020" stroke-width="2.8" stroke-linecap="round" stroke-linejoin="round" opacity="0.22"/><path d="M17.0,33.5 L19.0,26.0 L22.0,18.0" fill="none" stroke="#48b020" stroke-width="2.5" stroke-linecap="round" stroke-linejoin="round" opacity="0.20"/><path d="M22.0,14.5 L28.0,11.5 L34.0,10.5" fill="none" stroke="#48b020" stroke-width="2.8" stroke-linecap="round" stroke-linejoin="round" opacity="0.22"/><path d="M22.0,15.5 L28.0,16.0 L34.0,17.0" fill="none" stroke="#48b020" stroke-width="3.8" stroke-linecap="round" stroke-linejoin="round" opacity="0.23"/><path d="M22.0,17.0 L28.0,21.0 L34.0,25.0" fill="none" stroke="#48b020" stroke-width="3.3" stroke-linecap="round" stroke-linejoin="round" opacity="0.22"/><path d="M17.8,3.0 L17.5,8.0 L18.5,12.0" fill="none" stroke="#48b020" stroke-width="0.8" stroke-linecap="round" stroke-linejoin="round" opacity="0.19"/><path d="M15.0,13.0 L20.0,12.0 L25.0,13.5 L26.0,17.0 L21.0,19.0 L16.0,17.0" fill="none" stroke="#48b020" stroke-width="4.8" stroke-linecap="round" stroke-linejoin="round" opacity="0.27"/><path d="M32.0,25.0 L33.5,29.0" fill="none" stroke="#48b020" stroke-width="1.1" stroke-linecap="round" stroke-linejoin="round" opacity="0.16"/></g><path d="M4.2,8.1 L6.3,8.5 L8.3,8.9 L10.4,9.5 L12.4,10.1 L14.4,10.7 M4.0,9.1 L6.0,9.6 L8.0,10.1 L10.0,10.7 L12.0,11.3 L14.0,12.0 L16.0,12.6 L18.0,13.1 M2.0,8.4 L4.0,8.8 L6.0,9.3 L8.0,9.8 L10.1,10.5 L12.1,11.0 L14.1,11.6 L16.1,12.3 M1.9,8.9 L3.9,9.5 L5.9,10.1 L7.8,10.6 L9.8,11.2 L11.8,11.9 L13.8,12.5 L15.8,13.0 L17.9,13.5 L19.9,13.9 M5.9,10.0 L7.8,10.5 L9.8,11.2 L11.8,11.8 L13.8,12.4 L15.8,13.0 L17.9,13.4 L19.9,13.8 M3.8,9.6 L5.8,10.2 L7.8,10.8 L9.7,11.4 L11.8,12.0 L13.7,12.7 L15.8,13.3 L17.9,13.6 L19.9,13.9 M5.7,10.5 L7.7,11.2 L9.6,11.9 L11.6,12.4 L13.6,13.0 L15.7,13.6 M2.1,7.9 L4.2,8.3 L6.2,8.6 L8.3,9.1 L10.3,9.7 L12.3,10.3 L14.3,10.9 M2.0,8.3 L4.1,8.8 L6.1,9.2 L8.1,9.7 L10.1,10.4 L12.1,10.9 L14.1,11.6 L16.1,12.3 L18.0,12.8 M6.0,9.4 L8.0,9.8 L10.1,10.5 L12.0,11.2 L14.0,11.7 L16.0,12.4 L18.0,13.0 M1.8,9.3 L3.7,10.0 L5.7,10.7 L7.6,11.4 L9.5,12.1 L11.6,12.7 L13.6,13.3" fill="none" stroke="#58d028" stroke-width="0.35" opacity="0.14"/><path d="M2.0,13.9 L4.0,14.2 L6.0,14.3 L8.0,14.5 L10.0,14.5 L12.0,14.7 L13.9,14.9 L16.0,15.0 L18.0,15.1 M2.0,13.9 L4.0,14.0 L6.0,14.1 L8.0,14.3 L10.0,14.4 L12.0,14.6 L14.0,14.7 L16.0,14.9 L18.0,15.1 M2.0,13.1 L4.0,13.1 L6.0,13.0 L8.0,13.1 L10.1,13.2 L12.1,13.4 L14.1,13.6 L16.1,13.9 L18.1,14.3 M2.0,13.9 L4.0,14.0 L6.0,14.2 L8.0,14.3 L10.0,14.4 L12.0,14.5 L14.0,14.8 M4.1,12.4 L6.1,12.3 L8.1,12.3 L10.1,12.4 L12.1,12.7 L14.1,13.0 L16.1,13.4 M2.0,12.7 L4.1,12.6 L6.1,12.5 L8.1,12.5 L10.1,12.5 L12.1,12.7 L14.1,13.1 L16.1,13.5 M4.0,13.6 L6.0,13.8 L8.0,13.9 L10.0,13.9 L12.0,14.1 M3.9,15.2 L5.9,15.6 L7.9,15.8 L9.9,16.0 L11.8,16.2 L13.8,16.1 L15.8,16.1 L17.9,16.0 M4.0,13.3 L6.0,13.3 L8.0,13.5 L10.0,13.5 L12.0,13.8 L14.0,14.0 L16.0,14.3 L18.0,14.5 M-0.0,13.8 L2.0,14.0 L4.0,14.2 L6.0,14.2 L8.0,14.4 L10.0,14.6 L12.0,14.7 M0.0,12.7 L2.1,12.5 L4.1,12.3 L6.1,12.1 L8.1,12.1 L10.1,12.2 L12.2,12.3 L14.2,12.8 M-0.0,13.9 L2.0,14.1 L4.0,14.4 L6.0,14.5 L8.0,14.8 L9.9,14.9 L11.9,15.0 L13.9,15.1 L15.9,15.3 M0.0,13.2 L2.0,13.1 L4.0,13.2 L6.0,13.2 L8.0,13.2 L10.1,13.3 L12.1,13.6 L14.1,13.9" fill="none" stroke="#58d028" stroke-width="0.35" opacity="0.14"/><path d="M2.1,19.7 L4.1,19.4 L6.2,19.1 L8.2,18.8 L10.1,18.4 L12.3,18.1 L14.5,17.8 M3.9,18.1 L5.9,17.7 L7.9,17.2 L9.9,16.8 L12.1,16.6 L14.3,16.2 M2.0,19.1 L4.0,18.7 L6.0,18.3 L8.0,17.9 L10.0,17.5 L12.2,17.2 L14.4,16.9 L16.6,16.6 L18.8,16.3 M0.1,20.2 L2.2,20.0 L4.2,19.9 L6.3,19.6 L8.3,19.4 L10.3,19.0 L12.4,18.8 L14.6,18.3 M6.2,19.1 L8.2,18.8 L10.2,18.4 L12.3,18.1 L14.5,17.7 M2.2,19.9 L4.2,19.7 L6.2,19.5 L8.3,19.2 L10.2,18.8 L12.4,18.5 L14.6,18.1 L16.7,17.7 L18.9,17.1 M3.9,18.0 L5.8,17.4 L7.8,16.9 L9.8,16.4 L12.1,16.2 L14.3,16.0 M4.1,19.0 L6.1,18.6 L8.1,18.2 L10.1,17.9 L12.2,17.5 L14.4,17.2 L16.6,16.9 M-0.1,19.0 L1.8,18.3 L3.8,17.8 L5.8,17.2 L7.8,16.7 L9.8,16.3 L12.0,16.1 L14.3,15.9 L16.5,15.6 M2.1,19.7 L4.1,19.4 L6.2,19.1 L8.2,18.8 L10.2,18.4 L12.3,18.2 L14.5,17.8 L16.7,17.4 L18.9,16.9 M4.0,18.6 L6.0,18.3 L8.0,17.9 L10.0,17.4 L12.2,17.2 L14.4,16.9 M2.2,20.0 L4.2,19.9 L6.3,19.6 L8.3,19.3 L10.2,19.0 L12.4,18.6 L14.6,18.1 L16.8,17.8 L18.9,17.2 M1.9,18.7 L3.9,18.2 L5.9,17.8 L7.9,17.3 L9.9,16.9 L12.1,16.6 L14.3,16.3 L16.5,16.1 L18.7,15.9" fill="none" stroke="#58d028" stroke-width="0.35" opacity="0.14"/><path d="M8.5,23.6 L10.5,22.6 L12.5,21.9 L14.4,21.0 L16.4,20.0 M1.9,25.9 L3.9,24.7 L5.9,23.6 L7.9,22.5 L9.9,21.3 L11.9,20.6 L13.9,19.7 L15.9,19.0 L18.0,18.2 M2.2,26.4 L4.3,25.4 L6.4,24.4 L8.4,23.4 L10.4,22.4 L12.4,21.6 L14.3,20.7 L16.3,19.8 M2.0,26.0 L4.0,24.8 L6.0,23.8 L8.0,22.6 L10.0,21.4 L12.0,20.7 L14.0,19.8 L16.0,19.1 L18.0,18.2 M5.4,22.6 L7.3,21.3 L9.3,20.0 L11.4,19.1 L13.4,18.5 L15.5,17.9 M6.5,24.7 L8.6,23.7 L10.5,22.6 L12.5,21.8 L14.4,20.9 L16.4,20.1 M3.7,24.3 L5.6,23.1 L7.6,21.8 L9.5,20.6 L11.6,19.8 L13.6,19.0 L15.7,18.3 M6.4,24.4 L8.4,23.4 L10.3,22.2 L12.3,21.5 L14.3,20.6 L16.2,19.7 M4.5,25.8 L6.7,24.9 L8.8,24.0 L10.8,23.1 L12.6,22.2 L14.6,21.3 L16.5,20.4 M4.1,25.0 L6.1,23.9 L8.1,22.9 L10.1,21.8 L12.1,21.0 L14.1,20.1 L16.1,19.3 L18.1,18.4 M7.8,22.3 L9.8,21.1 L11.9,20.3 L13.9,19.6 L15.9,18.8 L17.9,18.1" fill="none" stroke="#58d028" stroke-width="0.35" opacity="0.13"/><path d="M11.8,27.3 L13.3,25.6 L14.9,23.9 L16.4,22.4 L17.9,20.9 L19.4,19.4 M10.0,28.9 L11.4,27.0 L12.8,25.2 L14.4,23.4 L15.9,21.9 L17.5,20.5 L19.0,19.0 M10.9,29.6 L12.5,27.9 L14.1,26.2 L15.6,24.6 L17.0,23.0 M9.9,28.7 L11.2,26.8 L12.6,25.0 L14.1,23.1 L15.7,21.7 L17.3,20.3 L19.0,19.0 M10.3,29.1 L11.8,27.3 L13.2,25.5 L14.7,23.8 L16.3,22.3 L17.8,20.8 L19.3,19.3 M8.7,30.7 L10.0,28.8 L11.4,26.9 L12.8,25.1 L14.3,23.3 L15.8,21.8 L17.4,20.4 M10.3,29.0 L11.7,27.3 L13.1,25.4 L14.6,23.7 L16.2,22.2 L17.7,20.7 M12.7,28.1 L14.2,26.4 L15.7,24.7 L17.2,23.2 M12.5,28.0 L14.2,26.3 L15.6,24.6 L17.1,23.1 L18.5,21.5 L19.9,19.9 M9.8,28.6 L11.1,26.7 L12.5,24.9 L13.9,23.0 L15.5,21.5 L17.1,20.1 L18.8,18.8" fill="none" stroke="#58d028" stroke-width="0.35" opacity="0.12"/><path d="M16.6,33.4 L17.0,30.8 L17.5,28.3 L18.0,25.7 L18.9,23.7 L19.6,21.7 M18.3,31.2 L19.1,28.7 L20.0,26.3 L20.6,24.3 L21.3,22.3 L21.8,20.2 M17.8,31.0 L18.5,28.5 L19.1,26.0 L19.9,24.1 L20.6,22.0 M16.8,30.8 L17.3,28.2 L17.8,25.6 L18.6,23.6 L19.4,21.6 M18.4,31.2 L19.3,28.8 L20.0,26.3 L20.8,24.4 L21.4,22.4 M18.3,31.2 L19.1,28.7 L19.8,26.3 L20.6,24.3 L21.2,22.3 L21.9,20.2 M18.1,31.1 L18.9,28.6 L19.6,26.2 L20.3,24.2 L21.1,22.2 L21.7,20.2 M16.6,33.4 L17.2,30.9 L17.7,28.3 L18.3,25.8 L19.1,23.7 L20.0,21.8 L20.8,19.8" fill="none" stroke="#58d028" stroke-width="0.35" opacity="0.11"/><path d="M22.0,14.5 L24.0,13.5 L26.0,12.5 L28.0,11.5 M21.7,14.0 L23.6,12.7 L25.5,11.4 L27.6,10.2 L29.8,10.0 M22.1,14.8 L24.2,13.9 L26.3,13.0 L28.2,12.2 M24.2,14.0 L26.3,13.1 L28.2,12.2 L30.1,11.9 L32.1,11.4 M24.4,14.3 L26.5,13.4 L28.4,12.6 L30.2,12.2 L32.1,11.7 M21.7,14.0 L23.6,12.7 L25.5,11.5 L27.6,10.3 L29.8,10.1 M24.0,13.6 L26.1,12.6 L28.0,11.6 M21.8,14.1 L23.6,12.8 L25.5,11.6 L27.6,10.3 L29.8,10.1 L31.9,10.0 M22.2,15.0 L24.4,14.3 L26.5,13.5 L28.4,12.7 L30.2,12.4 M24.4,14.3 L26.5,13.6 L28.4,12.8 L30.2,12.4" fill="none" stroke="#58d028" stroke-width="0.35" opacity="0.12"/><path d="M22.0,16.1 L23.9,16.7 L25.9,17.1 L27.8,17.3 L29.8,17.6 L31.8,17.6 M21.9,16.2 L23.9,16.7 L25.9,17.3 L27.8,17.6 L29.8,17.7 M24.0,15.3 L26.0,15.4 L28.0,15.6 L30.1,15.9 L32.0,16.4 M22.1,14.8 L24.1,14.5 L26.1,14.4 L28.2,14.4 L30.2,14.9 L32.2,15.6 M22.0,15.3 L24.0,15.3 L26.0,15.3 L28.1,15.5 L30.1,15.9 L32.1,16.4 M22.0,15.6 L24.0,15.8 L26.0,16.0 L28.0,16.2 L30.0,16.5 M22.0,15.7 L24.0,15.9 L26.0,16.3 L27.9,16.4 L29.9,16.7 M24.0,16.0 L26.0,16.2 L27.9,16.4 L29.9,16.7 L31.9,17.0 M21.9,16.4 L23.9,17.0 L25.9,17.5 L27.8,17.8 L29.7,18.1 M22.0,15.7 L24.0,15.9 L26.0,16.1 L27.9,16.4 L30.0,16.6 M22.0,15.7 L24.0,15.9 L26.0,16.1 L28.0,16.3 L29.9,16.7 M22.0,15.9 L23.9,16.4 L25.9,16.7 L27.9,16.9 L29.9,17.1 L31.9,17.3 M22.1,14.7 L24.1,14.4 L26.1,14.2 L28.2,14.2 L30.3,14.7" fill="none" stroke="#58d028" stroke-width="0.35" opacity="0.13"/><path d="M21.8,17.3 L23.7,18.8 L25.6,20.2 L27.6,21.6 M21.7,17.4 L23.6,19.0 L25.5,20.4 L27.4,21.9 L29.4,23.2 M21.7,17.5 L23.4,19.2 L25.3,20.8 L27.3,22.1 L29.3,23.4 M24.1,18.1 L26.1,19.4 L28.2,20.7 L30.1,22.1 L32.1,23.5 M23.9,18.4 L25.9,19.8 L27.9,21.1 L29.9,22.5 M23.3,19.3 L25.1,21.0 L27.0,22.4 L29.1,23.6 L31.3,24.7 M24.6,17.5 L26.7,18.5 L28.8,19.9 L30.7,21.3 L32.5,22.9 M21.9,17.1 L23.9,18.4 L25.9,19.9 L27.9,21.2 L29.9,22.5 M23.5,19.1 L25.3,20.7 L27.3,22.0 L29.4,23.3 M22.2,16.7 L24.3,17.8 L26.4,19.0 L28.4,20.3 L30.4,21.7 L32.3,23.2 M21.9,17.2 L23.8,18.6 L25.8,20.0 L27.7,21.4 L29.8,22.6 L31.8,23.9" fill="none" stroke="#58d028" stroke-width="0.35" opacity="0.12"/><path d="M17.9,3.0 L17.8,5.5 L17.7,8.0 L18.2,10.0 M17.8,5.5 L17.6,8.0 L18.1,10.0 M17.9,5.5 L17.8,8.0 L18.3,9.9" fill="none" stroke="#58d028" stroke-width="0.35" opacity="0.10"/><path d="M15.0,13.2 L17.5,12.7 L20.0,12.2 L22.4,13.0 L24.8,13.7 L25.2,15.3 L25.7,16.8 M15.2,14.0 L17.8,14.0 L19.9,13.9 L21.9,14.8 L23.5,15.3 L23.2,15.9 L24.1,15.6 L22.7,16.0 L21.0,17.1 L19.1,16.6 M20.0,12.2 L22.4,13.0 L24.9,13.6 L25.3,15.3 L25.9,16.9 L23.4,17.9 L21.0,18.8 L18.5,17.9 M15.2,14.0 L17.8,13.8 L19.9,13.7 L21.9,14.7 L23.6,15.2 L23.4,15.9 L24.3,15.7 L22.8,16.2 L21.0,17.3 M20.1,10.5 L23.0,11.1 L26.2,12.1 L27.3,14.7 L27.5,18.1 L24.1,19.6 L21.0,20.5 M19.9,13.4 L22.0,14.3 L23.8,14.9 L23.7,15.8 L24.5,15.9 L22.9,16.4 L21.0,17.6 M17.6,13.1 L20.0,12.8 L22.3,13.6 L24.4,14.2 L24.6,15.5 L25.3,16.5 L23.2,17.2 M19.9,13.8 L21.9,14.7 L23.6,15.2 L23.2,15.9 L24.2,15.7 M19.9,13.8 L21.9,14.8 L23.5,15.3 L23.2,15.9 L24.1,15.6 L22.7,16.0 M14.8,12.1 L17.3,11.3 L20.1,10.5 L23.0,11.0 L26.2,12.1 L27.4,14.7 L27.6,18.1 L24.1,19.6 L21.0,20.5 L18.1,19.1 M20.0,12.3 L22.4,13.0 L24.8,13.7 L25.1,15.4 L25.7,16.8 L23.4,17.7 M20.0,12.5 L22.3,13.4 L24.6,14.0 L24.8,15.4 L25.5,16.6 L23.3,17.5 L21.0,18.4 M20.1,10.2 L23.1,10.8 L26.5,11.7 L27.8,14.6 L27.9,18.4 L24.3,20.0 L21.0,20.9 L17.9,19.4 M15.1,13.6 L17.7,13.4 L19.9,13.1 L22.1,14.1 L24.0,14.7 L24.1,15.7 L24.8,16.1 L23.0,16.8 L21.0,17.8 M15.0,13.2 L17.6,12.8 L20.0,12.4 L22.4,13.2 L24.8,13.8 L25.1,15.4 L25.6,16.7 L23.4,17.7 L21.0,18.7 M19.9,13.1 L22.1,14.0 L24.2,14.5 L24.2,15.6 L24.9,16.2 L23.1,16.9 M22.2,13.7 L24.3,14.3 L24.4,15.6 L25.2,16.4 L23.2,17.1 L21.0,18.1 L18.7,17.4" fill="none" stroke="#58d028" stroke-width="0.35" opacity="0.15"/><path d="M32.1,25.0 L33.1,26.9 L33.6,28.9 M31.8,25.1 L32.3,27.2 L33.3,29.1 M31.9,25.0 L32.7,27.0 L33.4,29.0 M31.9,25.0 L32.4,27.1 L33.3,29.1" fill="none" stroke="#58d028" stroke-width="0.35" opacity="0.09"/></g><g filter="url(#tex2)"><g filter="url(#b1)"><ellipse cx="20.5" cy="13.5" rx="5.5" ry="3.8" fill="#60c830" opacity="0.50"/></g></g><g filter="url(#b2)"><circle cx="15.5" cy="10" r="1.12" fill="#8cf040" opacity="0.81"/><circle cx="17.5" cy="11.5" r="1.05" fill="#8cf040" opacity="0.63"/><circle cx="19.5" cy="12.5" r="1.12" fill="#8cf040" opacity="0.54"/><circle cx="22.5" cy="16.5" r="1.20" fill="#8cf040" opacity="0.41"/><circle cx="25" cy="19" r="0.90" fill="#8cf040" opacity="0.36"/><circle cx="13" cy="12" r="0.75" fill="#8cf040" opacity="0.45"/><circle cx="1" cy="18" r="0.68" fill="#8cf040" opacity="0.45"/><circle cx="24" cy="25" r="0.68" fill="#8cf040" opacity="0.32"/><circle cx="22.3" cy="13.8" r="2.0" fill="#0a1a05" stroke="#70d838" stroke-width="0.7" opacity="0.8"/></g></g></g>
<g transform="translate(521.4,93.5)" clip-path="url(#cc)"><rect width="33.8" height="33.8" fill="#000"/><g><g filter="url(#b3)" opacity="0.25"><ellipse cx="17" cy="16" rx="10" ry="6" fill="#1828d0"/></g><g filter="url(#b2)"><ellipse cx="15.3" cy="10" rx="1.82" ry="1.50" fill="#1a24f0" opacity="0.92"/><ellipse cx="21.4" cy="13.6" rx="2.40" ry="1.98" fill="#1a24f0" opacity="0.92"/><ellipse cx="14.5" cy="23.2" rx="1.25" ry="1.03" fill="#1a24f0" opacity="0.92"/><ellipse cx="14.5" cy="25.9" rx="1.44" ry="1.19" fill="#1a24f0" opacity="0.92"/><ellipse cx="9.5" cy="23" rx="1.15" ry="0.95" fill="#1a24f0" opacity="0.92"/><ellipse cx="24.3" cy="22.6" rx="0.96" ry="0.79" fill="#1a24f0" opacity="0.92"/><ellipse cx="17.7" cy="4" rx="0.58" ry="0.48" fill="#1a24f0" opacity="0.92"/><ellipse cx="0.5" cy="19" rx="0.86" ry="0.71" fill="#1a24f0" opacity="0.92"/><ellipse cx="27" cy="11" rx="0.77" ry="0.63" fill="#1a24f0" opacity="0.92"/></g></g></g>
<g transform="translate(557.1,93.5)" clip-path="url(#cc)"><rect width="33.8" height="33.8" fill="#000"/><g opacity="1.0" filter="url(#tex)"><g filter="url(#b1)"><path d="M0.0,8.0 L8.0,10.0 L16.0,12.5 L22.0,14.0" fill="none" stroke="#a00606" stroke-width="2.8" stroke-linecap="round" stroke-linejoin="round" opacity="0.36"/><path d="M0.0,13.5 L10.0,14.0 L20.0,15.0" fill="none" stroke="#a00606" stroke-width="3.2" stroke-linecap="round" stroke-linejoin="round" opacity="0.36"/><path d="M0.0,19.5 L10.0,17.5 L21.0,16.0" fill="none" stroke="#a00606" stroke-width="3.2" stroke-linecap="round" stroke-linejoin="round" opacity="0.36"/><path d="M2.0,26.0 L10.0,21.5 L20.0,17.5" fill="none" stroke="#a00606" stroke-width="2.8" stroke-linecap="round" stroke-linejoin="round" opacity="0.34"/><path d="M9.0,31.0 L15.0,24.0 L21.0,18.0" fill="none" stroke="#a00606" stroke-width="2.4" stroke-linecap="round" stroke-linejoin="round" opacity="0.30"/><path d="M17.0,33.5 L19.0,26.0 L22.0,18.0" fill="none" stroke="#a00606" stroke-width="2.1" stroke-linecap="round" stroke-linejoin="round" opacity="0.28"/><path d="M22.0,14.5 L28.0,11.5 L34.0,10.5" fill="none" stroke="#a00606" stroke-width="2.4" stroke-linecap="round" stroke-linejoin="round" opacity="0.30"/><path d="M22.0,15.5 L28.0,16.0 L34.0,17.0" fill="none" stroke="#a00606" stroke-width="3.2" stroke-linecap="round" stroke-linejoin="round" opacity="0.32"/><path d="M22.0,17.0 L28.0,21.0 L34.0,25.0" fill="none" stroke="#a00606" stroke-width="2.8" stroke-linecap="round" stroke-linejoin="round" opacity="0.30"/><path d="M17.8,3.0 L17.5,8.0 L18.5,12.0" fill="none" stroke="#a00606" stroke-width="0.6" stroke-linecap="round" stroke-linejoin="round" opacity="0.26"/><path d="M15.0,13.0 L20.0,12.0 L25.0,13.5 L26.0,17.0 L21.0,19.0 L16.0,17.0" fill="none" stroke="#a00606" stroke-width="4.0" stroke-linecap="round" stroke-linejoin="round" opacity="0.38"/><path d="M32.0,25.0 L33.5,29.0" fill="none" stroke="#a00606" stroke-width="1.0" stroke-linecap="round" stroke-linejoin="round" opacity="0.23"/></g><path d="M4.2,8.1 L6.3,8.5 L8.3,8.9 L10.4,9.5 L12.4,10.1 L14.4,10.7 M4.0,9.1 L6.0,9.6 L8.0,10.1 L10.0,10.7 L12.0,11.3 L14.0,12.0 L16.0,12.6 L18.0,13.1 M2.0,8.4 L4.0,8.8 L6.0,9.3 L8.0,9.8 L10.1,10.5 L12.1,11.0 L14.1,11.6 L16.1,12.3 M1.9,8.9 L3.9,9.5 L5.9,10.1 L7.8,10.6 L9.8,11.2 L11.8,11.9 L13.8,12.5 L15.8,13.0 L17.9,13.5 L19.9,13.9 M5.9,10.0 L7.8,10.5 L9.8,11.2 L11.8,11.8 L13.8,12.4 L15.8,13.0 L17.9,13.4 L19.9,13.8 M3.8,9.6 L5.8,10.2 L7.8,10.8 L9.7,11.4 L11.8,12.0 L13.7,12.7 L15.8,13.3 L17.9,13.6 L19.9,13.9 M5.7,10.5 L7.7,11.2 L9.6,11.9 L11.6,12.4 L13.6,13.0 L15.7,13.6 M2.1,7.9 L4.2,8.3 L6.2,8.6 L8.3,9.1 L10.3,9.7 L12.3,10.3 L14.3,10.9 M2.0,8.3 L4.1,8.8 L6.1,9.2 L8.1,9.7 L10.1,10.4 L12.1,10.9 L14.1,11.6 L16.1,12.3 L18.0,12.8 M6.0,9.4 L8.0,9.8 L10.1,10.5 L12.0,11.2 L14.0,11.7 L16.0,12.4 L18.0,13.0 M1.8,9.3 L3.7,10.0 L5.7,10.7 L7.6,11.4 L9.5,12.1 L11.6,12.7 L13.6,13.3" fill="none" stroke="#f01a1a" stroke-width="0.36" opacity="0.60"/><path d="M2.0,13.9 L4.0,14.2 L6.0,14.3 L8.0,14.5 L10.0,14.5 L12.0,14.7 L13.9,14.9 L16.0,15.0 L18.0,15.1 M2.0,13.9 L4.0,14.0 L6.0,14.1 L8.0,14.3 L10.0,14.4 L12.0,14.6 L14.0,14.7 L16.0,14.9 L18.0,15.1 M2.0,13.1 L4.0,13.1 L6.0,13.0 L8.0,13.1 L10.1,13.2 L12.1,13.4 L14.1,13.6 L16.1,13.9 L18.1,14.3 M2.0,13.9 L4.0,14.0 L6.0,14.2 L8.0,14.3 L10.0,14.4 L12.0,14.5 L14.0,14.8 M4.1,12.4 L6.1,12.3 L8.1,12.3 L10.1,12.4 L12.1,12.7 L14.1,13.0 L16.1,13.4 M2.0,12.7 L4.1,12.6 L6.1,12.5 L8.1,12.5 L10.1,12.5 L12.1,12.7 L14.1,13.1 L16.1,13.5 M4.0,13.6 L6.0,13.8 L8.0,13.9 L10.0,13.9 L12.0,14.1 M3.9,15.2 L5.9,15.6 L7.9,15.8 L9.9,16.0 L11.8,16.2 L13.8,16.1 L15.8,16.1 L17.9,16.0 M4.0,13.3 L6.0,13.3 L8.0,13.5 L10.0,13.5 L12.0,13.8 L14.0,14.0 L16.0,14.3 L18.0,14.5 M-0.0,13.8 L2.0,14.0 L4.0,14.2 L6.0,14.2 L8.0,14.4 L10.0,14.6 L12.0,14.7 M0.0,12.7 L2.1,12.5 L4.1,12.3 L6.1,12.1 L8.1,12.1 L10.1,12.2 L12.2,12.3 L14.2,12.8 M-0.0,13.9 L2.0,14.1 L4.0,14.4 L6.0,14.5 L8.0,14.8 L9.9,14.9 L11.9,15.0 L13.9,15.1 L15.9,15.3 M0.0,13.2 L2.0,13.1 L4.0,13.2 L6.0,13.2 L8.0,13.2 L10.1,13.3 L12.1,13.6 L14.1,13.9" fill="none" stroke="#f01a1a" stroke-width="0.36" opacity="0.60"/><path d="M2.1,19.7 L4.1,19.4 L6.2,19.1 L8.2,18.8 L10.1,18.4 L12.3,18.1 L14.5,17.8 M3.9,18.1 L5.9,17.7 L7.9,17.2 L9.9,16.8 L12.1,16.6 L14.3,16.2 M2.0,19.1 L4.0,18.7 L6.0,18.3 L8.0,17.9 L10.0,17.5 L12.2,17.2 L14.4,16.9 L16.6,16.6 L18.8,16.3 M0.1,20.2 L2.2,20.0 L4.2,19.9 L6.3,19.6 L8.3,19.4 L10.3,19.0 L12.4,18.8 L14.6,18.3 M6.2,19.1 L8.2,18.8 L10.2,18.4 L12.3,18.1 L14.5,17.7 M2.2,19.9 L4.2,19.7 L6.2,19.5 L8.3,19.2 L10.2,18.8 L12.4,18.5 L14.6,18.1 L16.7,17.7 L18.9,17.1 M3.9,18.0 L5.8,17.4 L7.8,16.9 L9.8,16.4 L12.1,16.2 L14.3,16.0 M4.1,19.0 L6.1,18.6 L8.1,18.2 L10.1,17.9 L12.2,17.5 L14.4,17.2 L16.6,16.9 M-0.1,19.0 L1.8,18.3 L3.8,17.8 L5.8,17.2 L7.8,16.7 L9.8,16.3 L12.0,16.1 L14.3,15.9 L16.5,15.6 M2.1,19.7 L4.1,19.4 L6.2,19.1 L8.2,18.8 L10.2,18.4 L12.3,18.2 L14.5,17.8 L16.7,17.4 L18.9,16.9 M4.0,18.6 L6.0,18.3 L8.0,17.9 L10.0,17.4 L12.2,17.2 L14.4,16.9 M2.2,20.0 L4.2,19.9 L6.3,19.6 L8.3,19.3 L10.2,19.0 L12.4,18.6 L14.6,18.1 L16.8,17.8 L18.9,17.2 M1.9,18.7 L3.9,18.2 L5.9,17.8 L7.9,17.3 L9.9,16.9 L12.1,16.6 L14.3,16.3 L16.5,16.1 L18.7,15.9" fill="none" stroke="#f01a1a" stroke-width="0.36" opacity="0.60"/><path d="M8.5,23.6 L10.5,22.6 L12.5,21.9 L14.4,21.0 L16.4,20.0 M1.9,25.9 L3.9,24.7 L5.9,23.6 L7.9,22.5 L9.9,21.3 L11.9,20.6 L13.9,19.7 L15.9,19.0 L18.0,18.2 M2.2,26.4 L4.3,25.4 L6.4,24.4 L8.4,23.4 L10.4,22.4 L12.4,21.6 L14.3,20.7 L16.3,19.8 M2.0,26.0 L4.0,24.8 L6.0,23.8 L8.0,22.6 L10.0,21.4 L12.0,20.7 L14.0,19.8 L16.0,19.1 L18.0,18.2 M5.4,22.6 L7.3,21.3 L9.3,20.0 L11.4,19.1 L13.4,18.5 L15.5,17.9 M6.5,24.7 L8.6,23.7 L10.5,22.6 L12.5,21.8 L14.4,20.9 L16.4,20.1 M3.7,24.3 L5.6,23.1 L7.6,21.8 L9.5,20.6 L11.6,19.8 L13.6,19.0 L15.7,18.3 M6.4,24.4 L8.4,23.4 L10.3,22.2 L12.3,21.5 L14.3,20.6 L16.2,19.7 M4.5,25.8 L6.7,24.9 L8.8,24.0 L10.8,23.1 L12.6,22.2 L14.6,21.3 L16.5,20.4 M4.1,25.0 L6.1,23.9 L8.1,22.9 L10.1,21.8 L12.1,21.0 L14.1,20.1 L16.1,19.3 L18.1,18.4 M7.8,22.3 L9.8,21.1 L11.9,20.3 L13.9,19.6 L15.9,18.8 L17.9,18.1" fill="none" stroke="#f01a1a" stroke-width="0.36" opacity="0.57"/><path d="M11.8,27.3 L13.3,25.6 L14.9,23.9 L16.4,22.4 L17.9,20.9 L19.4,19.4 M10.0,28.9 L11.4,27.0 L12.8,25.2 L14.4,23.4 L15.9,21.9 L17.5,20.5 L19.0,19.0 M10.9,29.6 L12.5,27.9 L14.1,26.2 L15.6,24.6 L17.0,23.0 M9.9,28.7 L11.2,26.8 L12.6,25.0 L14.1,23.1 L15.7,21.7 L17.3,20.3 L19.0,19.0 M10.3,29.1 L11.8,27.3 L13.2,25.5 L14.7,23.8 L16.3,22.3 L17.8,20.8 L19.3,19.3 M8.7,30.7 L10.0,28.8 L11.4,26.9 L12.8,25.1 L14.3,23.3 L15.8,21.8 L17.4,20.4 M10.3,29.0 L11.7,27.3 L13.1,25.4 L14.6,23.7 L16.2,22.2 L17.7,20.7 M12.7,28.1 L14.2,26.4 L15.7,24.7 L17.2,23.2 M12.5,28.0 L14.2,26.3 L15.6,24.6 L17.1,23.1 L18.5,21.5 L19.9,19.9 M9.8,28.6 L11.1,26.7 L12.5,24.9 L13.9,23.0 L15.5,21.5 L17.1,20.1 L18.8,18.8" fill="none" stroke="#f01a1a" stroke-width="0.36" opacity="0.50"/><path d="M16.6,33.4 L17.0,30.8 L17.5,28.3 L18.0,25.7 L18.9,23.7 L19.6,21.7 M18.3,31.2 L19.1,28.7 L20.0,26.3 L20.6,24.3 L21.3,22.3 L21.8,20.2 M17.8,31.0 L18.5,28.5 L19.1,26.0 L19.9,24.1 L20.6,22.0 M16.8,30.8 L17.3,28.2 L17.8,25.6 L18.6,23.6 L19.4,21.6 M18.4,31.2 L19.3,28.8 L20.0,26.3 L20.8,24.4 L21.4,22.4 M18.3,31.2 L19.1,28.7 L19.8,26.3 L20.6,24.3 L21.2,22.3 L21.9,20.2 M18.1,31.1 L18.9,28.6 L19.6,26.2 L20.3,24.2 L21.1,22.2 L21.7,20.2 M16.6,33.4 L17.2,30.9 L17.7,28.3 L18.3,25.8 L19.1,23.7 L20.0,21.8 L20.8,19.8" fill="none" stroke="#f01a1a" stroke-width="0.36" opacity="0.47"/><path d="M22.0,14.5 L24.0,13.5 L26.0,12.5 L28.0,11.5 M21.7,14.0 L23.6,12.7 L25.5,11.4 L27.6,10.2 L29.8,10.0 M22.1,14.8 L24.2,13.9 L26.3,13.0 L28.2,12.2 M24.2,14.0 L26.3,13.1 L28.2,12.2 L30.1,11.9 L32.1,11.4 M24.4,14.3 L26.5,13.4 L28.4,12.6 L30.2,12.2 L32.1,11.7 M21.7,14.0 L23.6,12.7 L25.5,11.5 L27.6,10.3 L29.8,10.1 M24.0,13.6 L26.1,12.6 L28.0,11.6 M21.8,14.1 L23.6,12.8 L25.5,11.6 L27.6,10.3 L29.8,10.1 L31.9,10.0 M22.2,15.0 L24.4,14.3 L26.5,13.5 L28.4,12.7 L30.2,12.4 M24.4,14.3 L26.5,13.6 L28.4,12.8 L30.2,12.4" fill="none" stroke="#f01a1a" stroke-width="0.36" opacity="0.50"/><path d="M22.0,16.1 L23.9,16.7 L25.9,17.1 L27.8,17.3 L29.8,17.6 L31.8,17.6 M21.9,16.2 L23.9,16.7 L25.9,17.3 L27.8,17.6 L29.8,17.7 M24.0,15.3 L26.0,15.4 L28.0,15.6 L30.1,15.9 L32.0,16.4 M22.1,14.8 L24.1,14.5 L26.1,14.4 L28.2,14.4 L30.2,14.9 L32.2,15.6 M22.0,15.3 L24.0,15.3 L26.0,15.3 L28.1,15.5 L30.1,15.9 L32.1,16.4 M22.0,15.6 L24.0,15.8 L26.0,16.0 L28.0,16.2 L30.0,16.5 M22.0,15.7 L24.0,15.9 L26.0,16.3 L27.9,16.4 L29.9,16.7 M24.0,16.0 L26.0,16.2 L27.9,16.4 L29.9,16.7 L31.9,17.0 M21.9,16.4 L23.9,17.0 L25.9,17.5 L27.8,17.8 L29.7,18.1 M22.0,15.7 L24.0,15.9 L26.0,16.1 L27.9,16.4 L30.0,16.6 M22.0,15.7 L24.0,15.9 L26.0,16.1 L28.0,16.3 L29.9,16.7 M22.0,15.9 L23.9,16.4 L25.9,16.7 L27.9,16.9 L29.9,17.1 L31.9,17.3 M22.1,14.7 L24.1,14.4 L26.1,14.2 L28.2,14.2 L30.3,14.7" fill="none" stroke="#f01a1a" stroke-width="0.36" opacity="0.54"/><path d="M21.8,17.3 L23.7,18.8 L25.6,20.2 L27.6,21.6 M21.7,17.4 L23.6,19.0 L25.5,20.4 L27.4,21.9 L29.4,23.2 M21.7,17.5 L23.4,19.2 L25.3,20.8 L27.3,22.1 L29.3,23.4 M24.1,18.1 L26.1,19.4 L28.2,20.7 L30.1,22.1 L32.1,23.5 M23.9,18.4 L25.9,19.8 L27.9,21.1 L29.9,22.5 M23.3,19.3 L25.1,21.0 L27.0,22.4 L29.1,23.6 L31.3,24.7 M24.6,17.5 L26.7,18.5 L28.8,19.9 L30.7,21.3 L32.5,22.9 M21.9,17.1 L23.9,18.4 L25.9,19.9 L27.9,21.2 L29.9,22.5 M23.5,19.1 L25.3,20.7 L27.3,22.0 L29.4,23.3 M22.2,16.7 L24.3,17.8 L26.4,19.0 L28.4,20.3 L30.4,21.7 L32.3,23.2 M21.9,17.2 L23.8,18.6 L25.8,20.0 L27.7,21.4 L29.8,22.6 L31.8,23.9" fill="none" stroke="#f01a1a" stroke-width="0.36" opacity="0.50"/><path d="M17.9,3.0 L17.8,5.5 L17.7,8.0 L18.2,10.0 M17.8,5.5 L17.6,8.0 L18.1,10.0 M17.9,5.5 L17.8,8.0 L18.3,9.9" fill="none" stroke="#f01a1a" stroke-width="0.36" opacity="0.44"/><path d="M15.0,13.2 L17.5,12.7 L20.0,12.2 L22.4,13.0 L24.8,13.7 L25.2,15.3 L25.7,16.8 M15.2,14.0 L17.8,14.0 L19.9,13.9 L21.9,14.8 L23.5,15.3 L23.2,15.9 L24.1,15.6 L22.7,16.0 L21.0,17.1 L19.1,16.6 M20.0,12.2 L22.4,13.0 L24.9,13.6 L25.3,15.3 L25.9,16.9 L23.4,17.9 L21.0,18.8 L18.5,17.9 M15.2,14.0 L17.8,13.8 L19.9,13.7 L21.9,14.7 L23.6,15.2 L23.4,15.9 L24.3,15.7 L22.8,16.2 L21.0,17.3 M20.1,10.5 L23.0,11.1 L26.2,12.1 L27.3,14.7 L27.5,18.1 L24.1,19.6 L21.0,20.5 M19.9,13.4 L22.0,14.3 L23.8,14.9 L23.7,15.8 L24.5,15.9 L22.9,16.4 L21.0,17.6 M17.6,13.1 L20.0,12.8 L22.3,13.6 L24.4,14.2 L24.6,15.5 L25.3,16.5 L23.2,17.2 M19.9,13.8 L21.9,14.7 L23.6,15.2 L23.2,15.9 L24.2,15.7 M19.9,13.8 L21.9,14.8 L23.5,15.3 L23.2,15.9 L24.1,15.6 L22.7,16.0 M14.8,12.1 L17.3,11.3 L20.1,10.5 L23.0,11.0 L26.2,12.1 L27.4,14.7 L27.6,18.1 L24.1,19.6 L21.0,20.5 L18.1,19.1 M20.0,12.3 L22.4,13.0 L24.8,13.7 L25.1,15.4 L25.7,16.8 L23.4,17.7 M20.0,12.5 L22.3,13.4 L24.6,14.0 L24.8,15.4 L25.5,16.6 L23.3,17.5 L21.0,18.4 M20.1,10.2 L23.1,10.8 L26.5,11.7 L27.8,14.6 L27.9,18.4 L24.3,20.0 L21.0,20.9 L17.9,19.4 M15.1,13.6 L17.7,13.4 L19.9,13.1 L22.1,14.1 L24.0,14.7 L24.1,15.7 L24.8,16.1 L23.0,16.8 L21.0,17.8 M15.0,13.2 L17.6,12.8 L20.0,12.4 L22.4,13.2 L24.8,13.8 L25.1,15.4 L25.6,16.7 L23.4,17.7 L21.0,18.7 M19.9,13.1 L22.1,14.0 L24.2,14.5 L24.2,15.6 L24.9,16.2 L23.1,16.9 M22.2,13.7 L24.3,14.3 L24.4,15.6 L25.2,16.4 L23.2,17.1 L21.0,18.1 L18.7,17.4" fill="none" stroke="#f01a1a" stroke-width="0.36" opacity="0.63"/><path d="M32.1,25.0 L33.1,26.9 L33.6,28.9 M31.8,25.1 L32.3,27.2 L33.3,29.1 M31.9,25.0 L32.7,27.0 L33.4,29.0 M31.9,25.0 L32.4,27.1 L33.3,29.1" fill="none" stroke="#f01a1a" stroke-width="0.36" opacity="0.38"/></g><g><g filter="url(#tex2)"><g filter="url(#b1)"><path d="M0.0,8.0 L8.0,10.0 L16.0,12.5 L22.0,14.0" fill="none" stroke="#48b020" stroke-width="3.3" stroke-linecap="round" stroke-linejoin="round" opacity="0.15"/><path d="M0.0,13.5 L10.0,14.0 L20.0,15.0" fill="none" stroke="#48b020" stroke-width="3.8" stroke-linecap="round" stroke-linejoin="round" opacity="0.15"/><path d="M0.0,19.5 L10.0,17.5 L21.0,16.0" fill="none" stroke="#48b020" stroke-width="3.8" stroke-linecap="round" stroke-linejoin="round" opacity="0.15"/><path d="M2.0,26.0 L10.0,21.5 L20.0,17.5" fill="none" stroke="#48b020" stroke-width="3.3" stroke-linecap="round" stroke-linejoin="round" opacity="0.15"/><path d="M9.0,31.0 L15.0,24.0 L21.0,18.0" fill="none" stroke="#48b020" stroke-width="2.8" stroke-linecap="round" stroke-linejoin="round" opacity="0.13"/><path d="M17.0,33.5 L19.0,26.0 L22.0,18.0" fill="none" stroke="#48b020" stroke-width="2.5" stroke-linecap="round" stroke-linejoin="round" opacity="0.12"/><path d="M22.0,14.5 L28.0,11.5 L34.0,10.5" fill="none" stroke="#48b020" stroke-width="2.8" stroke-linecap="round" stroke-linejoin="round" opacity="0.13"/><path d="M22.0,15.5 L28.0,16.0 L34.0,17.0" fill="none" stroke="#48b020" stroke-width="3.8" stroke-linecap="round" stroke-linejoin="round" opacity="0.14"/><path d="M22.0,17.0 L28.0,21.0 L34.0,25.0" fill="none" stroke="#48b020" stroke-width="3.3" stroke-linecap="round" stroke-linejoin="round" opacity="0.13"/><path d="M17.8,3.0 L17.5,8.0 L18.5,12.0" fill="none" stroke="#48b020" stroke-width="0.8" stroke-linecap="round" stroke-linejoin="round" opacity="0.11"/><path d="M15.0,13.0 L20.0,12.0 L25.0,13.5 L26.0,17.0 L21.0,19.0 L16.0,17.0" fill="none" stroke="#48b020" stroke-width="4.8" stroke-linecap="round" stroke-linejoin="round" opacity="0.16"/><path d="M32.0,25.0 L33.5,29.0" fill="none" stroke="#48b020" stroke-width="1.1" stroke-linecap="round" stroke-linejoin="round" opacity="0.10"/></g></g><g filter="url(#tex2)"><g filter="url(#b1)"><ellipse cx="20.5" cy="13.5" rx="5.5" ry="3.8" fill="#60c830" opacity="0.30"/></g></g><g filter="url(#b2)"><circle cx="15.5" cy="10" r="1.12" fill="#b0f040" opacity="0.72"/><circle cx="17.5" cy="11.5" r="1.05" fill="#b0f040" opacity="0.56"/><circle cx="19.5" cy="12.5" r="1.12" fill="#b0f040" opacity="0.48"/><circle cx="22.5" cy="16.5" r="1.20" fill="#b0f040" opacity="0.36"/><circle cx="25" cy="19" r="0.90" fill="#b0f040" opacity="0.32"/><circle cx="13" cy="12" r="0.75" fill="#b0f040" opacity="0.40"/><circle cx="1" cy="18" r="0.68" fill="#b0f040" opacity="0.40"/><circle cx="24" cy="25" r="0.68" fill="#b0f040" opacity="0.28"/></g></g><g><g filter="url(#b3)" opacity="0.25"><ellipse cx="17" cy="16" rx="10" ry="6" fill="#1828d0"/></g><g filter="url(#b2)"><ellipse cx="15.3" cy="10" rx="1.82" ry="1.50" fill="#5a3cf0" opacity="0.92"/><ellipse cx="21.4" cy="13.6" rx="2.40" ry="1.98" fill="#5a3cf0" opacity="0.92"/><ellipse cx="14.5" cy="23.2" rx="1.25" ry="1.03" fill="#5a3cf0" opacity="0.92"/><ellipse cx="14.5" cy="25.9" rx="1.44" ry="1.19" fill="#5a3cf0" opacity="0.92"/><ellipse cx="9.5" cy="23" rx="1.15" ry="0.95" fill="#5a3cf0" opacity="0.92"/><ellipse cx="24.3" cy="22.6" rx="0.96" ry="0.79" fill="#5a3cf0" opacity="0.92"/><ellipse cx="17.7" cy="4" rx="0.58" ry="0.48" fill="#5a3cf0" opacity="0.92"/><ellipse cx="0.5" cy="19" rx="0.86" ry="0.71" fill="#5a3cf0" opacity="0.92"/><ellipse cx="27" cy="11" rx="0.77" ry="0.63" fill="#5a3cf0" opacity="0.92"/></g></g><rect x="24.9" y="30.8" width="8.0" height="1.8" fill="#fff"/></g>
<g transform="translate(450.1,129.1)" clip-path="url(#cc)"><rect width="33.8" height="33.8" fill="#000"/><g opacity="1.0" filter="url(#tex)"><g filter="url(#b1)"><path d="M2.0,1.0 L6.0,8.0 L10.0,14.0" fill="none" stroke="#a00606" stroke-width="1.3" stroke-linecap="round" stroke-linejoin="round" opacity="0.32"/><path d="M0.0,14.0 L10.0,13.0 L20.0,9.0 L28.0,6.0" fill="none" stroke="#a00606" stroke-width="4.4" stroke-linecap="round" stroke-linejoin="round" opacity="0.42"/><path d="M0.0,19.0 L8.0,17.0 L14.0,15.0" fill="none" stroke="#a00606" stroke-width="2.4" stroke-linecap="round" stroke-linejoin="round" opacity="0.38"/><path d="M12.0,18.0 L22.0,17.0 L34.0,17.0" fill="none" stroke="#a00606" stroke-width="4.0" stroke-linecap="round" stroke-linejoin="round" opacity="0.42"/><path d="M8.0,20.0 L16.0,24.0 L24.0,28.0 L32.0,31.5" fill="none" stroke="#a00606" stroke-width="3.2" stroke-linecap="round" stroke-linejoin="round" opacity="0.38"/><path d="M9.0,20.0 L7.0,26.0 L6.0,31.0" fill="none" stroke="#a00606" stroke-width="0.6" stroke-linecap="round" stroke-linejoin="round" opacity="0.25"/><path d="M10.0,20.0 L11.0,27.0 L12.0,33.5" fill="none" stroke="#a00606" stroke-width="0.6" stroke-linecap="round" stroke-linejoin="round" opacity="0.25"/><path d="M25.0,14.0 L27.0,10.0 L28.5,7.0" fill="none" stroke="#a00606" stroke-width="1.3" stroke-linecap="round" stroke-linejoin="round" opacity="0.29"/><path d="M22.0,20.0 L30.0,26.0 L34.0,28.0" fill="none" stroke="#a00606" stroke-width="2.0" stroke-linecap="round" stroke-linejoin="round" opacity="0.32"/><path d="M0.0,22.0 L6.0,20.5 L11.0,18.5" fill="none" stroke="#a00606" stroke-width="1.2" stroke-linecap="round" stroke-linejoin="round" opacity="0.25"/><path d="M18.0,20.0 L24.0,22.0 L31.0,23.0" fill="none" stroke="#a00606" stroke-width="1.6" stroke-linecap="round" stroke-linejoin="round" opacity="0.25"/></g><path d="M2.5,3.0 L3.4,4.8 L4.4,6.6 L5.3,8.4 L6.8,10.3 L8.2,12.3 M3.6,4.7 L4.5,6.5 L5.4,8.3 M2.3,0.8 L3.5,2.5 L4.6,4.1 L5.7,5.9 L6.6,7.6 M2.8,2.9 L3.7,4.7 L4.7,6.4 L5.7,8.2 L7.1,10.2 L8.4,12.2 M2.9,2.8 L3.9,4.6 L4.8,6.4 L5.8,8.1 L7.2,10.1" fill="none" stroke="#f01a1a" stroke-width="0.36" opacity="0.52"/><path d="M6.0,13.5 L8.0,13.3 L10.0,13.1 L12.0,12.3 L14.0,11.5 L16.1,10.8 L18.0,9.9 L20.1,9.2 M0.1,14.6 L2.1,14.5 L4.1,14.4 L6.1,14.3 L8.1,14.2 L10.2,14.0 L12.4,13.2 L14.4,12.4 L16.4,11.6 L18.4,10.8 L20.3,9.9 L22.3,9.1 M3.8,12.0 L5.8,11.6 L7.8,11.1 L9.5,10.8 L11.1,10.0 L13.1,9.1 L15.1,8.4 L17.2,7.7 M2.0,14.2 L4.1,14.2 L6.1,14.1 L8.1,13.9 L10.2,13.8 L12.3,13.0 L14.3,12.2 L16.3,11.4 L18.3,10.5 L20.3,9.7 L22.2,8.8 M7.9,12.6 L9.8,12.4 L11.7,11.6 L13.7,10.7 L15.7,9.9 L17.7,9.1 M0.0,14.4 L2.0,14.2 L4.0,14.1 L6.1,14.0 L8.1,13.8 L10.2,13.7 L12.3,12.8 L14.3,12.1 L16.3,11.3 L18.2,10.4 M3.9,12.7 L5.9,12.3 L7.9,12.0 L9.7,11.7 L11.5,10.9 L13.5,10.2 L15.5,9.4 L17.5,8.6 L19.6,7.9 L21.6,7.3 M0.1,15.0 L2.1,15.1 L4.2,15.2 L6.2,15.3 L8.2,15.3 L10.6,15.2 L12.9,14.4 L14.9,13.6 L16.9,12.8 L18.9,11.9 L20.8,11.0 L22.6,10.0 M7.8,11.1 L9.4,10.8 L11.1,10.0 L13.1,9.1 L15.1,8.3 L17.1,7.6 L19.2,7.0 L21.3,6.5 M6.1,14.7 L8.1,14.6 L10.4,14.5 L12.6,13.7 L14.6,12.9 L16.6,12.1 L18.6,11.3 L20.5,10.4 L22.4,9.4 M5.9,12.5 L7.9,12.2 L9.7,11.9 L11.6,11.2 L13.5,10.3 L15.6,9.5 L17.6,8.7 L19.6,8.1 L21.7,7.4 L23.7,6.8 M2.0,14.1 L4.0,14.0 L6.0,13.8 L8.1,13.7 L10.1,13.5 L12.2,12.7 L14.2,12.0 L16.2,11.1 L18.2,10.3 L20.2,9.5 M5.9,12.6 L7.9,12.3 L9.8,12.1 L11.6,11.3 L13.7,10.6 L15.6,9.7 L17.7,9.0 M8.0,13.3 L10.0,13.1 L12.0,12.3 L14.1,11.5 L16.0,10.7 L18.1,10.0 L20.0,9.1 L22.1,8.4 L24.0,7.6 M6.2,15.4 L8.2,15.4 L10.6,15.3 L12.9,14.5 L15.0,13.8 L16.9,12.9 L18.9,12.0 L20.8,11.0 L22.7,10.1 L24.6,9.1 L26.5,8.1 M1.9,12.3 L3.8,11.8 L5.8,11.3 L7.8,10.9 L9.4,10.5 L11.0,9.8 L13.0,9.0 L15.0,8.1 L17.1,7.5 L19.1,6.8 L21.3,6.3 L23.4,5.8 L25.5,5.3 M4.1,15.0 L6.1,14.9 L8.2,14.9 L10.4,14.8 L12.7,14.0 L14.7,13.2 L16.7,12.4 L18.7,11.5 L20.6,10.6 L22.5,9.7 L24.5,8.8 L26.4,7.8 M6.1,13.9 L8.1,13.9 L10.2,13.7 L12.3,12.9 L14.3,12.1 L16.3,11.3 L18.2,10.4 L20.2,9.6" fill="none" stroke="#f01a1a" stroke-width="0.36" opacity="0.70"/><path d="M-0.1,18.5 L1.8,17.7 L3.8,17.0 L5.7,16.5 L7.7,16.0 L9.7,15.4 M0.1,19.4 L2.1,19.0 L4.2,18.6 L6.2,18.1 L8.2,17.6 L10.2,16.9 M-0.0,19.0 L2.0,18.5 L4.0,18.1 L6.0,17.6 L8.0,17.1 L10.0,16.4 M1.8,17.6 L3.7,16.9 L5.7,16.3 L7.6,15.7 L9.6,15.3 M-0.2,18.4 L1.7,17.5 L3.7,16.7 L5.7,16.1 L7.6,15.6 L9.6,15.0 L11.7,14.8 M0.0,19.1 L2.0,18.6 L4.0,18.2 L6.0,17.7 L8.1,17.2 L10.0,16.5 M2.2,19.1 L4.2,18.9 L6.2,18.5 L8.3,17.9 L10.3,17.2 L12.2,16.3 M-0.1,18.6 L1.8,17.8 L3.8,17.2 L5.8,16.5 L7.7,16.1 L9.7,15.5 L11.8,15.1 M2.2,19.3 L4.3,19.1 L6.3,18.7 L8.3,18.2 L10.4,17.4 L12.3,16.5 M2.2,19.2 L4.2,18.8 L6.2,18.4 L8.2,17.9" fill="none" stroke="#f01a1a" stroke-width="0.36" opacity="0.63"/><path d="M14.1,18.4 L16.1,18.3 L18.1,18.3 L20.1,18.2 L22.1,18.0 L24.0,18.0 L26.0,18.0 L28.0,17.8 L30.0,17.7 M16.0,17.2 L18.0,17.0 L20.0,16.7 L22.0,16.5 L24.0,16.5 L26.0,16.5 L28.0,16.6 L30.0,16.6 L32.0,16.8 M14.0,17.8 L16.0,17.6 L18.0,17.4 L20.0,17.3 L22.0,17.0 L24.0,17.1 L26.0,17.1 M12.1,18.8 L14.1,18.8 L16.1,18.8 L18.1,18.8 L20.2,18.8 L22.1,18.6 L24.0,18.6 L26.0,18.6 L28.0,18.5 L30.0,18.3 L32.0,18.1 M16.1,18.7 L18.1,18.6 L20.1,18.5 L22.1,18.4 L24.0,18.3 L26.0,18.4 L28.0,18.2 L30.0,18.0 M14.1,18.7 L16.1,18.7 L18.1,18.7 L20.1,18.5 L22.1,18.5 L24.0,18.4 L26.0,18.4 L28.0,18.3 L30.0,18.1 M17.8,15.5 L19.8,15.1 L21.9,14.9 L24.0,14.9 L26.0,14.9 L28.0,15.2 L30.0,15.4 L32.0,15.7 M12.1,18.7 L14.1,18.7 L16.1,18.7 L18.1,18.7 L20.1,18.6 L22.1,18.6 L24.0,18.5 L26.0,18.5 L28.0,18.4 L30.0,18.2 L32.0,18.0 M18.0,17.6 L20.0,17.4 L22.0,17.1 L24.0,17.2 L26.0,17.1 L28.0,17.1 M18.0,17.4 L20.0,17.3 L22.0,17.0 L24.0,17.0 L26.0,17.1 L28.0,17.0 L30.0,17.1 L32.0,17.1 M17.8,15.3 L19.8,15.0 L21.9,14.7 L24.0,14.6 L26.0,14.8 L28.0,14.9 L30.0,15.2 L32.0,15.6 M14.1,18.7 L16.1,18.7 L18.1,18.7 L20.1,18.6 L22.1,18.5 L24.0,18.5 L26.0,18.4 L28.0,18.3 M12.1,19.0 L14.1,19.2 L16.2,19.4 L18.2,19.4 L20.2,19.3 L22.1,19.2 L24.0,19.3 L26.0,19.2 L28.0,19.0 L30.0,18.8 M17.8,15.7 L19.8,15.4 L21.9,15.0 L24.0,15.1 L26.0,15.1 M14.1,18.6 L16.1,18.6 L18.1,18.5 L20.1,18.4 L22.1,18.3 L24.0,18.2 L26.0,18.3 L28.0,18.2 M14.0,17.9 L16.0,17.7 L18.0,17.5 L20.0,17.3 L22.0,17.1 L24.0,17.1 L26.0,17.0 L28.0,17.1 M11.9,17.0 L13.9,16.4 L15.8,15.9 L17.8,15.4 L19.8,15.1 L21.9,14.8 L24.0,14.8 L26.0,14.9" fill="none" stroke="#f01a1a" stroke-width="0.36" opacity="0.70"/><path d="M9.9,21.1 L11.9,22.1 L13.9,23.2 L15.9,24.2 L17.9,25.3 L19.9,26.2 L21.9,27.2 L23.9,28.2 M8.1,19.9 L10.0,20.9 L12.1,21.8 L14.1,22.8 L16.1,23.9 L18.1,24.8 L20.1,25.9 L22.1,26.8 L24.1,27.9 L26.1,28.7 L28.1,29.6 M12.3,21.5 L14.3,22.5 L16.3,23.4 L18.4,24.3 L20.3,25.4 L22.3,26.3 M14.4,22.1 L16.5,23.1 L18.5,23.9 L20.5,25.0 L22.5,26.0 L24.4,27.1 L26.4,28.0 L28.3,29.0 M14.4,22.1 L16.5,23.1 L18.5,24.0 L20.5,25.0 L22.5,26.0 L24.4,27.1 L26.4,28.0 M9.7,21.7 L11.6,22.7 L13.6,23.8 L15.5,25.0 L17.5,26.1 L19.5,27.1 L21.5,28.1 L23.6,28.9 M9.5,21.9 L11.4,23.1 L13.4,24.3 L15.3,25.4 L17.2,26.6 L19.2,27.5 L21.2,28.6 L23.3,29.4 M8.3,19.5 L10.3,20.4 L12.4,21.2 L14.4,22.1 L16.5,23.0 L18.5,24.1 L20.5,25.0 L22.5,26.0 L24.4,27.1 M10.4,20.3 L12.5,21.0 L14.5,21.9 L16.6,22.9 L18.6,23.8 L20.6,24.7 L22.6,25.7 L24.5,26.9 L26.5,27.8 L28.4,28.8 L30.3,29.8 M13.8,23.3 L15.8,24.3 L17.8,25.3 L19.8,26.4 L21.8,27.3 L23.9,28.3 L25.9,29.2 L27.9,30.1 M7.7,20.6 L9.7,21.7 L11.5,22.9 L13.5,24.0 L15.4,25.1 L17.4,26.2 L19.4,27.2 L21.4,28.2 L23.4,29.2 L25.5,30.0 L27.6,30.6 L29.7,31.4 M8.1,19.9 L10.1,20.8 L12.2,21.7 L14.1,22.7 L16.2,23.7 L18.2,24.7 L20.2,25.6 L22.2,26.7 L24.2,27.6 L26.1,28.6 L28.1,29.5 M13.8,23.5 L15.8,24.5 L17.7,25.6 L19.7,26.5 L21.7,27.5 L23.7,28.6" fill="none" stroke="#f01a1a" stroke-width="0.36" opacity="0.63"/><path d="M8.3,22.0 L7.7,24.0 L7.0,26.0 M8.0,21.9 L7.3,23.9 L6.7,25.9 M8.4,22.0 L7.8,24.0 L7.1,26.0 L6.6,28.5" fill="none" stroke="#f01a1a" stroke-width="0.36" opacity="0.42"/><path d="M10.4,22.3 L10.8,24.6 L11.1,27.0 L11.4,29.2 L11.8,31.3 M10.2,20.0 L10.6,22.3 L11.0,24.6 L11.3,26.9 L11.7,29.1 M10.0,22.4 L10.3,24.7 L10.6,27.1 L11.0,29.2 L11.4,31.4" fill="none" stroke="#f01a1a" stroke-width="0.36" opacity="0.42"/><path d="M24.9,14.0 L25.7,11.9 L26.6,9.8 M25.3,14.1 L26.6,12.3 L27.7,10.4 L28.3,8.8 M24.8,13.9 L25.7,11.8 L26.6,9.8 M26.4,12.2 L27.3,10.2 L28.1,8.7 M26.0,12.0 L26.9,10.0 L27.6,8.4" fill="none" stroke="#f01a1a" stroke-width="0.36" opacity="0.49"/><path d="M22.0,20.1 L23.6,21.2 L25.2,22.4 L26.8,23.7 L28.4,24.8 L30.0,26.1 L32.0,27.1 M23.7,21.0 L25.4,22.1 L27.0,23.3 L28.6,24.5 L30.2,25.7 L32.1,26.7 M22.0,20.0 L23.6,21.2 L25.3,22.3 L26.9,23.5 L28.5,24.7 L30.0,25.9 L32.0,27.0 M23.5,21.4 L25.0,22.7 L26.6,23.9 L28.1,25.1 L29.8,26.3 L31.9,27.2 M21.7,20.4 L23.2,21.7 L24.7,23.1 L26.3,24.3 L27.9,25.5 L29.6,26.7 L31.7,27.5 M23.7,21.1 L25.3,22.2 L26.9,23.4 L28.6,24.6 L30.1,25.8 M23.5,21.4 L25.0,22.6 L26.6,23.9 L28.2,25.1 L29.9,26.2 M21.8,20.2 L23.4,21.5 L24.9,22.7 L26.5,24.0 L28.1,25.2" fill="none" stroke="#f01a1a" stroke-width="0.36" opacity="0.52"/><path d="M2.0,21.3 L3.9,20.7 L5.9,20.3 L8.4,19.3 M-0.0,22.0 L2.0,21.4 L4.0,20.9 L6.0,20.4 M2.0,21.7 L4.1,21.2 L6.1,20.7 M2.0,21.5 L4.0,21.0 L6.0,20.6 L8.5,19.5 M1.9,21.3 L3.9,20.7 L5.9,20.2" fill="none" stroke="#f01a1a" stroke-width="0.36" opacity="0.42"/><path d="M17.9,20.2 L19.9,21.1 L21.8,21.9 L23.8,22.7 L26.2,22.9 M18.1,19.7 L20.1,20.3 L22.2,20.9 L24.1,21.4 L26.4,21.8 M20.2,20.1 L22.3,20.6 L24.2,21.1 L26.5,21.5 L28.8,22.1 M17.9,20.2 L19.9,21.1 L21.8,21.8 L23.9,22.6 L26.3,22.9 M18.0,20.1 L19.9,20.9 L21.9,21.6 L23.9,22.2 L26.3,22.6 L28.6,22.9 M19.8,21.2 L21.8,22.1 L23.8,22.7 L26.2,23.0 L28.6,23.2" fill="none" stroke="#f01a1a" stroke-width="0.36" opacity="0.42"/></g></g>
<g transform="translate(485.7,129.1)" clip-path="url(#cc)"><rect width="33.8" height="33.8" fill="#000"/><g><g filter="url(#tex2)"><g filter="url(#b1)"><path d="M2.0,1.0 L6.0,8.0 L10.0,14.0" fill="none" stroke="#48b020" stroke-width="1.5" stroke-linecap="round" stroke-linejoin="round" opacity="0.25"/><path d="M0.0,14.0 L10.0,13.0 L20.0,9.0 L28.0,6.0" fill="none" stroke="#48b020" stroke-width="5.2" stroke-linecap="round" stroke-linejoin="round" opacity="0.33"/><path d="M0.0,19.0 L8.0,17.0 L14.0,15.0" fill="none" stroke="#48b020" stroke-width="2.8" stroke-linecap="round" stroke-linejoin="round" opacity="0.30"/><path d="M12.0,18.0 L22.0,17.0 L34.0,17.0" fill="none" stroke="#48b020" stroke-width="4.8" stroke-linecap="round" stroke-linejoin="round" opacity="0.33"/><path d="M8.0,20.0 L16.0,24.0 L24.0,28.0 L32.0,31.5" fill="none" stroke="#48b020" stroke-width="3.8" stroke-linecap="round" stroke-linejoin="round" opacity="0.30"/><path d="M9.0,20.0 L7.0,26.0 L6.0,31.0" fill="none" stroke="#48b020" stroke-width="0.8" stroke-linecap="round" stroke-linejoin="round" opacity="0.20"/><path d="M10.0,20.0 L11.0,27.0 L12.0,33.5" fill="none" stroke="#48b020" stroke-width="0.8" stroke-linecap="round" stroke-linejoin="round" opacity="0.20"/><path d="M25.0,14.0 L27.0,10.0 L28.5,7.0" fill="none" stroke="#48b020" stroke-width="1.5" stroke-linecap="round" stroke-linejoin="round" opacity="0.23"/><path d="M22.0,20.0 L30.0,26.0 L34.0,28.0" fill="none" stroke="#48b020" stroke-width="2.4" stroke-linecap="round" stroke-linejoin="round" opacity="0.25"/><path d="M0.0,22.0 L6.0,20.5 L11.0,18.5" fill="none" stroke="#48b020" stroke-width="1.4" stroke-linecap="round" stroke-linejoin="round" opacity="0.20"/><path d="M18.0,20.0 L24.0,22.0 L31.0,23.0" fill="none" stroke="#48b020" stroke-width="1.9" stroke-linecap="round" stroke-linejoin="round" opacity="0.20"/></g><path d="M2.5,3.0 L3.4,4.8 L4.4,6.6 L5.3,8.4 L6.8,10.3 L8.2,12.3 M3.6,4.7 L4.5,6.5 L5.4,8.3 M2.3,0.8 L3.5,2.5 L4.6,4.1 L5.7,5.9 L6.6,7.6 M2.8,2.9 L3.7,4.7 L4.7,6.4 L5.7,8.2 L7.1,10.2 L8.4,12.2 M2.9,2.8 L3.9,4.6 L4.8,6.4 L5.8,8.1 L7.2,10.1" fill="none" stroke="#58d028" stroke-width="0.35" opacity="0.14"/><path d="M6.0,13.5 L8.0,13.3 L10.0,13.1 L12.0,12.3 L14.0,11.5 L16.1,10.8 L18.0,9.9 L20.1,9.2 M0.1,14.6 L2.1,14.5 L4.1,14.4 L6.1,14.3 L8.1,14.2 L10.2,14.0 L12.4,13.2 L14.4,12.4 L16.4,11.6 L18.4,10.8 L20.3,9.9 L22.3,9.1 M3.8,12.0 L5.8,11.6 L7.8,11.1 L9.5,10.8 L11.1,10.0 L13.1,9.1 L15.1,8.4 L17.2,7.7 M2.0,14.2 L4.1,14.2 L6.1,14.1 L8.1,13.9 L10.2,13.8 L12.3,13.0 L14.3,12.2 L16.3,11.4 L18.3,10.5 L20.3,9.7 L22.2,8.8 M7.9,12.6 L9.8,12.4 L11.7,11.6 L13.7,10.7 L15.7,9.9 L17.7,9.1 M0.0,14.4 L2.0,14.2 L4.0,14.1 L6.1,14.0 L8.1,13.8 L10.2,13.7 L12.3,12.8 L14.3,12.1 L16.3,11.3 L18.2,10.4 M3.9,12.7 L5.9,12.3 L7.9,12.0 L9.7,11.7 L11.5,10.9 L13.5,10.2 L15.5,9.4 L17.5,8.6 L19.6,7.9 L21.6,7.3 M0.1,15.0 L2.1,15.1 L4.2,15.2 L6.2,15.3 L8.2,15.3 L10.6,15.2 L12.9,14.4 L14.9,13.6 L16.9,12.8 L18.9,11.9 L20.8,11.0 L22.6,10.0 M7.8,11.1 L9.4,10.8 L11.1,10.0 L13.1,9.1 L15.1,8.3 L17.1,7.6 L19.2,7.0 L21.3,6.5 M6.1,14.7 L8.1,14.6 L10.4,14.5 L12.6,13.7 L14.6,12.9 L16.6,12.1 L18.6,11.3 L20.5,10.4 L22.4,9.4 M5.9,12.5 L7.9,12.2 L9.7,11.9 L11.6,11.2 L13.5,10.3 L15.6,9.5 L17.6,8.7 L19.6,8.1 L21.7,7.4 L23.7,6.8 M2.0,14.1 L4.0,14.0 L6.0,13.8 L8.1,13.7 L10.1,13.5 L12.2,12.7 L14.2,12.0 L16.2,11.1 L18.2,10.3 L20.2,9.5 M5.9,12.6 L7.9,12.3 L9.8,12.1 L11.6,11.3 L13.7,10.6 L15.6,9.7 L17.7,9.0 M8.0,13.3 L10.0,13.1 L12.0,12.3 L14.1,11.5 L16.0,10.7 L18.1,10.0 L20.0,9.1 L22.1,8.4 L24.0,7.6 M6.2,15.4 L8.2,15.4 L10.6,15.3 L12.9,14.5 L15.0,13.8 L16.9,12.9 L18.9,12.0 L20.8,11.0 L22.7,10.1 L24.6,9.1 L26.5,8.1 M1.9,12.3 L3.8,11.8 L5.8,11.3 L7.8,10.9 L9.4,10.5 L11.0,9.8 L13.0,9.0 L15.0,8.1 L17.1,7.5 L19.1,6.8 L21.3,6.3 L23.4,5.8 L25.5,5.3 M4.1,15.0 L6.1,14.9 L8.2,14.9 L10.4,14.8 L12.7,14.0 L14.7,13.2 L16.7,12.4 L18.7,11.5 L20.6,10.6 L22.5,9.7 L24.5,8.8 L26.4,7.8 M6.1,13.9 L8.1,13.9 L10.2,13.7 L12.3,12.9 L14.3,12.1 L16.3,11.3 L18.2,10.4 L20.2,9.6" fill="none" stroke="#58d028" stroke-width="0.35" opacity="0.18"/><path d="M-0.1,18.5 L1.8,17.7 L3.8,17.0 L5.7,16.5 L7.7,16.0 L9.7,15.4 M0.1,19.4 L2.1,19.0 L4.2,18.6 L6.2,18.1 L8.2,17.6 L10.2,16.9 M-0.0,19.0 L2.0,18.5 L4.0,18.1 L6.0,17.6 L8.0,17.1 L10.0,16.4 M1.8,17.6 L3.7,16.9 L5.7,16.3 L7.6,15.7 L9.6,15.3 M-0.2,18.4 L1.7,17.5 L3.7,16.7 L5.7,16.1 L7.6,15.6 L9.6,15.0 L11.7,14.8 M0.0,19.1 L2.0,18.6 L4.0,18.2 L6.0,17.7 L8.1,17.2 L10.0,16.5 M2.2,19.1 L4.2,18.9 L6.2,18.5 L8.3,17.9 L10.3,17.2 L12.2,16.3 M-0.1,18.6 L1.8,17.8 L3.8,17.2 L5.8,16.5 L7.7,16.1 L9.7,15.5 L11.8,15.1 M2.2,19.3 L4.3,19.1 L6.3,18.7 L8.3,18.2 L10.4,17.4 L12.3,16.5 M2.2,19.2 L4.2,18.8 L6.2,18.4 L8.2,17.9" fill="none" stroke="#58d028" stroke-width="0.35" opacity="0.16"/><path d="M14.1,18.4 L16.1,18.3 L18.1,18.3 L20.1,18.2 L22.1,18.0 L24.0,18.0 L26.0,18.0 L28.0,17.8 L30.0,17.7 M16.0,17.2 L18.0,17.0 L20.0,16.7 L22.0,16.5 L24.0,16.5 L26.0,16.5 L28.0,16.6 L30.0,16.6 L32.0,16.8 M14.0,17.8 L16.0,17.6 L18.0,17.4 L20.0,17.3 L22.0,17.0 L24.0,17.1 L26.0,17.1 M12.1,18.8 L14.1,18.8 L16.1,18.8 L18.1,18.8 L20.2,18.8 L22.1,18.6 L24.0,18.6 L26.0,18.6 L28.0,18.5 L30.0,18.3 L32.0,18.1 M16.1,18.7 L18.1,18.6 L20.1,18.5 L22.1,18.4 L24.0,18.3 L26.0,18.4 L28.0,18.2 L30.0,18.0 M14.1,18.7 L16.1,18.7 L18.1,18.7 L20.1,18.5 L22.1,18.5 L24.0,18.4 L26.0,18.4 L28.0,18.3 L30.0,18.1 M17.8,15.5 L19.8,15.1 L21.9,14.9 L24.0,14.9 L26.0,14.9 L28.0,15.2 L30.0,15.4 L32.0,15.7 M12.1,18.7 L14.1,18.7 L16.1,18.7 L18.1,18.7 L20.1,18.6 L22.1,18.6 L24.0,18.5 L26.0,18.5 L28.0,18.4 L30.0,18.2 L32.0,18.0 M18.0,17.6 L20.0,17.4 L22.0,17.1 L24.0,17.2 L26.0,17.1 L28.0,17.1 M18.0,17.4 L20.0,17.3 L22.0,17.0 L24.0,17.0 L26.0,17.1 L28.0,17.0 L30.0,17.1 L32.0,17.1 M17.8,15.3 L19.8,15.0 L21.9,14.7 L24.0,14.6 L26.0,14.8 L28.0,14.9 L30.0,15.2 L32.0,15.6 M14.1,18.7 L16.1,18.7 L18.1,18.7 L20.1,18.6 L22.1,18.5 L24.0,18.5 L26.0,18.4 L28.0,18.3 M12.1,19.0 L14.1,19.2 L16.2,19.4 L18.2,19.4 L20.2,19.3 L22.1,19.2 L24.0,19.3 L26.0,19.2 L28.0,19.0 L30.0,18.8 M17.8,15.7 L19.8,15.4 L21.9,15.0 L24.0,15.1 L26.0,15.1 M14.1,18.6 L16.1,18.6 L18.1,18.5 L20.1,18.4 L22.1,18.3 L24.0,18.2 L26.0,18.3 L28.0,18.2 M14.0,17.9 L16.0,17.7 L18.0,17.5 L20.0,17.3 L22.0,17.1 L24.0,17.1 L26.0,17.0 L28.0,17.1 M11.9,17.0 L13.9,16.4 L15.8,15.9 L17.8,15.4 L19.8,15.1 L21.9,14.8 L24.0,14.8 L26.0,14.9" fill="none" stroke="#58d028" stroke-width="0.35" opacity="0.18"/><path d="M9.9,21.1 L11.9,22.1 L13.9,23.2 L15.9,24.2 L17.9,25.3 L19.9,26.2 L21.9,27.2 L23.9,28.2 M8.1,19.9 L10.0,20.9 L12.1,21.8 L14.1,22.8 L16.1,23.9 L18.1,24.8 L20.1,25.9 L22.1,26.8 L24.1,27.9 L26.1,28.7 L28.1,29.6 M12.3,21.5 L14.3,22.5 L16.3,23.4 L18.4,24.3 L20.3,25.4 L22.3,26.3 M14.4,22.1 L16.5,23.1 L18.5,23.9 L20.5,25.0 L22.5,26.0 L24.4,27.1 L26.4,28.0 L28.3,29.0 M14.4,22.1 L16.5,23.1 L18.5,24.0 L20.5,25.0 L22.5,26.0 L24.4,27.1 L26.4,28.0 M9.7,21.7 L11.6,22.7 L13.6,23.8 L15.5,25.0 L17.5,26.1 L19.5,27.1 L21.5,28.1 L23.6,28.9 M9.5,21.9 L11.4,23.1 L13.4,24.3 L15.3,25.4 L17.2,26.6 L19.2,27.5 L21.2,28.6 L23.3,29.4 M8.3,19.5 L10.3,20.4 L12.4,21.2 L14.4,22.1 L16.5,23.0 L18.5,24.1 L20.5,25.0 L22.5,26.0 L24.4,27.1 M10.4,20.3 L12.5,21.0 L14.5,21.9 L16.6,22.9 L18.6,23.8 L20.6,24.7 L22.6,25.7 L24.5,26.9 L26.5,27.8 L28.4,28.8 L30.3,29.8 M13.8,23.3 L15.8,24.3 L17.8,25.3 L19.8,26.4 L21.8,27.3 L23.9,28.3 L25.9,29.2 L27.9,30.1 M7.7,20.6 L9.7,21.7 L11.5,22.9 L13.5,24.0 L15.4,25.1 L17.4,26.2 L19.4,27.2 L21.4,28.2 L23.4,29.2 L25.5,30.0 L27.6,30.6 L29.7,31.4 M8.1,19.9 L10.1,20.8 L12.2,21.7 L14.1,22.7 L16.2,23.7 L18.2,24.7 L20.2,25.6 L22.2,26.7 L24.2,27.6 L26.1,28.6 L28.1,29.5 M13.8,23.5 L15.8,24.5 L17.7,25.6 L19.7,26.5 L21.7,27.5 L23.7,28.6" fill="none" stroke="#58d028" stroke-width="0.35" opacity="0.16"/><path d="M8.3,22.0 L7.7,24.0 L7.0,26.0 M8.0,21.9 L7.3,23.9 L6.7,25.9 M8.4,22.0 L7.8,24.0 L7.1,26.0 L6.6,28.5" fill="none" stroke="#58d028" stroke-width="0.35" opacity="0.11"/><path d="M10.4,22.3 L10.8,24.6 L11.1,27.0 L11.4,29.2 L11.8,31.3 M10.2,20.0 L10.6,22.3 L11.0,24.6 L11.3,26.9 L11.7,29.1 M10.0,22.4 L10.3,24.7 L10.6,27.1 L11.0,29.2 L11.4,31.4" fill="none" stroke="#58d028" stroke-width="0.35" opacity="0.11"/><path d="M24.9,14.0 L25.7,11.9 L26.6,9.8 M25.3,14.1 L26.6,12.3 L27.7,10.4 L28.3,8.8 M24.8,13.9 L25.7,11.8 L26.6,9.8 M26.4,12.2 L27.3,10.2 L28.1,8.7 M26.0,12.0 L26.9,10.0 L27.6,8.4" fill="none" stroke="#58d028" stroke-width="0.35" opacity="0.13"/><path d="M22.0,20.1 L23.6,21.2 L25.2,22.4 L26.8,23.7 L28.4,24.8 L30.0,26.1 L32.0,27.1 M23.7,21.0 L25.4,22.1 L27.0,23.3 L28.6,24.5 L30.2,25.7 L32.1,26.7 M22.0,20.0 L23.6,21.2 L25.3,22.3 L26.9,23.5 L28.5,24.7 L30.0,25.9 L32.0,27.0 M23.5,21.4 L25.0,22.7 L26.6,23.9 L28.1,25.1 L29.8,26.3 L31.9,27.2 M21.7,20.4 L23.2,21.7 L24.7,23.1 L26.3,24.3 L27.9,25.5 L29.6,26.7 L31.7,27.5 M23.7,21.1 L25.3,22.2 L26.9,23.4 L28.6,24.6 L30.1,25.8 M23.5,21.4 L25.0,22.6 L26.6,23.9 L28.2,25.1 L29.9,26.2 M21.8,20.2 L23.4,21.5 L24.9,22.7 L26.5,24.0 L28.1,25.2" fill="none" stroke="#58d028" stroke-width="0.35" opacity="0.14"/><path d="M2.0,21.3 L3.9,20.7 L5.9,20.3 L8.4,19.3 M-0.0,22.0 L2.0,21.4 L4.0,20.9 L6.0,20.4 M2.0,21.7 L4.1,21.2 L6.1,20.7 M2.0,21.5 L4.0,21.0 L6.0,20.6 L8.5,19.5 M1.9,21.3 L3.9,20.7 L5.9,20.2" fill="none" stroke="#58d028" stroke-width="0.35" opacity="0.11"/><path d="M17.9,20.2 L19.9,21.1 L21.8,21.9 L23.8,22.7 L26.2,22.9 M18.1,19.7 L20.1,20.3 L22.2,20.9 L24.1,21.4 L26.4,21.8 M20.2,20.1 L22.3,20.6 L24.2,21.1 L26.5,21.5 L28.8,22.1 M17.9,20.2 L19.9,21.1 L21.8,21.8 L23.9,22.6 L26.3,22.9 M18.0,20.1 L19.9,20.9 L21.9,21.6 L23.9,22.2 L26.3,22.6 L28.6,22.9 M19.8,21.2 L21.8,22.1 L23.8,22.7 L26.2,23.0 L28.6,23.2" fill="none" stroke="#58d028" stroke-width="0.35" opacity="0.11"/></g><g filter="url(#b2)"><circle cx="4.5" cy="6.5" r="0.68" fill="#8cf040" opacity="0.63"/><circle cx="5.5" cy="9" r="0.60" fill="#8cf040" opacity="0.54"/><circle cx="1" cy="12.5" r="0.60" fill="#8cf040" opacity="0.54"/><circle cx="9" cy="16.5" r="0.68" fill="#8cf040" opacity="0.54"/><circle cx="21.5" cy="12" r="0.60" fill="#8cf040" opacity="0.63"/><circle cx="26.5" cy="11" r="0.68" fill="#8cf040" opacity="0.63"/><circle cx="25.5" cy="21.5" r="0.75" fill="#8cf040" opacity="0.72"/><circle cx="23" cy="19" r="0.68" fill="#8cf040" opacity="0.54"/><circle cx="31" cy="19" r="0.68" fill="#8cf040" opacity="0.45"/><circle cx="24" cy="27" r="0.68" fill="#8cf040" opacity="0.45"/><circle cx="12" cy="22" r="0.60" fill="#8cf040" opacity="0.45"/><circle cx="27" cy="26" r="0.60" fill="#8cf040" opacity="0.45"/><circle cx="17" cy="17" r="0.68" fill="#8cf040" opacity="0.45"/></g></g></g>
<g transform="translate(521.4,129.1)" clip-path="url(#cc)"><rect width="33.8" height="33.8" fill="#000"/><g><g filter="url(#b2)"><ellipse cx="4.2" cy="7.3" rx="1.34" ry="1.11" fill="#1a24f0" opacity="0.92"/><ellipse cx="4.8" cy="11.9" rx="1.46" ry="1.20" fill="#1a24f0" opacity="0.92"/><ellipse cx="1.3" cy="13.1" rx="1.23" ry="1.02" fill="#1a24f0" opacity="0.92"/><ellipse cx="2.5" cy="18.4" rx="1.46" ry="1.20" fill="#1a24f0" opacity="0.92"/><ellipse cx="8.9" cy="16" rx="1.46" ry="1.20" fill="#1a24f0" opacity="0.92"/><ellipse cx="12.4" cy="12.5" rx="1.34" ry="1.11" fill="#1a24f0" opacity="0.92"/><ellipse cx="14.2" cy="10.2" rx="1.23" ry="1.02" fill="#1a24f0" opacity="0.92"/><ellipse cx="17.7" cy="16.6" rx="1.23" ry="1.02" fill="#1a24f0" opacity="0.92"/><ellipse cx="18.8" cy="18.9" rx="1.34" ry="1.11" fill="#1a24f0" opacity="0.92"/><ellipse cx="25.8" cy="11.9" rx="1.46" ry="1.20" fill="#1a24f0" opacity="0.92"/><ellipse cx="23.5" cy="17.8" rx="1.57" ry="1.29" fill="#1a24f0" opacity="0.92"/><ellipse cx="25.3" cy="18.9" rx="1.46" ry="1.20" fill="#1a24f0" opacity="0.92"/><ellipse cx="27.6" cy="17.8" rx="1.46" ry="1.20" fill="#1a24f0" opacity="0.92"/><ellipse cx="29.4" cy="17.2" rx="1.46" ry="1.20" fill="#1a24f0" opacity="0.92"/><ellipse cx="31.1" cy="20.1" rx="1.34" ry="1.11" fill="#1a24f0" opacity="0.92"/><ellipse cx="10.1" cy="23" rx="1.57" ry="1.29" fill="#1a24f0" opacity="0.92"/><ellipse cx="14.7" cy="22.5" rx="1.34" ry="1.11" fill="#1a24f0" opacity="0.92"/><ellipse cx="22.9" cy="25.4" rx="1.34" ry="1.11" fill="#1a24f0" opacity="0.92"/><ellipse cx="25.3" cy="27.7" rx="1.34" ry="1.11" fill="#1a24f0" opacity="0.92"/><ellipse cx="25.3" cy="31.2" rx="1.46" ry="1.20" fill="#1a24f0" opacity="0.92"/><ellipse cx="32.5" cy="17" rx="1.12" ry="0.92" fill="#1a24f0" opacity="0.92"/><ellipse cx="7" cy="20" rx="1.01" ry="0.83" fill="#1a24f0" opacity="0.92"/></g></g></g>
<g transform="translate(557.1,129.1)" clip-path="url(#cc)"><rect width="33.8" height="33.8" fill="#000"/><g opacity="1.0" filter="url(#tex)"><g filter="url(#b1)"><path d="M2.0,1.0 L6.0,8.0 L10.0,14.0" fill="none" stroke="#a00606" stroke-width="1.3" stroke-linecap="round" stroke-linejoin="round" opacity="0.32"/><path d="M0.0,14.0 L10.0,13.0 L20.0,9.0 L28.0,6.0" fill="none" stroke="#a00606" stroke-width="4.4" stroke-linecap="round" stroke-linejoin="round" opacity="0.42"/><path d="M0.0,19.0 L8.0,17.0 L14.0,15.0" fill="none" stroke="#a00606" stroke-width="2.4" stroke-linecap="round" stroke-linejoin="round" opacity="0.38"/><path d="M12.0,18.0 L22.0,17.0 L34.0,17.0" fill="none" stroke="#a00606" stroke-width="4.0" stroke-linecap="round" stroke-linejoin="round" opacity="0.42"/><path d="M8.0,20.0 L16.0,24.0 L24.0,28.0 L32.0,31.5" fill="none" stroke="#a00606" stroke-width="3.2" stroke-linecap="round" stroke-linejoin="round" opacity="0.38"/><path d="M9.0,20.0 L7.0,26.0 L6.0,31.0" fill="none" stroke="#a00606" stroke-width="0.6" stroke-linecap="round" stroke-linejoin="round" opacity="0.25"/><path d="M10.0,20.0 L11.0,27.0 L12.0,33.5" fill="none" stroke="#a00606" stroke-width="0.6" stroke-linecap="round" stroke-linejoin="round" opacity="0.25"/><path d="M25.0,14.0 L27.0,10.0 L28.5,7.0" fill="none" stroke="#a00606" stroke-width="1.3" stroke-linecap="round" stroke-linejoin="round" opacity="0.29"/><path d="M22.0,20.0 L30.0,26.0 L34.0,28.0" fill="none" stroke="#a00606" stroke-width="2.0" stroke-linecap="round" stroke-linejoin="round" opacity="0.32"/><path d="M0.0,22.0 L6.0,20.5 L11.0,18.5" fill="none" stroke="#a00606" stroke-width="1.2" stroke-linecap="round" stroke-linejoin="round" opacity="0.25"/><path d="M18.0,20.0 L24.0,22.0 L31.0,23.0" fill="none" stroke="#a00606" stroke-width="1.6" stroke-linecap="round" stroke-linejoin="round" opacity="0.25"/></g><path d="M2.5,3.0 L3.4,4.8 L4.4,6.6 L5.3,8.4 L6.8,10.3 L8.2,12.3 M3.6,4.7 L4.5,6.5 L5.4,8.3 M2.3,0.8 L3.5,2.5 L4.6,4.1 L5.7,5.9 L6.6,7.6 M2.8,2.9 L3.7,4.7 L4.7,6.4 L5.7,8.2 L7.1,10.2 L8.4,12.2 M2.9,2.8 L3.9,4.6 L4.8,6.4 L5.8,8.1 L7.2,10.1" fill="none" stroke="#f01a1a" stroke-width="0.36" opacity="0.52"/><path d="M6.0,13.5 L8.0,13.3 L10.0,13.1 L12.0,12.3 L14.0,11.5 L16.1,10.8 L18.0,9.9 L20.1,9.2 M0.1,14.6 L2.1,14.5 L4.1,14.4 L6.1,14.3 L8.1,14.2 L10.2,14.0 L12.4,13.2 L14.4,12.4 L16.4,11.6 L18.4,10.8 L20.3,9.9 L22.3,9.1 M3.8,12.0 L5.8,11.6 L7.8,11.1 L9.5,10.8 L11.1,10.0 L13.1,9.1 L15.1,8.4 L17.2,7.7 M2.0,14.2 L4.1,14.2 L6.1,14.1 L8.1,13.9 L10.2,13.8 L12.3,13.0 L14.3,12.2 L16.3,11.4 L18.3,10.5 L20.3,9.7 L22.2,8.8 M7.9,12.6 L9.8,12.4 L11.7,11.6 L13.7,10.7 L15.7,9.9 L17.7,9.1 M0.0,14.4 L2.0,14.2 L4.0,14.1 L6.1,14.0 L8.1,13.8 L10.2,13.7 L12.3,12.8 L14.3,12.1 L16.3,11.3 L18.2,10.4 M3.9,12.7 L5.9,12.3 L7.9,12.0 L9.7,11.7 L11.5,10.9 L13.5,10.2 L15.5,9.4 L17.5,8.6 L19.6,7.9 L21.6,7.3 M0.1,15.0 L2.1,15.1 L4.2,15.2 L6.2,15.3 L8.2,15.3 L10.6,15.2 L12.9,14.4 L14.9,13.6 L16.9,12.8 L18.9,11.9 L20.8,11.0 L22.6,10.0 M7.8,11.1 L9.4,10.8 L11.1,10.0 L13.1,9.1 L15.1,8.3 L17.1,7.6 L19.2,7.0 L21.3,6.5 M6.1,14.7 L8.1,14.6 L10.4,14.5 L12.6,13.7 L14.6,12.9 L16.6,12.1 L18.6,11.3 L20.5,10.4 L22.4,9.4 M5.9,12.5 L7.9,12.2 L9.7,11.9 L11.6,11.2 L13.5,10.3 L15.6,9.5 L17.6,8.7 L19.6,8.1 L21.7,7.4 L23.7,6.8 M2.0,14.1 L4.0,14.0 L6.0,13.8 L8.1,13.7 L10.1,13.5 L12.2,12.7 L14.2,12.0 L16.2,11.1 L18.2,10.3 L20.2,9.5 M5.9,12.6 L7.9,12.3 L9.8,12.1 L11.6,11.3 L13.7,10.6 L15.6,9.7 L17.7,9.0 M8.0,13.3 L10.0,13.1 L12.0,12.3 L14.1,11.5 L16.0,10.7 L18.1,10.0 L20.0,9.1 L22.1,8.4 L24.0,7.6 M6.2,15.4 L8.2,15.4 L10.6,15.3 L12.9,14.5 L15.0,13.8 L16.9,12.9 L18.9,12.0 L20.8,11.0 L22.7,10.1 L24.6,9.1 L26.5,8.1 M1.9,12.3 L3.8,11.8 L5.8,11.3 L7.8,10.9 L9.4,10.5 L11.0,9.8 L13.0,9.0 L15.0,8.1 L17.1,7.5 L19.1,6.8 L21.3,6.3 L23.4,5.8 L25.5,5.3 M4.1,15.0 L6.1,14.9 L8.2,14.9 L10.4,14.8 L12.7,14.0 L14.7,13.2 L16.7,12.4 L18.7,11.5 L20.6,10.6 L22.5,9.7 L24.5,8.8 L26.4,7.8 M6.1,13.9 L8.1,13.9 L10.2,13.7 L12.3,12.9 L14.3,12.1 L16.3,11.3 L18.2,10.4 L20.2,9.6" fill="none" stroke="#f01a1a" stroke-width="0.36" opacity="0.70"/><path d="M-0.1,18.5 L1.8,17.7 L3.8,17.0 L5.7,16.5 L7.7,16.0 L9.7,15.4 M0.1,19.4 L2.1,19.0 L4.2,18.6 L6.2,18.1 L8.2,17.6 L10.2,16.9 M-0.0,19.0 L2.0,18.5 L4.0,18.1 L6.0,17.6 L8.0,17.1 L10.0,16.4 M1.8,17.6 L3.7,16.9 L5.7,16.3 L7.6,15.7 L9.6,15.3 M-0.2,18.4 L1.7,17.5 L3.7,16.7 L5.7,16.1 L7.6,15.6 L9.6,15.0 L11.7,14.8 M0.0,19.1 L2.0,18.6 L4.0,18.2 L6.0,17.7 L8.1,17.2 L10.0,16.5 M2.2,19.1 L4.2,18.9 L6.2,18.5 L8.3,17.9 L10.3,17.2 L12.2,16.3 M-0.1,18.6 L1.8,17.8 L3.8,17.2 L5.8,16.5 L7.7,16.1 L9.7,15.5 L11.8,15.1 M2.2,19.3 L4.3,19.1 L6.3,18.7 L8.3,18.2 L10.4,17.4 L12.3,16.5 M2.2,19.2 L4.2,18.8 L6.2,18.4 L8.2,17.9" fill="none" stroke="#f01a1a" stroke-width="0.36" opacity="0.63"/><path d="M14.1,18.4 L16.1,18.3 L18.1,18.3 L20.1,18.2 L22.1,18.0 L24.0,18.0 L26.0,18.0 L28.0,17.8 L30.0,17.7 M16.0,17.2 L18.0,17.0 L20.0,16.7 L22.0,16.5 L24.0,16.5 L26.0,16.5 L28.0,16.6 L30.0,16.6 L32.0,16.8 M14.0,17.8 L16.0,17.6 L18.0,17.4 L20.0,17.3 L22.0,17.0 L24.0,17.1 L26.0,17.1 M12.1,18.8 L14.1,18.8 L16.1,18.8 L18.1,18.8 L20.2,18.8 L22.1,18.6 L24.0,18.6 L26.0,18.6 L28.0,18.5 L30.0,18.3 L32.0,18.1 M16.1,18.7 L18.1,18.6 L20.1,18.5 L22.1,18.4 L24.0,18.3 L26.0,18.4 L28.0,18.2 L30.0,18.0 M14.1,18.7 L16.1,18.7 L18.1,18.7 L20.1,18.5 L22.1,18.5 L24.0,18.4 L26.0,18.4 L28.0,18.3 L30.0,18.1 M17.8,15.5 L19.8,15.1 L21.9,14.9 L24.0,14.9 L26.0,14.9 L28.0,15.2 L30.0,15.4 L32.0,15.7 M12.1,18.7 L14.1,18.7 L16.1,18.7 L18.1,18.7 L20.1,18.6 L22.1,18.6 L24.0,18.5 L26.0,18.5 L28.0,18.4 L30.0,18.2 L32.0,18.0 M18.0,17.6 L20.0,17.4 L22.0,17.1 L24.0,17.2 L26.0,17.1 L28.0,17.1 M18.0,17.4 L20.0,17.3 L22.0,17.0 L24.0,17.0 L26.0,17.1 L28.0,17.0 L30.0,17.1 L32.0,17.1 M17.8,15.3 L19.8,15.0 L21.9,14.7 L24.0,14.6 L26.0,14.8 L28.0,14.9 L30.0,15.2 L32.0,15.6 M14.1,18.7 L16.1,18.7 L18.1,18.7 L20.1,18.6 L22.1,18.5 L24.0,18.5 L26.0,18.4 L28.0,18.3 M12.1,19.0 L14.1,19.2 L16.2,19.4 L18.2,19.4 L20.2,19.3 L22.1,19.2 L24.0,19.3 L26.0,19.2 L28.0,19.0 L30.0,18.8 M17.8,15.7 L19.8,15.4 L21.9,15.0 L24.0,15.1 L26.0,15.1 M14.1,18.6 L16.1,18.6 L18.1,18.5 L20.1,18.4 L22.1,18.3 L24.0,18.2 L26.0,18.3 L28.0,18.2 M14.0,17.9 L16.0,17.7 L18.0,17.5 L20.0,17.3 L22.0,17.1 L24.0,17.1 L26.0,17.0 L28.0,17.1 M11.9,17.0 L13.9,16.4 L15.8,15.9 L17.8,15.4 L19.8,15.1 L21.9,14.8 L24.0,14.8 L26.0,14.9" fill="none" stroke="#f01a1a" stroke-width="0.36" opacity="0.70"/><path d="M9.9,21.1 L11.9,22.1 L13.9,23.2 L15.9,24.2 L17.9,25.3 L19.9,26.2 L21.9,27.2 L23.9,28.2 M8.1,19.9 L10.0,20.9 L12.1,21.8 L14.1,22.8 L16.1,23.9 L18.1,24.8 L20.1,25.9 L22.1,26.8 L24.1,27.9 L26.1,28.7 L28.1,29.6 M12.3,21.5 L14.3,22.5 L16.3,23.4 L18.4,24.3 L20.3,25.4 L22.3,26.3 M14.4,22.1 L16.5,23.1 L18.5,23.9 L20.5,25.0 L22.5,26.0 L24.4,27.1 L26.4,28.0 L28.3,29.0 M14.4,22.1 L16.5,23.1 L18.5,24.0 L20.5,25.0 L22.5,26.0 L24.4,27.1 L26.4,28.0 M9.7,21.7 L11.6,22.7 L13.6,23.8 L15.5,25.0 L17.5,26.1 L19.5,27.1 L21.5,28.1 L23.6,28.9 M9.5,21.9 L11.4,23.1 L13.4,24.3 L15.3,25.4 L17.2,26.6 L19.2,27.5 L21.2,28.6 L23.3,29.4 M8.3,19.5 L10.3,20.4 L12.4,21.2 L14.4,22.1 L16.5,23.0 L18.5,24.1 L20.5,25.0 L22.5,26.0 L24.4,27.1 M10.4,20.3 L12.5,21.0 L14.5,21.9 L16.6,22.9 L18.6,23.8 L20.6,24.7 L22.6,25.7 L24.5,26.9 L26.5,27.8 L28.4,28.8 L30.3,29.8 M13.8,23.3 L15.8,24.3 L17.8,25.3 L19.8,26.4 L21.8,27.3 L23.9,28.3 L25.9,29.2 L27.9,30.1 M7.7,20.6 L9.7,21.7 L11.5,22.9 L13.5,24.0 L15.4,25.1 L17.4,26.2 L19.4,27.2 L21.4,28.2 L23.4,29.2 L25.5,30.0 L27.6,30.6 L29.7,31.4 M8.1,19.9 L10.1,20.8 L12.2,21.7 L14.1,22.7 L16.2,23.7 L18.2,24.7 L20.2,25.6 L22.2,26.7 L24.2,27.6 L26.1,28.6 L28.1,29.5 M13.8,23.5 L15.8,24.5 L17.7,25.6 L19.7,26.5 L21.7,27.5 L23.7,28.6" fill="none" stroke="#f01a1a" stroke-width="0.36" opacity="0.63"/><path d="M8.3,22.0 L7.7,24.0 L7.0,26.0 M8.0,21.9 L7.3,23.9 L6.7,25.9 M8.4,22.0 L7.8,24.0 L7.1,26.0 L6.6,28.5" fill="none" stroke="#f01a1a" stroke-width="0.36" opacity="0.42"/><path d="M10.4,22.3 L10.8,24.6 L11.1,27.0 L11.4,29.2 L11.8,31.3 M10.2,20.0 L10.6,22.3 L11.0,24.6 L11.3,26.9 L11.7,29.1 M10.0,22.4 L10.3,24.7 L10.6,27.1 L11.0,29.2 L11.4,31.4" fill="none" stroke="#f01a1a" stroke-width="0.36" opacity="0.42"/><path d="M24.9,14.0 L25.7,11.9 L26.6,9.8 M25.3,14.1 L26.6,12.3 L27.7,10.4 L28.3,8.8 M24.8,13.9 L25.7,11.8 L26.6,9.8 M26.4,12.2 L27.3,10.2 L28.1,8.7 M26.0,12.0 L26.9,10.0 L27.6,8.4" fill="none" stroke="#f01a1a" stroke-width="0.36" opacity="0.49"/><path d="M22.0,20.1 L23.6,21.2 L25.2,22.4 L26.8,23.7 L28.4,24.8 L30.0,26.1 L32.0,27.1 M23.7,21.0 L25.4,22.1 L27.0,23.3 L28.6,24.5 L30.2,25.7 L32.1,26.7 M22.0,20.0 L23.6,21.2 L25.3,22.3 L26.9,23.5 L28.5,24.7 L30.0,25.9 L32.0,27.0 M23.5,21.4 L25.0,22.7 L26.6,23.9 L28.1,25.1 L29.8,26.3 L31.9,27.2 M21.7,20.4 L23.2,21.7 L24.7,23.1 L26.3,24.3 L27.9,25.5 L29.6,26.7 L31.7,27.5 M23.7,21.1 L25.3,22.2 L26.9,23.4 L28.6,24.6 L30.1,25.8 M23.5,21.4 L25.0,22.6 L26.6,23.9 L28.2,25.1 L29.9,26.2 M21.8,20.2 L23.4,21.5 L24.9,22.7 L26.5,24.0 L28.1,25.2" fill="none" stroke="#f01a1a" stroke-width="0.36" opacity="0.52"/><path d="M2.0,21.3 L3.9,20.7 L5.9,20.3 L8.4,19.3 M-0.0,22.0 L2.0,21.4 L4.0,20.9 L6.0,20.4 M2.0,21.7 L4.1,21.2 L6.1,20.7 M2.0,21.5 L4.0,21.0 L6.0,20.6 L8.5,19.5 M1.9,21.3 L3.9,20.7 L5.9,20.2" fill="none" stroke="#f01a1a" stroke-width="0.36" opacity="0.42"/><path d="M17.9,20.2 L19.9,21.1 L21.8,21.9 L23.8,22.7 L26.2,22.9 M18.1,19.7 L20.1,20.3 L22.2,20.9 L24.1,21.4 L26.4,21.8 M20.2,20.1 L22.3,20.6 L24.2,21.1 L26.5,21.5 L28.8,22.1 M17.9,20.2 L19.9,21.1 L21.8,21.8 L23.9,22.6 L26.3,22.9 M18.0,20.1 L19.9,20.9 L21.9,21.6 L23.9,22.2 L26.3,22.6 L28.6,22.9 M19.8,21.2 L21.8,22.1 L23.8,22.7 L26.2,23.0 L28.6,23.2" fill="none" stroke="#f01a1a" stroke-width="0.36" opacity="0.42"/></g><g><g filter="url(#tex2)"><g filter="url(#b1)"><path d="M2.0,1.0 L6.0,8.0 L10.0,14.0" fill="none" stroke="#48b020" stroke-width="1.5" stroke-linecap="round" stroke-linejoin="round" opacity="0.15"/><path d="M0.0,14.0 L10.0,13.0 L20.0,9.0 L28.0,6.0" fill="none" stroke="#48b020" stroke-width="5.2" stroke-linecap="round" stroke-linejoin="round" opacity="0.20"/><path d="M0.0,19.0 L8.0,17.0 L14.0,15.0" fill="none" stroke="#48b020" stroke-width="2.8" stroke-linecap="round" stroke-linejoin="round" opacity="0.18"/><path d="M12.0,18.0 L22.0,17.0 L34.0,17.0" fill="none" stroke="#48b020" stroke-width="4.8" stroke-linecap="round" stroke-linejoin="round" opacity="0.20"/><path d="M8.0,20.0 L16.0,24.0 L24.0,28.0 L32.0,31.5" fill="none" stroke="#48b020" stroke-width="3.8" stroke-linecap="round" stroke-linejoin="round" opacity="0.18"/><path d="M9.0,20.0 L7.0,26.0 L6.0,31.0" fill="none" stroke="#48b020" stroke-width="0.8" stroke-linecap="round" stroke-linejoin="round" opacity="0.12"/><path d="M10.0,20.0 L11.0,27.0 L12.0,33.5" fill="none" stroke="#48b020" stroke-width="0.8" stroke-linecap="round" stroke-linejoin="round" opacity="0.12"/><path d="M25.0,14.0 L27.0,10.0 L28.5,7.0" fill="none" stroke="#48b020" stroke-width="1.5" stroke-linecap="round" stroke-linejoin="round" opacity="0.14"/><path d="M22.0,20.0 L30.0,26.0 L34.0,28.0" fill="none" stroke="#48b020" stroke-width="2.4" stroke-linecap="round" stroke-linejoin="round" opacity="0.15"/><path d="M0.0,22.0 L6.0,20.5 L11.0,18.5" fill="none" stroke="#48b020" stroke-width="1.4" stroke-linecap="round" stroke-linejoin="round" opacity="0.12"/><path d="M18.0,20.0 L24.0,22.0 L31.0,23.0" fill="none" stroke="#48b020" stroke-width="1.9" stroke-linecap="round" stroke-linejoin="round" opacity="0.12"/></g></g><g filter="url(#b2)"><circle cx="4.5" cy="6.5" r="0.68" fill="#b0f040" opacity="0.56"/><circle cx="5.5" cy="9" r="0.60" fill="#b0f040" opacity="0.48"/><circle cx="1" cy="12.5" r="0.60" fill="#b0f040" opacity="0.48"/><circle cx="9" cy="16.5" r="0.68" fill="#b0f040" opacity="0.48"/><circle cx="21.5" cy="12" r="0.60" fill="#b0f040" opacity="0.56"/><circle cx="26.5" cy="11" r="0.68" fill="#b0f040" opacity="0.56"/><circle cx="25.5" cy="21.5" r="0.75" fill="#b0f040" opacity="0.64"/><circle cx="23" cy="19" r="0.68" fill="#b0f040" opacity="0.48"/><circle cx="31" cy="19" r="0.68" fill="#b0f040" opacity="0.40"/><circle cx="24" cy="27" r="0.68" fill="#b0f040" opacity="0.40"/><circle cx="12" cy="22" r="0.60" fill="#b0f040" opacity="0.40"/><circle cx="27" cy="26" r="0.60" fill="#b0f040" opacity="0.40"/><circle cx="17" cy="17" r="0.68" fill="#b0f040" opacity="0.40"/></g></g><g><g filter="url(#b2)"><ellipse cx="4.2" cy="7.3" rx="1.34" ry="1.11" fill="#5a3cf0" opacity="0.92"/><ellipse cx="4.8" cy="11.9" rx="1.46" ry="1.20" fill="#5a3cf0" opacity="0.92"/><ellipse cx="1.3" cy="13.1" rx="1.23" ry="1.02" fill="#5a3cf0" opacity="0.92"/><ellipse cx="2.5" cy="18.4" rx="1.46" ry="1.20" fill="#5a3cf0" opacity="0.92"/><ellipse cx="8.9" cy="16" rx="1.46" ry="1.20" fill="#5a3cf0" opacity="0.92"/><ellipse cx="12.4" cy="12.5" rx="1.34" ry="1.11" fill="#5a3cf0" opacity="0.92"/><ellipse cx="14.2" cy="10.2" rx="1.23" ry="1.02" fill="#5a3cf0" opacity="0.92"/><ellipse cx="17.7" cy="16.6" rx="1.23" ry="1.02" fill="#5a3cf0" opacity="0.92"/><ellipse cx="18.8" cy="18.9" rx="1.34" ry="1.11" fill="#5a3cf0" opacity="0.92"/><ellipse cx="25.8" cy="11.9" rx="1.46" ry="1.20" fill="#5a3cf0" opacity="0.92"/><ellipse cx="23.5" cy="17.8" rx="1.57" ry="1.29" fill="#5a3cf0" opacity="0.92"/><ellipse cx="25.3" cy="18.9" rx="1.46" ry="1.20" fill="#5a3cf0" opacity="0.92"/><ellipse cx="27.6" cy="17.8" rx="1.46" ry="1.20" fill="#5a3cf0" opacity="0.92"/><ellipse cx="29.4" cy="17.2" rx="1.46" ry="1.20" fill="#5a3cf0" opacity="0.92"/><ellipse cx="31.1" cy="20.1" rx="1.34" ry="1.11" fill="#5a3cf0" opacity="0.92"/><ellipse cx="10.1" cy="23" rx="1.57" ry="1.29" fill="#5a3cf0" opacity="0.92"/><ellipse cx="14.7" cy="22.5" rx="1.34" ry="1.11" fill="#5a3cf0" opacity="0.92"/><ellipse cx="22.9" cy="25.4" rx="1.34" ry="1.11" fill="#5a3cf0" opacity="0.92"/><ellipse cx="25.3" cy="27.7" rx="1.34" ry="1.11" fill="#5a3cf0" opacity="0.92"/><ellipse cx="25.3" cy="31.2" rx="1.46" ry="1.20" fill="#5a3cf0" opacity="0.92"/><ellipse cx="32.5" cy="17" rx="1.12" ry="0.92" fill="#5a3cf0" opacity="0.92"/><ellipse cx="7" cy="20" rx="1.01" ry="0.83" fill="#5a3cf0" opacity="0.92"/></g></g><rect x="24.9" y="30.8" width="8.0" height="1.8" fill="#fff"/></g>
</svg>
</body></html>
